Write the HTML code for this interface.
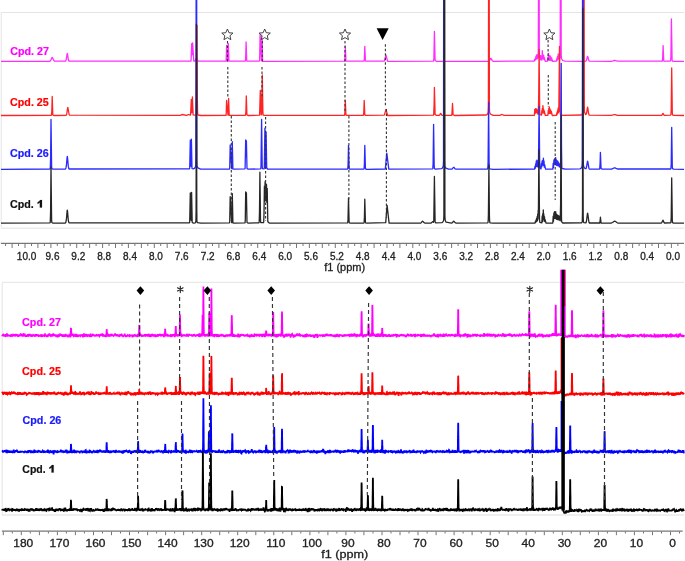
<!DOCTYPE html><html><head><meta charset="utf-8"><style>html,body{margin:0;padding:0;background:#fff;width:685px;height:561px;overflow:hidden}svg{display:block;will-change:transform}text{font-family:"Liberation Sans",sans-serif}</style></head><body>
<svg width="685" height="561" viewBox="0 0 685 561">
<defs><clipPath id="c2"><rect x="0" y="269.4" width="685" height="260"/></clipPath><clipPath id="c1"><rect x="0" y="0" width="685" height="235"/></clipPath></defs>
<path d="M1.2 227.6 V12.5 H684" fill="none" stroke="#e4e4e4" stroke-width="1"/>
<path d="M1 228.3 H684" stroke="#ebebeb" stroke-width="1.4"/>
<path d="M2.2 514.8 V282.3 H684" fill="none" stroke="#e4e4e4" stroke-width="1"/>
<path d="M2 515 H684" stroke="#e9e9e9" stroke-width="1.6"/>
<g clip-path="url(#c1)" fill="none" stroke-width="1.3" stroke-linejoin="round">
<path stroke="#ff2eff" d="M1 61.4 49.7 61.3 50.3 60.9 51 59.8 52 57.5 52.2 57.4 52.5 57.7 53.8 60.5 54.4 61.1 65.4 61.2 65.8 60.9 66.2 59.6 67.1 53.9 67.3 53.4 67.5 53.9 68.3 59.6 68.8 60.9 69.2 61.2 190.9 61.1 191.1 60.2 191.7 43.7 192.1 54.8 192.6 42.8 193.8 61.2 194.7 61 195.3 60.3 196.1 58.6 196.4 58.4 196.7 58.6 197.8 60.7 198.4 61.2 226 61.1 226.2 59.4 226.6 45.4 227.2 61.1 227.7 61.1 227.9 60.2 228.3 43.4 228.9 61.1 245.2 61.2 245.4 60.7 245.7 57.1 246.1 41.9 246.7 60.2 247 61.2 259.4 61.1 259.6 60.5 260.1 34.2 261.4 60.8 261.6 58.1 262 34.4 262.6 61 263.5 61.3 344.5 61.2 344.6 60.9 344.9 58.1 345.3 46.4 345.9 60.4 346.2 61.2 364 61.1 364.3 59.6 364.8 46.4 365.4 60.4 365.7 61.2 384.3 61 386 55.2 387.6 61.4 433.5 61.1 433.6 60.8 433.9 57.8 434.4 31.4 435.1 60.4 436.4 61.3 488.7 61.3 489.2 61 490.1 59.7 490.6 58.6 490.9 58.4 491.2 58.6 492.3 60.7 493.1 61.3 534.3 61 534.7 59.3 535 60.3 535.3 58.3 535.6 59.7 535.9 56.4 536.2 59.1 536.5 54.8 536.8 58 537.1 54.8 537.4 58.6 537.6 54.7 538.1 57.9 538.3 49.3 538.7 -50 539.1 -50 539.3 52.8 539.4 56.9 540.2 59.8 540.6 55.7 541.1 59.7 541.5 56.2 542 60.1 542.3 50.7 542.7 58.1 543 54.7 543.3 58.6 543.6 55.4 544 59.7 544.2 57.5 545.3 61.3 547.4 61.1 547.8 57.3 548.1 59.9 548.5 53.3 548.8 58.9 549 55.6 549.6 60.3 550 55.6 550.4 60.1 550.6 56.6 551.1 60.6 551.5 57.8 552.5 61.3 556.5 61 556.9 58.1 557.2 60.2 557.6 56.4 557.9 58.9 558.2 53.9 558.5 59.1 558.7 54.9 559.5 59.5 560 57.9 560.2 49.3 560.4 -50 561 -50 561.2 52.8 561.3 56.9 561.6 58.7 562.6 60.5 565 61.2 585.4 61.3 586 61 586.4 60.3 587.4 56.7 587.6 56.4 587.8 56.7 588.8 60.3 589.3 61.1 611 61.3 613.1 60.8 614.2 60.5 615.2 60.5 617.3 61.2 662.3 61.2 662.4 60.9 662.7 57.9 663.1 45.6 663.7 60.4 664 61.2 670.4 61.1 670.6 60.6 670.9 56.2 671.4 19 672.1 60 672.4 61.1 673.4 61.3 684 61.4"/>
<path stroke="#ff2424" d="M1 115.5 51.3 115.3 51.5 114.9 51.8 111.3 52.2 96.5 52.8 114.3 53 115.2 54.2 115.5 66 115.3 66.3 115 66.8 113.7 67.6 108 67.8 107.5 68 108 69.1 114.5 69.5 115.2 180.3 115.4 182 114.5 186.6 115.4 188.6 114.5 190.4 115.2 190.6 114.8 191.3 99.4 191.8 112.5 192.1 108.3 192.4 96.9 193.1 114.8 195.4 115.2 196 114.9 196.2 114.5 196.3 114 196.5 110 197 25.5 197.3 92.2 197.5 110 197.7 114 198.1 115 201.2 115.5 226 115.3 226.2 113.7 226.6 100.5 228 115.1 228.3 111.7 228.6 98.5 229.2 115.3 245.4 115.3 245.6 114.8 245.9 111.2 246.3 96 246.9 114.3 247.1 115.2 248.3 115.5 259.4 115.2 259.6 114.6 260.3 90.4 261.1 114.8 261.4 114.9 261.6 113.8 262.3 75 262.9 112.9 263.2 115.1 264.3 115.4 344.5 115.3 344.6 115 344.9 112.2 345.3 100.5 345.9 114.5 346.2 115.3 363.4 115.3 363.5 115 363.8 112.2 364.2 100.5 364.8 114.5 365.1 115.3 384.3 115.1 386 109.4 387.6 115.5 433.5 115.2 433.7 114.5 434.1 105.1 434.4 87.5 435.1 114.5 436.5 115.4 439.3 115.3 440.1 114.4 440.5 113.6 440.7 113.5 441.1 114 441.8 115.1 442.4 115.4 451.7 115.3 451.9 114.7 452.5 103.5 453.1 114.7 454.5 115.5 486.3 115 487.1 114.5 487.7 113.7 488.2 112.1 488.4 106.9 488.6 -21 488.7 -50 489.1 -50 489.2 -21 489.4 106.9 489.5 111 489.6 112.1 490.3 114 493.1 115.3 500 115.3 501.6 114.5 502 114.5 504.1 115.4 534.4 115.3 534.8 109.4 535.2 113.4 535.5 108.6 535.8 112.6 536.1 109.4 536.4 112.4 536.7 108.9 537 112.8 537.3 109.8 537.6 113.9 537.8 110.4 538.3 114.2 538.7 96.4 539.1 49.5 539.7 111 540 114.7 541.5 115.2 541.9 110.3 542.1 113.4 542.4 108.3 542.7 112.3 542.9 105.6 543.4 111.3 543.6 109.2 544 113.5 544.2 110.7 545.3 115.4 547.9 115.3 548.3 110.4 548.5 113.5 548.8 108.3 549.1 112.6 549.3 106.9 549.7 113.5 550 109 550.3 113.1 550.6 110.1 551 113.7 551.2 111.2 552.3 115.5 556.4 115.3 556.9 112.6 557.1 114.5 557.5 110.7 557.8 113.3 558.1 108.2 558.4 112.6 558.7 109.2 558.8 111.7 559.5 46.5 560.1 111.3 560.4 114.7 563 115.4 581.2 115 582 114.4 582.6 113.7 583.1 112 583.2 111.2 583.3 106.9 583.5 -21 583.6 -50 584 -50 584.1 -21 584.3 106.9 584.5 112 585.4 114.2 585.7 114.5 586.1 114.4 586.6 113 587.5 107.4 587.6 107.2 587.8 107.9 588.6 113.6 589.1 114.9 589.5 115.2 611 115.4 613.1 114.9 614.2 114.6 615.2 114.6 617.3 115.3 661.3 115.4 661.7 115.3 662.8 113.6 663 113.5 663.2 113.6 664 115.1 664.7 115.4 670.7 115.1 670.9 114.6 671.2 109.7 671.7 67.9 672.3 112.5 672.5 114.9 673.7 115.4 684 115.5"/>
<path stroke="#2a2aff" d="M1 169.3 49.9 169 50.2 168.6 50.3 167.6 50.6 158.3 51 119.3 51.6 166.1 51.8 168.6 53 169.2 65.2 169.1 65.6 168.9 66 167.7 66.5 164.5 67.1 157.2 67.3 156.3 67.5 157.2 68.3 166.4 68.8 168.5 69.2 169 189.5 168.9 189.7 168.2 190.3 140.1 190.9 166.3 191.4 139.2 192 168.5 193.1 168.9 194.5 168.4 195.4 166.9 195.7 165.8 195.9 157.2 196.2 -50 196.6 -50 196.9 160.7 197 164.8 197.1 165.9 197.8 167.8 200.6 169.1 229.5 169 229.7 168.4 230.2 144.9 231.7 168.7 231.9 165.9 232.3 141.7 232.9 168.9 234 169.2 244.9 168.9 245.1 168.2 245.7 139.9 246.1 156.7 246.4 140.9 247 168.6 248.2 169.2 260.5 168.9 260.8 168.6 261 166.1 261.6 119.3 262.2 166.1 262.4 168.6 264.1 168.8 264.3 167.8 264.9 128.2 265.5 167.3 266.1 132.1 266.7 168 267.8 169.2 347.6 169.1 347.8 168.5 348.1 164 348.5 145.3 349.1 167.8 349.3 169 350.5 169.2 363.9 169.1 364.1 168.5 364.4 164 364.8 145.3 365.4 167.8 365.6 169 367 169.3 385.3 169 386.8 153.1 388.8 169.2 432.6 168.9 432.8 168.4 433.1 163.8 433.6 124.3 434.2 166.4 434.4 168.7 435.6 169.2 441.6 168.7 442.4 168.1 443.2 166.3 443.3 165.9 443.5 160.7 443.7 -50 444.2 -50 444.5 160.7 444.7 165.9 445.4 167.8 448.4 169.1 451.7 169.1 452.3 168.8 453.4 167.4 453.7 167.3 454 167.4 455.1 168.8 456.2 169.2 487 169.1 487.6 168.8 487.7 168.5 487.9 167.2 488.1 161.7 488.6 102.3 489.1 161.7 489.3 167.2 489.5 168.5 489.8 168.9 493 169.3 534.6 169.1 535 166.2 535.3 168.2 535.7 163.7 536 166.8 536.3 160.9 536.6 166.4 536.9 160.1 537.2 165.3 537.5 160.8 537.8 166.9 538 161.2 538.4 167.2 539.1 106.3 539.7 164.6 540 168.5 541 168.9 541.4 163.1 541.8 166.8 542.1 160.9 542.4 165.3 542.7 160.3 543.1 165.1 543.4 158.2 543.7 165.4 544 161 544.3 167.2 544.5 164.5 545.6 169.2 552.8 169.1 553.2 163.2 553.5 167.6 553.9 160 554.2 164.6 554.5 159.1 554.8 164.1 555.1 158.2 555.4 164.2 555.7 157.7 556.1 165 556.4 160 556.7 165.4 557 160.9 557.3 165.4 557.6 160.9 557.9 165.8 558.2 161.8 558.6 164.6 558.8 162.9 559.2 166.6 559.5 164 559.8 167 560 164.1 560.5 167.9 560.7 162 561.2 63.3 561.5 147.4 561.8 166.9 562.1 168.5 565.4 169.2 580.2 168.8 581.2 168.1 581.8 167.1 582.1 165.8 582.3 160.7 582.6 -50 583 -50 583.3 160.7 583.4 164.8 583.9 167.1 585.1 168.6 585.8 168.7 586.1 168.5 586.6 166.8 587.4 161.7 587.6 161.1 587.8 161.7 588.9 168.2 589.3 169 599.6 169.1 599.7 168.7 600.1 163 600.4 152.3 601.1 168.7 602.4 169.2 611 169.2 612.1 169 614.2 167.9 615 167.8 617.3 169 670.7 169 670.9 168.5 671.2 164.2 671.7 127.3 672.3 166.6 672.5 168.7 673.7 169.2 684 169.3"/>
<path stroke="#262626" d="M1 223.2 49.9 222.8 50.2 222.5 50.3 221.3 50.6 210.8 51 167.2 51.6 219.6 51.8 222.5 53 223.1 65.2 223 65.6 222.8 66 221.6 66.5 218.4 67.1 211.1 67.3 210.2 67.5 211.1 68.3 220.3 68.8 222.4 69.2 222.9 189.5 222.8 189.7 222.1 190.3 192.8 191.1 220.3 191.6 192.5 192.2 222.5 193.4 223.1 195.2 222.8 195.6 222.3 195.9 220.9 196.1 210.6 196.4 24.2 196.8 210.6 196.9 220.9 197.1 222 197.4 222.6 201 223.2 229.5 222.9 229.7 222.3 230.2 196.6 231.7 222.6 231.9 219.6 232.3 193.6 232.9 222.8 234 223.1 244.9 222.9 245.1 222.5 245.3 219.3 245.7 191.8 246.1 209.7 246.4 192.8 247 222.5 248.2 223.1 258.8 222.8 259.1 222.5 259.2 221.4 259.5 211.9 259.9 172.2 260.5 219.9 260.7 222.5 263.5 222.6 263.7 222.2 264 214 264.4 186.2 264.7 201.4 265.1 181.7 265.5 199.8 265.8 183.6 266.2 200.8 266.5 184.7 266.9 202.5 267.2 188.3 267.8 221.8 269.3 223.1 347.6 222.9 347.7 222.7 348 220.1 348.5 198.2 349.1 221.6 349.3 222.9 350.5 223.1 363.9 223 364.1 222.4 364.4 217.9 364.8 199.2 365.4 221.7 365.6 222.9 367 223.2 385.7 222.7 387.1 205.4 389.1 223.1 420.6 223.1 421.2 222.7 422.3 221.3 422.6 221.2 423.2 221.7 424 222.7 425.1 223.1 431.1 223 431.7 222.6 432.6 221.6 433.5 222.3 433.6 222 433.8 220 434.4 176.4 435.1 221.6 435.5 222.8 441.8 222.7 442.8 222 443.4 221 443.7 219.8 443.9 214.6 444.2 -50 444.7 -50 444.8 86.7 444.9 214.6 445 218.7 445.3 220.5 446.1 222.2 451.5 223.1 452 222.9 452.6 222.4 453.4 221.3 453.7 221.2 454 221.3 455.1 222.7 456.2 223.1 487.5 222.9 487.9 222.7 488 222.3 488.2 220.6 488.4 214.6 488.9 165.2 489.4 214.6 489.6 220.6 489.8 222.3 490.1 222.8 493.1 223.2 535 223 535.4 221.3 535.6 222.5 536 219.9 536.3 221.7 536.6 218.4 536.9 221.1 537.2 216.5 537.5 220.6 537.7 214.1 538 218.9 538.2 210.3 538.4 211.7 538.9 149.7 539.5 219.3 539.8 222.4 541.8 222.9 542.2 216 542.5 221.5 542.8 213.6 543.1 219 543.3 210 543.6 218.7 543.8 214 544.2 221.1 544.5 216.7 544.8 221.5 545 219.4 546.1 223.2 552.8 223 553.2 216.1 553.5 221.3 553.9 213 554.2 217.9 554.5 211.6 554.8 218.4 555.1 213 555.4 217.8 555.7 211.6 556 218.8 556.3 213.9 556.6 219.3 556.9 214.8 557.2 219.3 557.5 214.8 557.8 219.7 558.1 215.7 558.4 219.6 558.7 215.7 559 220 559.3 216.5 559.6 219.9 559.9 216.3 560.2 220.8 560.6 204.2 561 115.4 561.5 219 561.7 221.9 562.8 223 581.2 222.9 581.8 222.6 582.1 222 582.3 221 582.5 211.8 582.8 8.2 583.2 216.4 583.4 221.6 583.9 222.6 585.8 222.9 586.1 222.5 586.6 220.3 587.4 213.8 587.6 213.2 587.8 213.8 588.9 222 589.1 222.5 589.5 223 599.7 223 600.1 221 600.4 217.2 601.1 223 610.5 223.1 611.5 223 612.6 222.5 614.2 221.3 614.7 221.2 615.2 221.3 617.3 222.8 618.4 223.1 661.3 223.1 661.7 222.8 662.8 220.4 663 220.2 663.2 220.4 664 222.5 664.5 223 670.7 222.8 670.9 222.3 671.2 217.7 671.7 177.8 672.3 220.3 672.5 222.6 673.7 223.1 684 223.2"/>
</g>
<g clip-path="url(#c2)" fill="none" stroke-width="1.75" stroke-linejoin="miter" stroke-miterlimit="2">
<path stroke="#ff00ff" d="M2 335.2 2.3 335.8 2.6 335.2 2.9 335.2 3.2 334.7 3.5 335.2 3.8 336.2 4.1 335.7 4.4 336.2 4.7 335.6 5 335.7 5.3 335.5 5.6 334.1 5.9 336 6.2 335.8 6.5 335.8 6.8 334.1 7.1 334.1 7.4 334.7 7.7 335 8 335.6 8.3 335.4 8.6 335.8 8.9 334.9 9.2 335.6 9.5 335.7 9.8 334.9 10.1 336.7 10.4 335.8 10.7 336.3 11 334.9 11.3 334.8 11.6 335.1 11.9 335.3 12.2 335.9 12.5 335.6 12.8 335.1 13.1 334.7 13.4 335 13.7 336.3 14 334.8 14.3 335.6 14.6 335.7 14.9 334.3 15.2 335.4 15.5 336.4 15.8 333.9 16.1 335.2 16.4 335.3 16.7 334.8 17 335.8 17.3 335.3 17.6 334.3 17.9 336 18.2 335.9 18.5 336.1 18.8 336.5 19.1 335.7 19.4 335.5 19.7 334.4 20 335.9 20.3 334.9 20.6 335.1 20.9 334.4 21.2 334.7 21.5 335 21.8 336.4 22.1 333.9 22.4 334.3 22.7 335.6 23 336.5 23.3 335.8 23.6 334 23.9 333.5 24.2 335.7 24.5 334.8 24.8 334.6 25.1 336.1 25.4 336.2 25.7 335.5 26 335.6 26.3 335.7 26.6 336.6 26.9 335.9 27.2 335.8 27.5 335.8 27.8 334.2 28.1 336.4 28.4 336.1 28.7 335.8 29 333.9 29.3 334.9 29.6 336 29.9 334 30.2 335.3 30.5 336.2 30.8 334.4 31.1 336.6 31.4 335.8 31.7 335.3 32 335.6 32.3 335.9 32.6 335.5 32.9 336.3 33.2 334.9 33.5 335.1 33.8 336.2 34.1 335.4 34.4 334.7 34.7 336.1 35 336.5 35.3 335.1 35.6 334.4 35.9 335.3 36.2 335.3 36.5 335.2 36.8 336.4 37.1 334.6 37.4 336.3 37.7 334.4 38 334.8 38.3 335.9 38.6 336.2 38.9 336 39.2 335.7 39.5 335.5 39.8 335.5 40.1 335.8 40.4 335.3 40.7 335.6 41 335.8 41.3 335.4 41.6 336 41.9 335.8 42.2 336.9 42.5 335.6 42.8 335.1 43.1 335.1 43.4 335.4 43.7 336.1 44 335.1 44.3 335.7 44.6 336.8 44.9 333.5 45.2 334.6 45.5 335.6 45.8 335.7 46.1 335.6 46.4 335.1 46.7 335.9 47 335.6 47.3 335 47.6 337.2 47.9 335.7 48.2 335 48.5 335.3 48.8 335.2 49.1 335.3 49.4 333.3 49.7 335 50 336.1 50.3 334.5 50.6 335.3 50.9 336.1 51.2 336 51.5 336.5 51.8 334.1 52.1 335.1 52.4 335.1 52.7 335.9 53 336.2 53.3 333.4 53.6 336.2 53.9 334.3 54.2 335.9 54.5 334.3 54.8 335.5 55.1 336.3 55.4 335.3 55.7 335.5 56 336 56.3 335.5 56.6 335.3 56.9 336.5 57.2 336.2 57.5 335.2 57.8 337.5 58.1 334.5 58.4 336.1 58.7 335.2 59 335.5 59.3 335.9 59.6 335.6 59.9 335.9 60.2 334.2 60.5 334.3 60.8 335.9 61.1 334.7 61.4 334.6 61.7 334.3 62 336.3 62.3 336 62.6 336.5 62.9 334.7 63.2 335.4 63.5 334.5 63.8 336 64.1 336.6 64.4 334.7 64.7 336.6 65 336.1 65.3 335.3 65.6 333.9 65.9 336.4 66.2 335.3 66.5 334.9 66.7 335.7 66.8 335.7 67.1 336.5 67.2 334.6 67.4 336.2 67.7 336.5 68 336.5 68.2 335.3 68.3 334.8 68.6 336.2 68.7 335.5 68.9 335.5 69.2 336.4 69.5 335.2 69.5 333.7 69.6 335.1 69.6 334 69.7 336 69.7 335.6 69.8 334.9 69.8 335.4 69.9 336 69.9 335.4 70 336.4 70.1 335.3 70.1 336.1 70.1 336.5 70.2 336.5 70.2 334.8 70.3 336 70.4 333.9 70.4 334.5 70.4 333.8 70.5 335.9 70.6 334 70.6 334.5 70.7 333.6 70.7 333.5 70.7 332.1 70.8 331.3 70.9 330.9 70.9 328.3 71 328.2 71.1 329.1 71.1 329.4 71.2 330.2 71.3 332.2 71.3 334.3 71.3 332.5 71.4 334 71.4 335.7 71.5 335.7 71.6 335.2 71.6 335.9 71.6 335.4 71.7 334.4 71.8 334.2 71.8 334.9 71.9 336 71.9 334.9 71.9 334.7 72 334.8 72.1 334.2 72.1 335.3 72.2 334.5 72.2 335.6 72.3 333.6 72.3 335.6 72.4 334.9 72.4 333.9 72.5 335.9 72.5 335.2 72.8 333.7 73.1 334.7 73.3 335.6 73.4 335 73.7 336 73.8 335.9 74 335.9 74.3 335.6 74.6 336.4 74.8 335.9 74.9 335.7 75.2 333.8 75.3 336.1 75.5 336.4 75.8 335.2 76.1 335 76.4 336.8 76.7 334.1 77 335.7 77.3 337.2 77.6 334.7 77.9 335.9 78.2 336.8 78.5 335.3 78.8 335.8 79.1 336.1 79.4 334.7 79.7 335.3 80 335.6 80.3 336 80.6 335.4 80.9 335.2 81.2 334.6 81.5 335.1 81.8 336.1 82.1 335.5 82.4 334.8 82.7 334.8 83 337.4 83.3 336.2 83.6 335.9 83.9 333.4 84.2 335.9 84.5 335.8 84.8 336.7 85.1 335.7 85.4 335.3 85.7 335.8 86 333.9 86.3 336.2 86.6 335.6 86.9 334.9 87.2 336.4 87.5 336.7 87.8 334.3 88.1 334.9 88.4 335.6 88.7 335.5 89 335.1 89.3 334.7 89.6 337 89.9 336.2 90.2 334.5 90.5 334.4 90.8 336.7 91.1 336.1 91.4 336.8 91.7 336 92 334.7 92.3 335.6 92.6 333.8 92.9 334.8 93.2 335.3 93.5 335.8 93.8 334.8 94.1 335.3 94.4 335.7 94.7 335.7 95 335.9 95.3 335.5 95.6 335.1 95.9 336 96.2 335.4 96.5 334.8 96.8 334.9 97.1 335.4 97.4 335.3 97.7 335.5 98 335.4 98.3 335.5 98.6 335.3 98.9 334.4 99.2 335.7 99.5 336.2 99.8 335.7 100.1 335.2 100.4 335.7 100.7 334.7 101 334 101.3 335.4 101.6 334.7 101.9 335.9 102.2 334.6 102.4 333.4 102.5 334.6 102.8 336.6 102.9 335.1 103.1 334.4 103.4 334.8 103.7 335.8 103.9 335.8 104 335.5 104.3 336.5 104.4 335.9 104.6 335.4 104.9 335.8 105.2 336.6 105.2 336.1 105.3 336.1 105.3 334.6 105.4 335.3 105.4 335.9 105.5 335.2 105.5 336.2 105.6 335.8 105.6 336 105.7 335.2 105.8 337.3 105.8 336.3 105.8 335.2 105.9 335.4 105.9 337.3 106 335.1 106.1 336 106.1 336 106.1 335.3 106.2 334.3 106.3 335.2 106.3 334.9 106.4 334.9 106.4 334.5 106.4 333.2 106.5 332.7 106.6 331.2 106.6 329.9 106.7 329.4 106.8 329.6 106.8 331.3 106.9 331.2 107 332.7 107 333.9 107 333 107.1 334.3 107.1 333.5 107.2 334.7 107.3 335.7 107.3 335.7 107.3 335.3 107.4 335.2 107.5 334.3 107.5 336.7 107.6 335.7 107.6 336.2 107.6 334.7 107.7 335.2 107.8 334 107.8 336 107.9 336.1 107.9 333.9 108 335.3 108 335.8 108.1 334.1 108.1 334 108.2 334.6 108.2 334.9 108.5 334.3 108.8 335.4 109 335.6 109.1 335.9 109.4 335.9 109.5 336.5 109.7 336.3 110 334.4 110.3 335 110.5 334.6 110.6 334.6 110.9 335.3 111 335.4 111.2 335.8 111.5 334.2 111.8 334.5 112.1 335.4 112.4 335.2 112.7 335.2 113 335.3 113.3 334.8 113.6 335.9 113.9 335.7 114.2 335.3 114.5 334.9 114.8 335.3 115.1 333.4 115.4 334.7 115.7 335.4 116 334.3 116.3 335.5 116.6 335.5 116.9 334.4 117.2 335.2 117.5 335.2 117.8 335.7 118.1 335.9 118.4 335.4 118.7 334.8 119 335.3 119.3 335.3 119.6 335.9 119.9 335.6 120.2 334.9 120.5 334.4 120.8 335.1 121.1 334.8 121.4 334.6 121.7 335.3 122 335 122.3 335.5 122.6 335.8 122.9 335.1 123.2 337.1 123.5 335.2 123.8 336.2 124.1 335.5 124.4 336.2 124.7 333.6 125 334.8 125.3 335.6 125.6 335.8 125.9 337.1 126.2 335.6 126.5 336.4 126.8 336 127.1 336.1 127.4 335.8 127.7 335.3 128 335.8 128.3 334.6 128.6 336.3 128.9 334.6 129.2 335.6 129.5 337 129.8 335.2 130.1 335.4 130.4 336.3 130.7 335.4 131 334.8 131.3 335.6 131.6 335.8 131.9 335.9 132.2 334.8 132.5 336.7 132.8 336.6 133.1 335.4 133.4 335.6 133.7 335.1 134 336.5 134.3 334.9 134.5 335.9 134.6 335 134.9 334.9 135 335.9 135.2 336.4 135.5 335.4 135.8 334.9 136 336 136.1 335.3 136.4 335.6 136.5 336.5 136.7 336.2 137 335 137.3 337.1 137.5 335.4 137.6 336 137.8 334.9 137.9 335.3 137.9 334.1 137.9 336.7 138 336.4 138 334.5 138.1 334.2 138.2 334.1 138.2 336.2 138.2 335 138.3 335.3 138.4 335.1 138.4 335.2 138.5 334.5 138.5 335.3 138.5 334.2 138.6 335.2 138.7 335.5 138.7 335.5 138.8 334.9 138.8 334.4 138.9 334.9 138.9 333.8 139 334.4 139 332.3 139.1 330 139.1 329.4 139.2 327.2 139.2 325.4 139.3 325.1 139.4 326.3 139.4 327.3 139.4 328.2 139.5 331.4 139.6 331.2 139.6 333.2 139.7 336.3 139.7 333 139.7 334.4 139.8 335.2 139.9 335.3 139.9 335.6 140 335.1 140 335.6 140.1 335.3 140.1 335.9 140.2 333.9 140.2 334.7 140.3 335.3 140.3 334.6 140.4 334.6 140.4 335.8 140.5 334.9 140.6 335.8 140.6 335.9 140.6 335.6 140.7 335.7 140.7 335.3 140.8 334.3 140.9 335.4 141.2 335.7 141.5 335 141.6 335.3 141.8 335.9 142.1 334.7 142.4 335.9 142.6 336.8 142.7 335 143 335.5 143.1 335.3 143.3 336.5 143.6 335.6 143.9 336.1 144.1 334.9 144.2 335.4 144.5 335.4 144.8 334.1 145.1 336.5 145.4 336.1 145.7 334.1 146 335.9 146.3 335.3 146.6 335.7 146.9 335.7 147.2 334.3 147.5 335.2 147.8 336.5 148.1 335 148.4 334.6 148.7 334.4 149 334.5 149.3 335.6 149.6 336.7 149.9 335.7 150.2 335.6 150.5 337.1 150.8 335 151.1 334.9 151.4 335.8 151.7 335.8 152 334.6 152.3 334.5 152.6 335.6 152.9 335.6 153.2 334.4 153.5 335.2 153.8 335 154.1 335.7 154.4 335.3 154.7 335.3 155 335.1 155.3 336.2 155.6 336.4 155.9 335.1 156.2 336 156.5 334.8 156.8 335.4 157.1 336 157.4 336.5 157.7 335.1 158 335.3 158.3 335.5 158.6 334.3 158.9 335.4 159.2 334.9 159.5 335.7 159.8 334.5 160.1 333.9 160.4 335.4 160.7 335.6 160.9 335 161 336.1 161.3 335.2 161.4 334.9 161.6 335.7 161.9 334.2 162.2 334.9 162.4 335.4 162.5 336 162.8 335.3 162.9 335.6 163.1 334.9 163.4 335.6 163.7 336.6 163.7 334.9 163.8 337.2 163.8 334.9 163.9 335.4 163.9 335.5 164 336.1 164 334.4 164.1 333.8 164.1 335.8 164.2 336 164.3 335.8 164.3 337.3 164.3 335.5 164.4 335.5 164.4 336 164.5 335.6 164.6 336.6 164.6 334.4 164.6 335 164.7 332.6 164.8 335.6 164.8 334.4 164.9 334.8 164.9 335.5 164.9 333.2 165 331.8 165.1 330.4 165.1 329.2 165.2 328.9 165.3 330.3 165.3 330.8 165.4 332.1 165.5 333 165.5 334.6 165.5 334.4 165.6 334.6 165.6 335.5 165.7 335.1 165.8 334.4 165.8 336.4 165.8 335.7 165.9 334.6 166 336.2 166 335.6 166.1 334.2 166.1 336.6 166.1 335.6 166.2 336 166.3 335.5 166.3 335.3 166.4 334.2 166.4 336.1 166.5 335.4 166.5 335.2 166.6 335.6 166.6 335.4 166.7 335.9 166.7 335.1 167 335.4 167.3 333.8 167.5 335.1 167.6 335.9 167.9 336.4 168 335.1 168.2 335.3 168.5 336.6 168.8 335.1 169 335.9 169.1 336.6 169.4 335.4 169.5 336.3 169.7 334.9 170 335.5 170.3 335.3 170.6 335.5 170.9 336.2 171 337.2 171.2 334.9 171.5 335 171.8 335.8 172 334.6 172.1 335.8 172.4 335.8 172.5 335.2 172.7 335.8 173 334.2 173.3 336 173.5 334.2 173.6 334.9 173.9 335 174 335.1 174.2 336 174.3 335.4 174.4 335.1 174.4 335.8 174.5 336.5 174.5 335.4 174.5 335.6 174.6 336.3 174.7 335.6 174.7 334.4 174.8 337.2 174.8 337 174.9 333.9 174.9 335.3 175 335.6 175 336 175.1 335.8 175.1 335.1 175.2 334.5 175.2 335.3 175.2 336 175.3 334.3 175.4 334 175.4 334.5 175.4 332.8 175.5 333.2 175.5 331.7 175.6 330.7 175.7 328 175.7 327.1 175.7 326.7 175.8 326.3 175.9 326.5 175.9 328.5 176 330.9 176 331.5 176.1 333.3 176.1 332.8 176.2 334 176.2 332.6 176.2 336.2 176.3 334.5 176.3 335.1 176.4 335.6 176.4 334.2 176.5 335.6 176.6 335.3 176.6 333.9 176.6 335.5 176.7 336.2 176.7 333.9 176.7 335.9 176.8 335.5 176.9 335.7 176.9 335.7 176.9 336.3 177 335.2 177.1 336 177.1 335 177.2 335.9 177.2 334.7 177.2 335.3 177.3 336.7 177.5 335.7 177.7 335.2 177.8 334.5 178.1 334.8 178.2 335.5 178.4 336.1 178.5 335.7 178.6 335.7 178.6 335.3 178.6 336.4 178.7 335 178.7 334.9 178.7 336 178.8 335.4 178.9 335.1 178.9 334.9 179 335.1 179 335.8 179.1 335.6 179.1 334.4 179.1 335.6 179.2 335.4 179.2 334.5 179.3 335.8 179.3 335 179.4 334.9 179.4 335.6 179.5 335.7 179.6 333.7 179.6 333.9 179.6 332.4 179.7 332.9 179.7 328 179.8 325.6 179.9 320.3 179.9 320 179.9 319.3 180 314.5 180.1 317.3 180.1 319.7 180.1 320.8 180.2 324.2 180.2 327 180.3 328.4 180.3 330 180.4 333.7 180.4 332.9 180.5 335.6 180.5 334.3 180.6 335.1 180.6 336 180.6 335.2 180.7 334.2 180.8 334 180.8 336.1 180.8 335.8 180.9 334.7 180.9 335.9 181 335.7 181.1 335.8 181.1 333.6 181.1 335.1 181.2 336 181.3 335.9 181.3 336 181.4 333.5 181.4 335.5 181.4 335.7 181.5 337.3 181.7 334.6 182 335.1 182.3 335.4 182.6 336 182.8 335 182.9 336.2 183.2 334.8 183.3 335.6 183.5 335 183.8 335.5 184.1 334.9 184.3 334.2 184.4 336.2 184.7 335.6 184.8 335 185 335.5 185.3 336.1 185.6 334.7 185.9 335.3 186.2 335.8 186.5 335.8 186.8 335.1 187.1 333.8 187.4 336.3 187.7 335.6 188 335.4 188.3 335.2 188.6 335.6 188.9 335.1 189.2 334.6 189.5 334.8 189.8 334.9 190.1 334.9 190.4 334.5 190.7 335.9 191 334.4 191.3 335.9 191.6 334.6 191.9 335.7 192.2 336.4 192.5 335.5 192.8 334.8 193.1 335.4 193.4 335.5 193.7 334.1 194 334.9 194.3 335.5 194.6 335 194.9 335.4 195.2 335.9 195.5 336 195.8 336.1 196.1 335.8 196.4 335.2 196.7 335.4 197 335.2 197.3 335.1 197.6 335.2 197.8 334.1 197.9 335.1 198.2 335.4 198.3 334.6 198.5 335.4 198.6 335.8 198.8 335.2 199.1 336.9 199.3 333.4 199.4 335.2 199.6 334 199.7 336.1 199.8 337.3 200 333.5 200.1 335.4 200.3 335.7 200.6 335.1 200.8 335.7 200.9 333.6 201.1 335.9 201.1 335.6 201.2 335.3 201.2 334.8 201.2 335.8 201.3 334.9 201.3 335.4 201.4 334.9 201.5 333.6 201.5 335.2 201.5 335.4 201.6 335.8 201.6 334.6 201.7 335.2 201.7 335.6 201.8 335.3 201.8 336.1 201.8 336.6 201.9 334.4 201.9 333.6 202 335.7 202 336.2 202 335.6 202 335.5 202.1 334.2 202.1 334 202.1 335.2 202.1 333.5 202.2 332.6 202.2 332.5 202.2 334.7 202.3 332.9 202.3 330.3 202.3 328.2 202.3 328 202.4 324.6 202.4 325.6 202.4 323.9 202.5 320.2 202.5 320.8 202.5 316.9 202.5 316.6 202.6 315.2 202.6 314.8 202.6 315.9 202.7 315.8 202.7 316.7 202.7 316.8 202.7 318.6 202.8 321.7 202.8 323.4 202.8 326 202.9 327.3 202.9 328.6 202.9 328.4 203 328.9 203 327.6 203 328.6 203 328.4 203 327.5 203.1 323.9 203.1 322.1 203.1 317.9 203.2 314.7 203.2 308.7 203.2 305.6 203.3 298.6 203.3 296.7 203.3 294.3 203.3 290.2 203.4 288.2 203.4 286.6 203.4 288.7 203.5 291.8 203.5 292.5 203.5 298.9 203.5 302.3 203.6 309 203.6 311 203.6 310.3 203.7 317.1 203.7 320.3 203.7 325.8 203.7 326.5 203.8 328.8 203.8 330.2 203.8 331.8 203.9 332.2 203.9 334.8 203.9 333.2 203.9 334 204 336 204 335.4 204 335 204 334.3 204.1 335.2 204.1 336.1 204.2 335.4 204.2 335.9 204.2 335.1 204.3 335.4 204.3 334.9 204.4 335.4 204.5 336.1 204.5 334.1 204.5 335.1 204.6 335.4 204.7 334.8 204.7 335 204.8 335.8 204.8 336.7 204.8 335.7 204.9 335.5 204.9 334.1 205 336.7 205.1 335.3 205.4 335.3 205.5 334.5 205.7 335.3 205.9 334.5 206 335.4 206.2 335.7 206.3 335.4 206.4 335.5 206.5 334.7 206.6 336.4 206.7 334.8 206.9 334 207 335.2 207.1 334.8 207.2 334.6 207.4 335.1 207.5 335.5 207.6 334.4 207.7 335.2 207.8 336.4 207.8 335.8 207.9 335.2 207.9 335.4 208 335.2 208 335.3 208.1 335.8 208.1 335.2 208.2 333.5 208.2 335.2 208.2 334.6 208.3 335.7 208.4 334.8 208.4 335.3 208.4 336.8 208.5 334.4 208.5 334.3 208.6 334.1 208.6 333.3 208.7 333.6 208.7 335.3 208.7 334.4 208.8 333.2 208.9 332.8 208.9 333 209 329.7 209 329.3 209 327.1 209.1 324.3 209.1 323.9 209.2 318.5 209.2 314 209.3 312.5 209.4 315.2 209.4 318.8 209.5 322.2 209.6 327.2 209.6 329.7 209.6 330.3 209.7 332.1 209.7 332.8 209.8 334.1 209.9 333.7 209.9 335.8 209.9 335.3 209.9 334.1 210 336 210 335.7 210 333.6 210.1 336.5 210.1 335.7 210.1 336.6 210.1 334.2 210.2 335.5 210.2 335.4 210.2 335.2 210.2 335.2 210.3 335.9 210.3 334 210.3 334.2 210.4 334 210.4 334.7 210.4 334.6 210.5 335.3 210.5 335.2 210.5 335.1 210.5 334.5 210.6 334.7 210.6 335.7 210.6 335.5 210.6 335 210.7 334.6 210.7 336 210.7 334.3 210.8 335.2 210.8 335.5 210.8 334.3 210.8 335 210.9 332.9 211 333.1 211 329.8 211.1 323.8 211.1 324 211.1 317.3 211.2 309.9 211.3 298.8 211.3 291.4 211.4 288.6 211.5 291.3 211.5 299.6 211.6 308.6 211.6 311.2 211.7 318 211.7 323.7 211.7 322.9 211.8 330.5 211.8 332.4 211.9 332.4 212 334.5 212 335 212 335.6 212.1 334.1 212.1 336.1 212.2 334.9 212.2 336.8 212.3 335 212.3 335.6 212.3 334.9 212.4 334.3 212.5 336 212.5 335.9 212.6 336.4 212.6 335.9 212.7 334.8 212.7 334 212.8 334.8 212.8 334.8 212.9 334.7 212.9 335.7 213.1 335.5 213.2 335.1 213.5 335.5 213.6 335.2 213.7 335.5 213.8 335.9 214.1 336.1 214.2 334.8 214.4 334.2 214.7 336.4 215 335.5 215.2 336.2 215.3 334.1 215.6 335.1 215.7 335.4 215.9 334.3 216.2 335 216.5 335.9 216.8 336.2 217.1 336.6 217.4 334.7 217.7 334.3 218 335.8 218.3 336.1 218.6 335.5 218.9 334.4 219.2 336 219.5 336 219.8 335.8 220.1 335 220.4 335.6 220.7 336 221 335 221.3 334 221.6 335.6 221.9 335.7 222.2 335.4 222.5 336.1 222.8 334.9 223.1 335.3 223.4 335.2 223.7 335.8 224 336.6 224.3 335.2 224.6 336.9 224.9 336.5 225.2 336 225.5 335.8 225.8 336.7 226.1 335.2 226.4 335.3 226.7 334.6 227 335.7 227.3 336.4 227.5 335.8 227.6 335.7 227.9 335.2 228 335.5 228.2 334.3 228.5 336.2 228.8 335.1 229 334.5 229.1 334.8 229.4 334.8 229.5 336 229.7 336.2 230 334.3 230.3 336 230.3 336 230.4 334.9 230.4 334.2 230.5 334.8 230.5 334.9 230.6 335.6 230.6 335.1 230.7 333.8 230.7 335.5 230.8 334.1 230.9 336 230.9 334.4 230.9 334.7 231 334.6 231 334.8 231.1 336.2 231.2 335.8 231.2 335.5 231.2 335.2 231.3 333.6 231.4 333.7 231.4 332.5 231.5 330.2 231.5 330.7 231.5 327.4 231.6 323.6 231.7 319.3 231.7 315.2 231.8 315.8 231.9 317.7 231.9 320.2 232 323.4 232.1 326 232.1 330.5 232.1 331.9 232.2 333.2 232.2 334.8 232.3 335.8 232.4 335.8 232.4 334.7 232.4 335.9 232.5 335.8 232.6 334.1 232.6 334.9 232.7 334.2 232.7 335.2 232.7 335.7 232.8 334.5 232.9 333.8 232.9 336.3 233 335.6 233 336.4 233.1 334.3 233.1 336.1 233.2 336.9 233.2 336.8 233.3 335.2 233.3 335.5 233.6 335.2 233.9 336.1 234.1 336.1 234.2 335.4 234.5 334.4 234.6 335.9 234.8 335 235.1 335.9 235.4 335.6 235.6 336.6 235.7 336.2 236 335 236.1 335.6 236.3 336.7 236.6 335 236.9 335.7 237.2 336.3 237.5 336.3 237.8 335.8 238.1 334.4 238.4 334.4 238.7 335.6 239 335.7 239.3 337.3 239.6 334.7 239.9 336.2 240.2 336 240.5 334.1 240.8 334.8 241.1 335.5 241.4 335 241.7 335.3 242 335.7 242.3 334.8 242.6 335.7 242.9 334.9 243.2 335 243.5 335.8 243.8 335 244.1 335.6 244.4 336.6 244.7 335.4 245 335.3 245.3 335.9 245.6 335.1 245.9 336.2 246.2 334.4 246.5 335.9 246.8 335 247.1 334.8 247.4 336.7 247.7 334.8 248 336.7 248.3 335.9 248.6 336.5 248.9 334.7 249.2 336.3 249.5 336.5 249.8 335.3 250.1 335.3 250.4 337.2 250.7 335.5 251 335.1 251.3 334.9 251.6 335.7 251.9 335.6 252.2 335.5 252.5 336.7 252.8 335.1 253.1 335.7 253.4 336.5 253.7 334.6 254 336.2 254.3 336.8 254.6 334.4 254.9 334.6 255.2 334.6 255.5 334 255.8 335.7 256.1 334 256.4 335.8 256.7 336.5 257 334.2 257.3 335.2 257.6 333.9 257.9 336 258.2 334.8 258.5 335.2 258.8 335.4 259.1 335.8 259.4 335.1 259.7 335.4 260 335 260.3 335.5 260.6 334.5 260.9 335.4 261.2 333.9 261.4 335 261.5 336.8 261.8 335.4 261.9 334.4 262.1 335.6 262.4 334.7 262.7 334.1 262.9 334.8 263 335.9 263.3 335.7 263.4 335.3 263.6 334.7 263.9 334.6 264.2 336.4 264.4 335.6 264.5 334.7 264.7 333.8 264.8 334.3 264.8 337.2 264.8 334.5 264.9 335.3 264.9 335.5 265 335.3 265.1 335.2 265.1 334.3 265.1 334.6 265.2 336.6 265.3 334.8 265.3 336 265.4 334.1 265.4 335.2 265.4 335.5 265.5 336.1 265.6 334.5 265.6 335.8 265.7 335.5 265.7 334.7 265.8 335.5 265.8 334.2 265.9 333.9 265.9 333.9 266 331.2 266 333.1 266.1 331.6 266.1 330.6 266.2 331.1 266.3 332.2 266.3 331.7 266.3 333.3 266.4 332.3 266.5 332.9 266.5 335.7 266.6 335.2 266.6 335.7 266.6 334.5 266.7 335.9 266.8 335.5 266.8 335.8 266.9 335.4 266.9 336.3 267 334.9 267 334.6 267.1 334.3 267.1 336.2 267.2 334.8 267.2 334.6 267.3 334.7 267.3 335 267.4 334.4 267.5 335.2 267.5 334.9 267.5 335 267.6 334.7 267.6 335.4 267.7 335 267.8 335.5 268.1 335.6 268.4 335.6 268.5 333.7 268.7 335 268.9 334.8 269 336 269.3 334.2 269.4 334.8 269.5 335.2 269.6 335.1 269.9 336.1 270 335 270.2 336.1 270.4 334.3 270.5 334 270.8 336.3 270.9 335.7 271 335.7 271.1 335.5 271.4 335.7 271.7 334.4 271.7 336 271.8 334.9 271.8 336.1 271.9 335.4 271.9 333.8 272 334.3 272 336.2 272.1 335.2 272.1 335 272.2 335.5 272.3 334.9 272.3 334.8 272.3 335.3 272.4 335.3 272.4 336.3 272.5 335.2 272.6 336.5 272.6 336.4 272.6 336.2 272.7 335.4 272.8 334 272.8 332.7 272.9 330.2 272.9 329 272.9 326.8 273 322 273.1 319 273.1 314.3 273.2 312.1 273.3 312.5 273.3 317.7 273.4 322.2 273.5 326.1 273.5 328.7 273.5 328.6 273.6 333 273.6 333.9 273.7 336.5 273.8 334.9 273.8 334.9 273.8 336.2 273.9 335.3 274 335.3 274 334.9 274.1 334.8 274.1 336.4 274.1 336 274.2 336.6 274.3 335 274.3 335.3 274.4 334.6 274.4 336 274.5 334.3 274.5 335.7 274.6 336.2 274.6 336.4 274.7 334.6 274.7 336.2 275 334.8 275.3 334.8 275.5 334.4 275.6 336.2 275.9 336.6 276 334.9 276.2 334.8 276.5 335.1 276.8 337.3 277 336.1 277.1 335 277.2 334 277.4 334.9 277.5 336.3 277.7 336.8 278 335.2 278.2 334.9 278.3 335 278.6 334 278.7 336.1 278.9 334.6 279.2 336.2 279.5 334.1 279.7 334.4 279.8 335.6 280.1 334.8 280.2 335.9 280.4 335.3 280.5 334.5 280.6 335.8 280.6 336 280.7 333.9 280.7 336.7 280.7 335.7 280.8 335.9 280.9 333.9 280.9 334.8 281 335 281 336.1 281.1 334.2 281.1 334.6 281.2 333.7 281.2 335 281.3 335.4 281.3 333.9 281.4 334.6 281.4 335.3 281.5 335.8 281.6 334.4 281.6 332.9 281.6 331.7 281.7 329.6 281.7 326.4 281.8 322.6 281.9 317.7 281.9 317.2 281.9 314.1 282 311.6 282.1 315.1 282.1 318.5 282.2 322.6 282.2 322.8 282.3 325.5 282.3 329.5 282.4 333.3 282.4 333.3 282.5 333.6 282.5 334.8 282.6 335.1 282.6 335.5 282.7 335.6 282.8 336.3 282.8 334.6 282.8 336 282.9 334.5 282.9 335.8 283 335.4 283.1 335.5 283.1 336 283.1 335.3 283.2 336.1 283.3 336 283.3 335.4 283.4 334.9 283.4 334.8 283.4 334.9 283.5 335.2 283.7 335.3 284 337.6 284.3 335.8 284.6 335.9 284.8 334.7 284.9 334.8 285.2 335.1 285.3 335.5 285.5 334.6 285.8 336.6 286.1 335 286.3 336.2 286.4 333.6 286.7 335.4 286.8 335.6 287 335.5 287.3 335.8 287.6 335.6 287.9 335.5 288.2 334 288.5 334.8 288.8 333.6 289.1 335.9 289.4 335.6 289.7 335.2 290 334.8 290.3 334.9 290.6 336.8 290.9 336.7 291.2 335.3 291.5 336.4 291.8 334.2 292.1 333.9 292.4 335 292.7 334.7 293 335 293.3 335.5 293.6 337.7 293.9 334.9 294.2 335.4 294.5 335.6 294.8 335.4 295.1 336.1 295.4 336.7 295.7 334.5 296 335.5 296.3 335.2 296.6 335.7 296.9 334.2 297.2 334.1 297.5 333.6 297.8 335.8 298.1 335.5 298.4 335.4 298.7 333.6 299 335.1 299.3 334.8 299.6 334.3 299.9 334.7 300.2 335.9 300.5 335.8 300.8 335.4 301.1 335.8 301.4 334.9 301.7 335.4 302 335.4 302.3 335.8 302.6 335.3 302.9 335.3 303.2 335.3 303.5 334.9 303.8 337.1 304.1 335.8 304.4 335.7 304.7 337.1 305 336.4 305.3 334.2 305.6 335.9 305.9 336 306.2 336.8 306.5 336.4 306.8 336 307.1 334.5 307.4 334.7 307.7 335.6 308 335.8 308.3 334.6 308.6 335.1 308.9 335.1 309.2 335.4 309.5 335.6 309.8 335.2 310.1 334.5 310.4 336.3 310.7 336.6 311 335.3 311.3 336.2 311.6 335.7 311.9 335.9 312.2 335.7 312.5 334.8 312.8 335.8 313.1 336.1 313.4 334.7 313.7 336.9 314 337 314.3 336.8 314.6 336.9 314.9 335.9 315.2 335.1 315.5 334.9 315.8 334.8 316.1 335.5 316.4 335.4 316.7 335.9 317 333.9 317.3 337.1 317.6 337.1 317.9 335.4 318.2 335.9 318.5 335.7 318.8 335.6 319.1 335.2 319.4 335.3 319.7 334.8 320 335.5 320.3 335.4 320.6 335.6 320.9 334.7 321.2 335.4 321.5 335.4 321.8 335.8 322.1 334.6 322.4 335.7 322.7 336.1 323 335.8 323.3 335.1 323.6 335 323.9 335.2 324.2 335.9 324.5 336.6 324.8 335.3 325.1 334.9 325.4 335.7 325.7 335.5 326 334.7 326.3 334.8 326.6 335.3 326.9 335.9 327.2 334.5 327.5 334.6 327.8 335.8 328.1 334.5 328.4 335.5 328.7 335.6 329 335.3 329.3 334.6 329.6 335.3 329.9 335.1 330.2 335.6 330.5 334.8 330.8 336.2 331.1 334.1 331.4 335.3 331.7 335.4 332 336.1 332.3 334.9 332.6 335.8 332.9 335 333.2 335.9 333.5 336.7 333.8 335.1 334.1 335.7 334.4 334.7 334.7 336.1 335 336.3 335.3 335.4 335.6 334.5 335.9 335.7 336.2 336.2 336.5 336.2 336.8 336 337.1 334 337.4 334.9 337.7 336.5 338 334.5 338.3 336.2 338.6 336.8 338.9 336 339.2 336.2 339.5 335.1 339.8 334.5 340.1 335.3 340.4 335.2 340.7 335.3 341 335.9 341.3 335.3 341.6 335.5 341.9 335.7 342.2 335.4 342.5 336.8 342.8 335.7 343.1 335.4 343.4 335.2 343.7 334.9 344 336.4 344.3 335.5 344.6 334.6 344.9 335 345.2 335.3 345.5 335 345.8 336.2 346.1 334.5 346.4 335.8 346.7 335.5 347 334.5 347.3 335.4 347.6 335.3 347.9 335.8 348.2 335 348.5 335.6 348.8 334.1 349.1 334.6 349.4 336 349.7 336.2 350 335.4 350.3 334.9 350.6 336.2 350.9 333.8 351.2 334.8 351.5 335.9 351.8 335.9 352.1 334.6 352.4 334 352.7 336.5 353 335.5 353.3 334.7 353.6 335.4 353.9 336.1 354.2 333.4 354.5 336.2 354.8 335.9 355.1 333.8 355.4 336 355.7 334 356 336.2 356.3 335.7 356.6 337.1 356.8 334.9 356.9 335.4 357.2 336.2 357.3 334.9 357.5 334.8 357.8 335.1 358.1 335.3 358.3 334.6 358.4 335.7 358.7 335.8 358.8 335.4 359 336.6 359.3 335.1 359.6 336.3 359.8 334.9 359.9 335.9 360.1 333.9 360.2 335.5 360.2 335.2 360.2 335 360.3 334.9 360.3 335 360.4 334.8 360.5 333.6 360.5 334.8 360.5 334.9 360.6 334.9 360.7 334.5 360.7 335.1 360.8 335.8 360.8 335 360.8 334.8 360.9 336.2 361 335.8 361 335.6 361.1 335.4 361.1 334.3 361.2 333.8 361.2 333.3 361.3 329.7 361.3 326.4 361.4 323 361.4 322.2 361.5 316.8 361.5 313.7 361.6 311.2 361.7 313.5 361.7 315.9 361.7 317.5 361.8 322.5 361.9 325.6 361.9 329.1 362 332 362 333.4 362 335 362.1 333.7 362.2 335.1 362.2 334.4 362.3 334.6 362.3 334.9 362.4 335.7 362.4 335.4 362.5 336.1 362.5 334.5 362.6 335.9 362.6 336 362.7 335.3 362.7 335.6 362.8 334.9 362.9 334.5 362.9 335 362.9 334.8 363 337.5 363 335 363.1 336.6 363.2 335.5 363.5 335.6 363.8 335.9 363.9 334.8 364.1 336 364.3 335.6 364.4 334.2 364.7 335.8 364.8 335.8 364.9 335.7 365 336.6 365.3 335.1 365.4 335.8 365.6 335.9 365.8 334.7 365.9 336.3 366.2 334.3 366.3 334.4 366.4 335.8 366.5 334.5 366.8 335.3 367.1 334.1 367.1 335.4 367.2 334.5 367.2 335.6 367.3 334.2 367.3 335.7 367.4 335.1 367.4 335.4 367.5 335.3 367.5 335.4 367.6 334.3 367.6 333.4 367.7 335.3 367.7 334.6 367.7 335 367.8 335.6 367.8 333.8 367.9 334.7 368 334.8 368 334.4 368 335.4 368.1 334.9 368.1 334.3 368.2 333.9 368.2 334.5 368.3 332.2 368.3 332.8 368.3 331.3 368.4 327.2 368.5 325.4 368.5 324.2 368.6 323.6 368.7 324.8 368.7 326.8 368.8 329.4 368.9 330.7 368.9 332.2 368.9 333.3 369 333.6 369 335.4 369.1 333.8 369.1 335.5 369.2 335 369.2 333.7 369.2 335.9 369.3 335.5 369.4 335.3 369.4 334.5 369.5 334.9 369.5 336.4 369.5 334.7 369.6 332.7 369.6 334.7 369.7 334.4 369.7 335.2 369.8 335 369.8 334.6 369.9 334.7 369.9 336.1 370 334.2 370 336.8 370.1 334.9 370.1 334.5 370.4 335.9 370.6 335.7 370.7 334.5 370.9 335.9 370.9 333.9 371 334.6 371 336.1 371 335.1 371.1 334.3 371.1 335.7 371.2 336 371.3 335.2 371.3 333.9 371.3 335 371.4 335.6 371.4 335.8 371.5 336.6 371.5 335 371.6 334.8 371.6 335.1 371.6 336 371.7 334.4 371.8 336 371.8 332.7 371.9 335 371.9 333.8 372 333.9 372 332.4 372.1 328.1 372.1 324.6 372.2 320.3 372.2 319.5 372.3 312.5 372.3 307.6 372.4 304.9 372.5 310.2 372.5 310.8 372.5 313 372.6 318 372.7 325.4 372.7 328.6 372.8 332.9 372.8 333.2 372.8 333.5 372.9 334.9 372.9 333.6 373 334.6 373 334.6 373.1 334.1 373.1 335.1 373.2 335 373.2 336.3 373.3 332.7 373.3 334.7 373.4 334.6 373.4 334.9 373.5 335.6 373.5 335.6 373.6 335.3 373.7 334.9 373.7 335.7 373.7 335.6 373.8 333.9 373.8 335.1 373.9 334.3 374 334.4 374.3 335.5 374.6 335.4 374.7 335.4 374.9 334.7 375.2 335.2 375.5 334.7 375.7 335.7 375.8 335.9 376.1 336.7 376.2 336.3 376.4 334.8 376.7 335 377 334.7 377.2 335.6 377.3 336.9 377.4 335.9 377.6 333.7 377.9 334.4 378.2 334.4 378.4 335.8 378.5 335.4 378.8 335.6 378.9 336.7 379.1 334.8 379.4 334.7 379.7 336.8 379.9 335.6 380 334.8 380.3 333.8 380.4 334.2 380.6 333.5 380.7 335.4 380.8 335.4 380.8 336.1 380.9 335.3 380.9 334.8 380.9 334.8 381 336.8 381.1 334 381.1 335.5 381.2 335.4 381.2 335.8 381.3 335 381.3 335.7 381.4 335.9 381.4 335.2 381.5 335 381.5 335.2 381.6 334.6 381.6 335.1 381.7 334.9 381.8 335.1 381.8 335.7 381.8 335.5 381.9 333.5 381.9 333.2 382 331.7 382.1 330.6 382.1 329.5 382.1 329 382.2 328 382.3 328.3 382.3 330.7 382.4 332.4 382.4 332.2 382.5 333.1 382.5 334 382.6 334.2 382.6 333.6 382.7 335.6 382.7 335.3 382.8 334.8 382.8 334.6 382.9 336.3 383 334 383 336.6 383 335.8 383.1 337.1 383.1 334.8 383.2 335.3 383.3 335 383.3 335.5 383.3 335.2 383.4 334.8 383.5 336.2 383.5 334.8 383.6 335 383.6 335.8 383.6 335 383.7 335 383.9 335.6 384.2 335.1 384.5 334.4 384.8 335.3 385 335.2 385.1 336.7 385.4 334.6 385.5 336.1 385.7 334.8 386 335.1 386.3 335.1 386.5 335.6 386.6 336 386.9 336.7 387 334.9 387.2 336.4 387.5 336.1 387.8 336 388.1 334.8 388.4 336.1 388.7 335.3 389 335.6 389.3 335.2 389.6 335.9 389.9 336.2 390.2 336.2 390.5 335.2 390.8 336.1 391.1 336.5 391.4 334.7 391.7 336.5 392 334.4 392.3 335.8 392.6 335.8 392.9 336.5 393.2 335.6 393.5 335 393.8 334.8 394.1 334.4 394.4 336 394.7 335.2 395 334.8 395.3 335.8 395.6 334.8 395.9 335.1 396.2 335 396.5 336.6 396.8 336.5 397.1 335.3 397.4 334.2 397.7 335.6 398 335.4 398.3 335.6 398.6 335.8 398.9 335.1 399.2 336.1 399.5 336 399.8 335.5 400.1 335.1 400.4 335 400.7 335.9 401 334.6 401.3 335.3 401.6 334.8 401.9 334.3 402.2 335.8 402.5 335.4 402.8 335.4 403.1 336 403.4 334.3 403.7 335.3 404 335.6 404.3 336 404.6 334.6 404.9 335.9 405.2 335.5 405.5 336.4 405.8 336.2 406.1 335.8 406.4 337 406.7 335.4 407 335.1 407.3 335.1 407.6 334.7 407.9 335.4 408.2 334 408.5 335.3 408.8 335.7 409.1 336.1 409.4 335.1 409.7 336.4 410 334.9 410.3 335.3 410.6 334 410.9 334.8 411.2 334.8 411.5 336.5 411.8 335.8 412.1 334.6 412.4 335.8 412.7 335.7 413 335.2 413.3 335.4 413.6 335.2 413.9 335 414.2 334.1 414.5 335.3 414.8 336.3 415.1 336.4 415.4 335.2 415.7 334.8 416 335.2 416.3 336 416.6 335.6 416.9 334.9 417.2 335.6 417.5 335.2 417.8 335.8 418.1 335.1 418.4 334.3 418.7 335.4 419 335.9 419.3 334.6 419.6 335.3 419.9 336 420.2 335.1 420.5 334.9 420.8 336.9 421.1 336 421.4 336.1 421.7 334.7 422 336.6 422.3 334.2 422.6 335 422.9 335.9 423.2 336.3 423.5 334.7 423.8 334.9 424.1 335.5 424.4 334 424.7 335.8 425 335.8 425.3 335 425.6 335.8 425.9 335.9 426.2 335.6 426.5 335.8 426.8 336.5 427.1 335 427.4 335.5 427.7 335 428 336.1 428.3 335.1 428.6 335.7 428.9 335.5 429.2 335.4 429.5 336.6 429.8 335.3 430.1 336.4 430.4 336 430.7 336.3 431 335.3 431.3 336 431.6 335.9 431.9 334.9 432.2 335.6 432.5 335.3 432.8 335.3 433.1 336.3 433.4 334.9 433.7 334.2 434 334.1 434.3 335 434.6 334.9 434.9 335.4 435.2 335.8 435.5 336.6 435.8 335.6 436.1 335.7 436.4 334.8 436.7 335.8 437 336.4 437.3 336.3 437.6 334 437.9 336 438.2 336.5 438.5 336 438.8 334.3 439.1 335.2 439.4 335.8 439.7 335.7 440 334.8 440.3 334.7 440.6 336.1 440.9 334.4 441.2 336.4 441.5 335.4 441.8 335.6 442.1 334.4 442.4 334.9 442.7 335.9 443 334.3 443.3 336.9 443.6 334.4 443.9 334.5 444.2 335.4 444.5 335.7 444.8 335.9 445.1 335.1 445.4 335.2 445.7 335.2 446 335 446.3 333.5 446.6 336.1 446.9 335.6 447.2 335.5 447.5 334.9 447.8 335.6 448.1 335.4 448.4 335.3 448.7 336.2 449 334.1 449.3 335.6 449.6 334.6 449.9 335.1 450.2 336.4 450.5 334.6 450.8 335.3 451.1 334.9 451.4 336.1 451.7 334.7 452 334.2 452.3 335.7 452.6 335.1 452.9 335.1 453.2 336.1 453.4 334.7 453.5 335.1 453.8 335.5 453.9 335.7 454.1 335 454.4 336.1 454.7 337 454.9 335.1 455 336.7 455.3 333.8 455.4 336.4 455.6 335.1 455.9 335.4 456.2 335.1 456.4 334.9 456.5 334.4 456.7 335 456.8 336.2 456.8 336.1 456.8 335.1 456.9 334.9 456.9 334.8 457 334.4 457.1 336.6 457.1 335.7 457.1 335.3 457.2 334.9 457.3 334.5 457.3 336.2 457.4 335.8 457.4 334.5 457.4 335.9 457.5 334.3 457.6 335.5 457.6 334.2 457.7 334.2 457.7 334.8 457.8 334 457.8 332.9 457.9 329 457.9 326.9 458 322.7 458 320.8 458.1 315.8 458.1 310.5 458.2 309.3 458.3 310.2 458.3 313.5 458.3 315.6 458.4 321.7 458.5 326.4 458.5 330.2 458.6 331.9 458.6 332.7 458.6 333.5 458.7 334.6 458.8 333.5 458.8 335.6 458.9 334 458.9 334.7 459 335.2 459 334.8 459.1 336.4 459.1 335.2 459.2 336.4 459.2 336.1 459.3 334.9 459.3 335.6 459.4 336.2 459.5 335 459.5 335.4 459.5 334.9 459.6 335.3 459.6 335.1 459.7 335.4 459.8 336 460.1 336.3 460.4 335.4 460.5 335.5 460.7 336 461 335.1 461.3 334.6 461.5 336.2 461.6 334.7 461.9 336 462 334.7 462.2 336.7 462.5 334.6 462.8 336 463 336.4 463.1 334.7 463.4 336.4 463.7 334.8 464 334.1 464.3 335.9 464.6 335.9 464.9 335.2 465.2 333.5 465.5 335.3 465.8 335.1 466.1 335.1 466.4 335.2 466.7 334.1 467 335 467.3 336.7 467.6 336.5 467.9 335.1 468.2 334.9 468.5 335.6 468.8 336.1 469.1 335.9 469.4 334.5 469.7 335.5 470 335.5 470.3 336.4 470.6 336.2 470.9 335.7 471.2 336.2 471.5 335.1 471.8 336.5 472.1 335.1 472.4 335.6 472.7 336 473 334.7 473.3 334.9 473.6 334.1 473.9 335.5 474.2 335.3 474.5 335.1 474.8 335.7 475.1 333.8 475.4 335.3 475.7 335.4 476 335.2 476.3 335.9 476.6 336.6 476.9 335 477.2 334.7 477.5 334.9 477.8 335.4 478.1 335.8 478.4 334.7 478.7 336.1 479 334.6 479.3 336 479.6 335.7 479.9 335.7 480.2 336.9 480.5 335.2 480.8 335.2 481.1 335.7 481.4 336 481.7 334.4 482 335.6 482.3 334.8 482.6 335.8 482.9 336.3 483.2 335.4 483.5 335.3 483.8 335.5 484.1 333.2 484.4 335.9 484.7 335.8 485 335.5 485.3 335.1 485.6 334.8 485.9 335.2 486.2 336.2 486.5 335.3 486.8 336.3 487.1 333.5 487.4 335 487.7 335.6 488 335.3 488.3 334.2 488.6 334.9 488.9 336.3 489.2 334.4 489.5 334.6 489.8 334.6 490.1 335 490.4 335.8 490.7 335.8 491 333.9 491.3 336.4 491.6 334.9 491.9 334.9 492.2 336.6 492.5 335.3 492.8 334.5 493.1 334.9 493.4 334.8 493.7 334.6 494 335.1 494.3 336 494.6 335.6 494.9 334.4 495.2 337.4 495.5 334.6 495.8 335.4 496.1 335.4 496.4 335.9 496.7 335.1 497 335.7 497.3 336.9 497.6 335.4 497.9 334.6 498.2 335.6 498.5 334.8 498.8 335.1 499.1 335.5 499.4 335.6 499.7 335.1 500 336 500.3 335.2 500.6 334.4 500.9 336 501.2 335.1 501.5 336.2 501.8 334.9 502.1 335.8 502.4 335.6 502.7 333.4 503 334.3 503.3 334.5 503.6 336.4 503.9 334 504.2 336 504.5 336.1 504.8 335.7 505.1 335.8 505.4 335 505.7 335.3 506 335.5 506.3 335.6 506.6 335.8 506.9 335.2 507.2 334.8 507.5 334.9 507.8 335.6 508.1 334.1 508.4 334.4 508.7 335 509 334.9 509.3 335.1 509.6 333.4 509.9 335.1 510.2 335.2 510.5 335.9 510.8 333.9 511.1 335.1 511.4 335.7 511.7 335.7 512 336.2 512.3 336.1 512.6 334.6 512.9 335.8 513.2 335.1 513.5 334.8 513.8 336.4 514.1 334.9 514.4 334.7 514.7 335 515 334.7 515.3 336.1 515.6 335.6 515.9 336.3 516.2 335.6 516.5 334.9 516.8 336.1 517.1 334.9 517.4 335 517.7 335.2 518 335.4 518.3 336.2 518.6 334.9 518.9 335.6 519.2 335.3 519.5 334.4 519.8 334.5 520.1 335.2 520.4 335.6 520.7 335.6 521 335.7 521.3 335.4 521.6 335 521.9 335.6 522.2 334.6 522.5 334.3 522.8 335.1 523.1 334.3 523.4 334.9 523.7 334.8 524 334.9 524.3 335.3 524.5 334.7 524.6 335 524.9 334.1 525 335.4 525.2 334.7 525.5 335.6 525.8 333.3 526 334.7 526.1 335.5 526.4 333.5 526.5 335 526.7 335.4 527 335.4 527.3 334.2 527.5 335.4 527.6 335.4 527.8 334.5 527.9 335.8 527.9 335.2 527.9 335.3 528 334.9 528 335.6 528.1 335.3 528.2 336 528.2 335.5 528.2 334.8 528.3 335 528.4 335.8 528.4 334.9 528.5 335.4 528.5 335.5 528.5 335 528.6 333.4 528.7 335.1 528.7 335 528.8 334.6 528.8 333.9 528.9 334.6 528.9 332.2 529 329.3 529 325.5 529.1 322.4 529.1 320.5 529.2 315.4 529.2 313.4 529.3 311.3 529.4 312.7 529.4 315.2 529.4 316.6 529.5 320 529.6 326.9 529.6 330.7 529.7 332.6 529.7 331.4 529.7 334.6 529.8 335.4 529.9 334.4 529.9 335.1 530 335.6 530 335 530.1 335.9 530.1 335.2 530.2 335.6 530.2 335.2 530.3 334.1 530.3 334.5 530.4 337.5 530.4 335.4 530.5 336.2 530.6 336 530.6 336.5 530.6 335.6 530.7 334.8 530.7 335.3 530.8 333.8 530.9 335.1 531.2 335.9 531.5 333.7 531.6 335.4 531.8 335.9 532.1 336.2 532.4 334.6 532.6 334.8 532.7 333.9 533 334.5 533.1 335.7 533.3 336.8 533.6 334.4 533.9 336.3 534.1 335.6 534.2 334.9 534.5 336.9 534.8 333.4 535.1 335.2 535.4 335.4 535.7 336.8 536 336.6 536.3 336.9 536.6 335.4 536.9 336 537.2 336.3 537.5 335.6 537.8 335.5 538.1 335.1 538.4 335 538.7 334.4 539 336.7 539.3 334.9 539.6 333.7 539.9 335.4 540.2 335.2 540.5 335.4 540.8 336.6 541.1 335.2 541.4 335 541.7 334.7 542 335.2 542.3 334.9 542.6 335.4 542.9 337.5 543.2 335.5 543.5 334.6 543.8 336.6 544.1 335.9 544.4 335.8 544.7 335.7 545 335.8 545.3 335.7 545.6 336.2 545.9 335.9 546.2 336.2 546.5 334.8 546.8 335.2 547.1 334.7 547.4 335.9 547.7 335.8 548 334.8 548.3 335.6 548.6 337.1 548.9 336.1 549.2 334.3 549.5 335.1 549.8 335.6 550.1 335.1 550.4 335.4 550.7 336 550.9 335.4 551 334.3 551.3 335.6 551.4 335 551.6 335.2 551.9 334.7 552.2 334.1 552.4 334.2 552.5 334.8 552.8 334.3 552.9 333.1 553.1 335.9 553.4 334.2 553.7 334.5 553.9 335.4 554 333.2 554.2 335.9 554.3 334.4 554.3 335.4 554.3 334.6 554.4 335.2 554.4 335 554.5 334.9 554.6 333.6 554.6 333.8 554.6 334.9 554.7 335.9 554.8 334.5 554.8 335.2 554.9 334.9 554.9 335.1 554.9 335.5 555 333.6 555.1 334.8 555.1 334.3 555.2 333.8 555.2 333.4 555.3 332.6 555.3 330.8 555.4 328 555.4 326.5 555.5 321.5 555.5 319.3 555.6 314.1 555.6 308.1 555.7 304.9 555.8 307.5 555.8 311.4 555.8 314.6 555.9 319.2 556 323.9 556 328.6 556.1 330.8 556.1 331.2 556.1 333 556.2 333.7 556.3 333.8 556.3 333.9 556.4 334 556.4 334.8 556.5 335.7 556.5 334.6 556.6 336.4 556.6 333.6 556.7 335 556.7 333.9 556.8 334.7 556.8 334.9 556.9 335.2 557 335.6 557 334.4 557 333.9 557.1 334.7 557.1 335 557.2 334.3 557.3 335.4 557.6 336 557.9 333.7 558 335 558.2 335.5 558.5 333.3 558.8 334.8 559 334.5 559.1 333.6 559.4 335.6 559.5 334.7 559.7 334.2 560 334.8 560.3 334.9 560.5 335 560.6 334.8 560.9 334.6 561.2 333.4 561.5 334 561.8 334.4 562.1 332.4 562.4 336.2 562.7 334.8 563 334.8 563.3 334.7 563.6 336.6 563.9 336.7 564.2 336.4 564.5 336.5 564.8 336.2 565.1 336.2 565.4 336.6 565.7 336.2 566 337.1 566.3 336.4 566.6 336.6 566.9 336.7 567.2 337.3 567.5 336.8 567.7 336.5 567.8 336.2 568.1 335.7 568.2 336 568.4 336.8 568.7 336.4 569 335.9 569.2 335.2 569.3 335.1 569.6 336.4 569.7 336.9 569.9 336.4 570.2 335.1 570.5 335.9 570.5 336.2 570.6 335.4 570.6 336.3 570.7 335.9 570.7 335.4 570.8 335.1 570.8 336.6 570.9 336.3 570.9 335.4 571 335.2 571.1 336.6 571.1 336.4 571.1 335.7 571.2 337.1 571.2 335.7 571.3 335.1 571.4 336.5 571.4 335.5 571.4 335.8 571.5 335.2 571.6 333.7 571.6 332.1 571.7 330.2 571.7 330.6 571.7 325.7 571.8 322.5 571.9 316.3 571.9 311 572 310.3 572.1 312.2 572.1 315.5 572.2 319.9 572.3 326.7 572.3 328.7 572.3 330.6 572.4 331.5 572.4 334.3 572.5 334.6 572.6 334.5 572.6 335.5 572.6 335.8 572.7 335.4 572.8 335 572.8 336 572.9 334.6 572.9 336.3 572.9 336.3 573 337.1 573.1 336.6 573.1 336.2 573.2 336.1 573.2 336 573.3 335 573.3 337 573.4 336.3 573.4 335.7 573.5 335.1 573.5 337 573.8 336.4 574.1 335.1 574.3 336.5 574.4 337.3 574.7 335.9 574.8 336.3 575 335.7 575.3 335.5 575.6 336.7 575.8 338.2 575.9 336 576.2 335.9 576.3 336.5 576.5 335.7 576.8 336.5 577.1 336.5 577.4 335.2 577.7 335.1 578 335.9 578.3 336.5 578.6 336.1 578.9 336.8 579.2 334.9 579.5 336.3 579.8 335.4 580.1 336 580.4 336.1 580.7 335.2 581 335.7 581.3 335 581.6 336.1 581.9 335.3 582.2 335.5 582.5 336 582.8 335.4 583.1 336.7 583.4 335.4 583.7 336.5 584 336.1 584.3 335.1 584.6 335.7 584.9 335.2 585.2 335.6 585.5 335.7 585.8 337.2 586.1 335.5 586.4 337 586.7 336.2 587 334.9 587.3 334.2 587.6 336.3 587.9 334.4 588.2 336.4 588.5 336.6 588.8 336.1 589.1 335.7 589.4 335.6 589.7 336 590 335.6 590.3 335.4 590.6 335.6 590.9 336.7 591.2 335.4 591.5 336.1 591.8 335 592.1 335.3 592.4 334.8 592.7 335.7 593 336.3 593.3 336 593.6 335.5 593.9 336.3 594.2 335.6 594.5 336.1 594.8 336 595.1 336.2 595.4 334 595.7 334.9 596 336.4 596.3 335.7 596.6 337.4 596.9 335.6 597.2 335.4 597.5 336.9 597.8 336.2 598.1 337.2 598.4 336.2 598.6 335.6 598.7 336.3 599 335.2 599.1 335.5 599.3 335.4 599.6 335.6 599.9 336.3 600.1 335.4 600.2 336 600.5 335.4 600.6 336.4 600.8 333.8 601.1 335.6 601.4 335.9 601.6 335 601.7 336.5 601.9 335.9 602 336.7 602 336.4 602 336.2 602.1 335.6 602.1 334.9 602.2 335.5 602.3 335.4 602.3 335.9 602.3 335.3 602.4 337.9 602.5 334.5 602.5 336.5 602.6 335.3 602.6 335.4 602.6 336.3 602.7 335.5 602.8 334.6 602.8 335.6 602.9 334.8 602.9 333.4 603 334.3 603 332 603.1 329.7 603.1 326.9 603.2 322.9 603.2 321.5 603.3 318.2 603.3 312.8 603.4 310.3 603.5 312.6 603.5 314.6 603.5 315 603.6 320.6 603.7 325.5 603.7 331.8 603.8 332.6 603.8 333.2 603.8 333.8 603.9 335.6 604 335.3 604 336.7 604.1 336.1 604.1 336.7 604.2 335.5 604.2 335.9 604.3 335.3 604.3 335.5 604.4 334.4 604.4 335.2 604.5 335 604.5 335.2 604.6 336.6 604.7 335.9 604.7 336.6 604.7 336.3 604.8 336.4 604.8 336.4 604.9 335.3 605 336.3 605.3 335.5 605.6 335.4 605.7 336.6 605.9 337.3 606.2 335.1 606.5 337 606.7 336.4 606.8 335.2 607.1 336 607.2 336 607.4 336 607.7 335.5 608 334.8 608.2 335.8 608.3 336.4 608.6 336.3 608.9 336.2 609.2 336.6 609.5 335.1 609.8 335.7 610.1 336 610.4 336.5 610.7 335.9 611 336.1 611.3 335.9 611.6 337.3 611.9 334.2 612.2 335.7 612.5 337.6 612.8 335.9 613.1 334.4 613.4 335.9 613.7 334.7 614 335.3 614.3 335.9 614.6 337 614.9 336.1 615.2 336.2 615.5 336.5 615.8 335.9 616.1 335.1 616.4 335.7 616.7 336 617 335.6 617.3 335.3 617.6 335.5 617.9 334.7 618.2 335 618.5 335.7 618.8 335.5 619.1 335.8 619.4 336.8 619.7 336 620 335.7 620.3 334.9 620.6 335 620.9 336 621.2 335.1 621.5 336.1 621.8 335 622.1 335.9 622.4 335.7 622.7 336.5 623 335.5 623.3 335.5 623.6 335.9 623.9 335.8 624.2 337 624.5 335.6 624.8 335.4 625.1 335.5 625.4 336.1 625.7 335.9 626 336.3 626.3 334.8 626.6 337.5 626.9 337.1 627.2 335.7 627.5 334.9 627.8 335.9 628.1 336.1 628.4 334.1 628.7 335.8 629 334.7 629.3 336.1 629.6 336.7 629.9 336.5 630.2 334.7 630.5 336.7 630.8 336.4 631.1 335.5 631.4 336.1 631.7 336.8 632 335.5 632.3 335.7 632.6 335.3 632.9 336.6 633.2 334.2 633.5 336.8 633.8 335 634.1 336.4 634.4 334.6 634.7 335.1 635 335.3 635.3 336.3 635.6 334.6 635.9 336.2 636.2 335.3 636.5 336.6 636.8 335.5 637.1 336.1 637.4 335.6 637.7 337 638 335.5 638.3 335.7 638.6 337.2 638.9 335.8 639.2 336.2 639.5 335.2 639.8 335.9 640.1 334.1 640.4 335.8 640.7 335.3 641 334.7 641.3 334.7 641.6 336.6 641.9 336.1 642.2 334.6 642.5 337.1 642.8 335.2 643.1 335.5 643.4 335.9 643.7 334.9 644 334.6 644.3 335.2 644.6 336.6 644.9 336.4 645.2 334.6 645.5 336.6 645.8 335.8 646.1 336.1 646.4 335.8 646.7 336 647 335 647.3 335.1 647.6 335.2 647.9 335.5 648.2 336.2 648.5 334.9 648.8 336.9 649.1 335.3 649.4 335.3 649.7 336.2 650 336.1 650.3 335.5 650.6 335 650.9 335 651.2 334.6 651.5 336.6 651.8 336.5 652.1 337.1 652.4 336.1 652.7 336 653 336.3 653.3 336.4 653.6 335.6 653.9 336 654.2 337.3 654.5 334.5 654.8 334.7 655.1 335 655.4 336.3 655.7 336.6 656 335.5 656.3 336.2 656.6 335.7 656.9 336 657.2 335.3 657.5 335.7 657.8 335.7 658.1 336.6 658.4 337.3 658.7 334.4 659 336.1 659.3 335.7 659.6 336.4 659.9 336.5 660.2 336.3 660.5 336.3 660.8 335 661.1 334.5 661.4 336.9 661.7 336.6 662 335 662.3 336.7 662.6 336.2 662.9 334 663.2 336.4 663.5 335 663.8 336.6 664.1 335.2 664.4 335.2 664.7 334.6 665 335.6 665.3 336.5 665.6 335.2 665.9 334.4 666.2 337.3 666.4 337.1 666.5 336.2 666.8 335.3 666.9 334.9 667.1 334.5 667.4 336.1 667.7 336.7 667.9 335 668 335.7 668.3 335.5 668.4 335.5 668.6 336.1 668.9 337.2 669.2 335.3 669.2 336.3 669.3 336.5 669.3 335.5 669.4 335.6 669.4 334.8 669.5 336.5 669.5 335.3 669.6 335.3 669.6 335.8 669.7 335.1 669.8 335 669.8 335.5 669.8 336.8 669.9 335.6 669.9 336.1 670 334.7 670.1 334.3 670.1 337 670.1 335.4 670.2 334.6 670.3 335.5 670.3 335.9 670.4 334 670.4 334.6 670.4 335.2 670.5 333.9 670.6 334.8 670.6 334.6 670.7 334.1 670.8 333.6 670.8 334.2 670.9 334.2 671 334.9 671 335.5 671 335.1 671.1 336.2 671.1 337.5 671.2 335.3 671.3 335.9 671.3 336.3 671.3 336.2 671.4 335.5 671.5 335.4 671.5 336.4 671.6 336.2 671.6 336.1 671.6 335.1 671.7 336.2 671.8 336.3 671.8 335.6 671.9 336.2 671.9 337.3 672 334.4 672 336.2 672.1 334.9 672.1 334.7 672.2 335.6 672.2 336.1 672.5 335.8 672.8 334.9 673 334.7 673.1 335.3 673.4 335.7 673.5 335.1 673.7 334.6 674 337 674.3 335.1 674.5 335.6 674.6 335.3 674.9 335.3 675 335.8 675.2 335.5 675.5 336.2 675.8 334.9 676.1 334.7 676.4 337.1 676.7 335.7 677 336.3 677.3 336.6 677.6 336.1 677.9 335.8 678.2 334.6 678.5 334.6 678.8 336.4 679.1 336.2 679.4 336.1 679.7 334.5 680 334.2 680.3 335 680.6 334.9 680.9 335.8 681.2 335 681.5 336.9 681.8 335.3 682.1 335.3 682.4 336.4 682.7 336 683 335.1 683.3 336.3 683.6 337.1 683.9 334.8"/>
<path stroke="#ff0000" d="M2 393.2 2.3 392.6 2.6 392 2.9 393.8 3.2 393.9 3.5 394.1 3.8 393.7 4.1 391.9 4.4 393.4 4.7 392.9 5 392.5 5.3 392.6 5.6 394 5.9 393.2 6.2 394.8 6.5 393.7 6.8 392 7.1 394 7.4 394.3 7.7 393.4 8 392.5 8.3 394.7 8.6 392.4 8.9 393.3 9.2 392 9.5 392.5 9.8 392.2 10.1 394.2 10.4 394.3 10.7 393.1 11 392.4 11.3 393.3 11.6 393.7 11.9 392.3 12.2 392.5 12.5 393.3 12.8 393.9 13.1 393.4 13.4 393.7 13.7 392.5 14 391.6 14.3 393.6 14.6 392.7 14.9 393.3 15.2 393.1 15.5 393.7 15.8 392.8 16.1 394.5 16.4 393.4 16.7 393.8 17 393.9 17.3 394.2 17.6 393.7 17.9 392.1 18.2 392.9 18.5 394.8 18.8 393.7 19.1 393.8 19.4 393.7 19.7 392.9 20 392.9 20.3 392.9 20.6 394.2 20.9 393.7 21.2 394.7 21.5 393.8 21.8 394.8 22.1 393.7 22.4 392.5 22.7 394.7 23 393.6 23.3 394.3 23.6 393.6 23.9 393.2 24.2 393.5 24.5 392.6 24.8 392.5 25.1 392.7 25.4 393 25.7 392.4 26 393.3 26.3 393.6 26.6 394.9 26.9 394.7 27.2 393.4 27.5 394 27.8 393.2 28.1 393.7 28.4 393.4 28.7 393 29 393.4 29.3 392.3 29.6 393.7 29.9 393.2 30.2 392.6 30.5 393.1 30.8 393.8 31.1 392.9 31.4 393.7 31.7 393.8 32 394.5 32.3 392.6 32.6 393.3 32.9 393.8 33.2 394.5 33.5 393.6 33.8 394 34.1 392.3 34.4 393 34.7 394.6 35 393.2 35.3 395 35.6 392.9 35.9 393.2 36.2 392.2 36.5 393.9 36.8 393.6 37.1 394.9 37.4 393.5 37.7 393.2 38 392.4 38.3 393.3 38.6 394.1 38.9 393.9 39.2 394.3 39.5 394 39.8 393.4 40.1 393.8 40.4 393.5 40.7 392.4 41 394.7 41.3 393.7 41.6 392.6 41.9 393.7 42.2 393.6 42.5 394.1 42.8 394.5 43.1 391.1 43.4 393.8 43.7 394.5 44 392.7 44.3 392 44.6 393.6 44.9 393.6 45.2 393.7 45.5 392.6 45.8 393 46.1 393.5 46.4 393.9 46.7 395 47 393.6 47.3 392.9 47.6 391.6 47.9 394.2 48.2 393.3 48.5 393.3 48.8 392.7 49.1 393.9 49.4 392.1 49.7 393.5 50 393.5 50.3 393.6 50.6 394.4 50.9 393.3 51.2 393.5 51.5 394 51.8 392.2 52.1 393.2 52.4 393.4 52.7 394.1 53 392.8 53.3 394 53.6 393.7 53.9 392.3 54.2 392.3 54.5 392.3 54.8 393.5 55.1 393.5 55.4 393.9 55.7 394 56 393 56.3 394.2 56.6 394 56.9 393.7 57.2 393.8 57.5 392.4 57.8 393.7 58.1 392.6 58.4 392.5 58.7 393.1 59 393.5 59.3 393.4 59.6 393.1 59.9 392.6 60.2 393.5 60.5 392.8 60.8 392.3 61.1 393.5 61.4 394.5 61.7 393.1 62 392.6 62.3 394.4 62.6 394.7 62.9 393.2 63.2 393.2 63.5 393.6 63.8 395.6 64.1 393.5 64.4 394.1 64.7 393.7 65 392 65.3 392.6 65.6 392.5 65.9 393.7 66.2 393.5 66.5 394.7 66.7 393.2 66.8 393.6 67.1 393.4 67.2 393.5 67.4 395.1 67.7 393.6 68 394.5 68.2 394.4 68.3 392.9 68.6 393.9 68.7 393.1 68.9 393.5 69.2 393.5 69.5 393.4 69.5 393 69.6 394.5 69.6 393.2 69.7 393.9 69.7 394.6 69.8 393.8 69.8 394.1 69.9 394.4 69.9 394.2 70 394.6 70.1 392.3 70.1 394.8 70.1 393.4 70.2 392 70.2 392.9 70.3 392.3 70.4 393.3 70.4 392.2 70.4 392.5 70.5 393.4 70.6 393.1 70.6 391.9 70.7 391.7 70.7 391.6 70.7 390.9 70.8 389.5 70.9 387.9 70.9 387.5 71 385.2 71.1 386.5 71.1 388.1 71.2 389.2 71.3 390.4 71.3 391.3 71.3 392 71.4 393.5 71.4 392.8 71.5 393 71.6 393.5 71.6 393.1 71.6 391.9 71.7 393.5 71.8 393.1 71.8 392.9 71.9 393.8 71.9 393.4 71.9 392.9 72 391.7 72.1 392.1 72.1 393.4 72.2 393.3 72.2 393.7 72.3 393.5 72.3 393 72.4 392.4 72.4 392.6 72.5 393.3 72.5 392.5 72.8 393.9 73.1 392.4 73.3 392 73.4 393.2 73.7 392.1 73.8 394.6 74 392.6 74.3 393.4 74.6 393.2 74.8 392.8 74.9 392.1 75.2 392 75.3 394 75.5 394.2 75.8 395 76.1 392.3 76.4 393.8 76.7 393.4 77 394 77.3 393 77.6 393.9 77.9 394.1 78.2 393.8 78.5 394.5 78.8 393.3 79.1 394.6 79.4 392.9 79.7 394.6 80 391.3 80.3 393.4 80.6 392.8 80.9 393.4 81.2 394.2 81.5 393.9 81.8 393.5 82.1 394.7 82.4 392.3 82.7 392.8 83 394.5 83.3 393.6 83.6 391.8 83.9 393.6 84.2 392.5 84.5 394.5 84.8 394.3 85.1 393 85.4 394.4 85.7 392.8 86 394.1 86.3 393.8 86.6 393.3 86.9 392.3 87.2 393.2 87.5 391.7 87.8 393 88.1 392 88.4 394.3 88.7 392.7 89 391.6 89.3 393.8 89.6 393.7 89.9 393 90.2 395 90.5 394 90.8 393.4 91.1 392.9 91.4 391.2 91.7 393.8 92 394.1 92.3 392.9 92.6 392.3 92.9 393.4 93.2 392.1 93.5 393.4 93.8 394 94.1 394.5 94.4 393.6 94.7 393.5 95 394 95.3 394.4 95.6 393.2 95.9 392.5 96.2 392.8 96.5 392.4 96.8 392.7 97.1 393.3 97.4 393.6 97.7 393.5 98 393.4 98.3 393.1 98.6 393.7 98.9 394.1 99.2 394 99.5 394.5 99.8 393.2 100.1 393.2 100.4 394.7 100.7 393.5 101 393.7 101.3 393.1 101.6 394.1 101.9 393.1 102.2 392.6 102.4 393.3 102.5 393.1 102.8 394 102.9 393.1 103.1 393.5 103.4 393.2 103.7 393.6 103.9 392.9 104 394.2 104.3 392.3 104.4 393.1 104.6 392.9 104.9 393.9 105.2 393.4 105.2 393.7 105.3 393.1 105.3 392.8 105.4 392.5 105.4 393.1 105.5 393 105.5 393.6 105.6 393.6 105.6 394.1 105.7 393.3 105.8 392.8 105.8 392.6 105.8 393.4 105.9 393.6 105.9 394.8 106 393.5 106.1 394.6 106.1 394.7 106.1 392.5 106.2 394.1 106.3 393.8 106.3 393.6 106.4 391.8 106.4 392.3 106.4 390.4 106.5 389.4 106.6 388 106.6 388.2 106.7 386.2 106.8 387.6 106.8 388.1 106.9 388.9 107 391 107 392.1 107 391.3 107.1 393 107.1 392.4 107.2 392.5 107.3 393.4 107.3 393.1 107.3 392.6 107.4 392.1 107.5 393.4 107.5 393.5 107.6 393 107.6 393.5 107.6 392.2 107.7 393.7 107.8 393.7 107.8 393.6 107.9 392.9 107.9 393.4 108 393.5 108 394.2 108.1 393.6 108.1 393.6 108.2 392.8 108.2 394 108.5 394.3 108.8 393 109 393.9 109.1 393.6 109.4 393.4 109.5 392.4 109.7 394.7 110 392 110.3 393.6 110.5 393.1 110.6 394.2 110.9 393.1 111 393.4 111.2 393.8 111.5 393.7 111.8 393 112.1 393.9 112.4 393.7 112.7 394.1 113 393 113.3 393.4 113.6 393.1 113.9 392.8 114.2 393.6 114.5 393.7 114.8 394.5 115.1 393.1 115.4 393.7 115.7 394.2 116 393.3 116.3 393.4 116.6 393.5 116.9 392.9 117.2 392.7 117.5 394.2 117.8 393.5 118.1 393.3 118.4 392.5 118.7 393.5 119 394.3 119.3 392.5 119.6 392.7 119.9 394.2 120.2 394.5 120.5 394.6 120.8 393 121.1 393.8 121.4 392.8 121.7 393.8 122 393.1 122.3 393.5 122.6 394.4 122.9 393.6 123.2 393.2 123.5 393.4 123.8 393.6 124.1 393 124.4 393.5 124.7 393.8 125 394.6 125.3 391.9 125.6 392.5 125.9 392.5 126.2 394 126.5 395.2 126.8 393.5 127.1 393.5 127.4 394.2 127.7 391.6 128 393.3 128.3 391.1 128.6 393.5 128.9 393 129.2 393 129.5 393.6 129.8 393 130.1 394.2 130.4 393.4 130.7 393.7 131 395.3 131.3 393.1 131.6 394.1 131.9 392.8 132.2 394.3 132.5 394.1 132.8 393.5 133.1 394.1 133.4 394.6 133.7 394.4 134 393.4 134.3 393.4 134.5 394.2 134.6 392.3 134.9 392.9 135 393.8 135.2 393.8 135.5 394.8 135.8 394.7 136 393.6 136.1 393.7 136.4 392.4 136.5 393.3 136.7 393.6 137 393.2 137.3 393.4 137.5 393.8 137.6 392.7 137.8 393 137.9 392.1 137.9 394.2 137.9 392.6 138 392.1 138 394 138.1 393.2 138.2 394.1 138.2 393.1 138.2 395 138.3 393.9 138.4 393.5 138.4 393.5 138.5 393.2 138.5 394 138.5 394.9 138.6 393 138.7 392.5 138.7 393.8 138.8 394.1 138.8 392.2 138.9 392.7 138.9 392.3 139 393.1 139 392.7 139.1 391.3 139.1 390.9 139.2 391.6 139.2 389.1 139.3 390.9 139.4 390.5 139.4 392.3 139.4 391.8 139.5 391.3 139.6 392.1 139.6 392.5 139.7 392.5 139.7 393.2 139.7 393.9 139.8 392.2 139.9 393.2 139.9 394.5 140 393.9 140 392.8 140.1 392.8 140.1 392.7 140.2 392.2 140.2 394.2 140.3 393.4 140.3 392.9 140.4 392.3 140.4 393.1 140.5 393 140.6 394.7 140.6 393 140.6 393.5 140.7 394.2 140.7 393.9 140.8 393.3 140.9 391.8 141.2 394.4 141.5 393.8 141.6 393.1 141.8 393.3 142.1 392.7 142.4 392.7 142.6 392.3 142.7 393.8 143 393.8 143.1 393.5 143.3 394 143.6 393.8 143.9 393.5 144.1 392.7 144.2 393.8 144.5 394.3 144.8 393.9 145.1 394.3 145.4 393 145.7 392.7 146 394.3 146.3 393 146.6 393.6 146.9 393.3 147.2 393.4 147.5 393.2 147.8 393 148.1 392.1 148.4 394.8 148.7 393.5 149 392 149.3 392.7 149.6 392.6 149.9 392.8 150.2 391.5 150.5 393.8 150.8 394.6 151.1 393.2 151.4 393.9 151.7 393.8 152 392.5 152.3 394.3 152.6 392.2 152.9 393 153.2 393.1 153.5 394.3 153.8 393.5 154.1 393.3 154.4 392.8 154.7 393.5 155 393.4 155.3 393.9 155.6 394.4 155.9 393.9 156.2 393.4 156.5 393.3 156.8 394.6 157.1 393.5 157.4 393.4 157.7 394.7 158 394.5 158.3 393.8 158.6 393.3 158.9 392.9 159.2 394.2 159.5 393.1 159.8 394.1 160.1 392.8 160.4 393.5 160.7 393.7 160.9 393.5 161 393.6 161.3 393.7 161.4 392.6 161.6 392.6 161.9 393.3 162.2 394.7 162.4 393.3 162.5 392.7 162.8 392.9 162.9 393.4 163.1 394.3 163.4 393 163.7 393.8 163.7 393.5 163.8 393.1 163.8 392.7 163.9 393.3 163.9 392.8 164 393.8 164 392.1 164.1 394.2 164.1 393.9 164.2 393.8 164.3 394.5 164.3 393.8 164.3 392.1 164.4 393.4 164.4 393.7 164.5 392.8 164.6 392.5 164.6 393.6 164.6 393.6 164.7 392.9 164.8 392.8 164.8 392.3 164.9 391.7 164.9 391.8 164.9 392 165 388.8 165.1 388.5 165.1 389 165.2 387.6 165.3 387.9 165.3 389.4 165.4 389.3 165.5 390.3 165.5 390.7 165.5 391 165.6 392.8 165.6 393.6 165.7 392.9 165.8 392.8 165.8 393.6 165.8 393.8 165.9 393.5 166 391.9 166 393 166.1 391.5 166.1 393.5 166.1 392.7 166.2 392.9 166.3 394.5 166.3 394.3 166.4 393.7 166.4 393.6 166.5 393.5 166.5 392.9 166.6 393.3 166.6 394.8 166.7 392.7 166.7 392.9 167 393.5 167.3 394 167.5 394 167.6 392.7 167.9 393.3 168 393.2 168.2 392.5 168.5 393.4 168.8 393 169 394.1 169.1 393.7 169.4 392.8 169.5 393.4 169.7 393.1 170 392.9 170.3 393 170.6 394.2 170.9 393.1 171 392.1 171.2 392.8 171.5 394 171.8 395 172 392.6 172.1 393.1 172.4 393.1 172.5 392.4 172.7 393.7 173 393.3 173.3 393.6 173.5 395 173.6 393.2 173.9 394 174 394 174.2 392.9 174.3 392.9 174.4 394.5 174.4 393.9 174.5 393.5 174.5 392.6 174.5 394 174.6 393.8 174.7 395 174.7 394.4 174.8 393.9 174.8 393.6 174.9 393.4 174.9 392.9 175 393.6 175 393.5 175.1 393.8 175.1 394.1 175.2 393.5 175.2 392.9 175.2 393.9 175.3 394.3 175.4 392.4 175.4 393.1 175.4 393.1 175.5 392.5 175.5 391.5 175.6 390 175.7 388.7 175.7 389.6 175.7 389.1 175.8 386.4 175.9 385.9 175.9 389.1 176 389.5 176 389.9 176.1 390 176.1 392.3 176.2 392.6 176.2 392.4 176.2 393.7 176.3 394.9 176.3 394.3 176.4 394.1 176.4 393 176.5 393.8 176.6 393.3 176.6 394.2 176.6 393.8 176.7 393.3 176.7 393.8 176.7 392.8 176.8 393.9 176.9 394.5 176.9 393.1 176.9 393.8 177 392.1 177.1 394 177.1 394 177.2 392.6 177.2 394.6 177.2 393.4 177.3 392.1 177.5 392.4 177.7 394 177.8 393.2 178.1 394.2 178.2 392.2 178.4 393.3 178.5 394.1 178.6 392.9 178.6 393.8 178.6 393.1 178.7 393.6 178.7 393.6 178.7 395 178.8 392.4 178.9 393.9 178.9 394.3 179 392.5 179 393.4 179.1 395 179.1 394.1 179.1 391.1 179.2 393.1 179.2 392 179.3 393.4 179.3 392.7 179.4 392.8 179.4 392.4 179.5 393 179.6 392 179.6 391.1 179.6 391.2 179.7 389.9 179.7 386.5 179.8 384.7 179.9 379.2 179.9 379.4 179.9 377.2 180 377.5 180.1 377.1 180.1 378.6 180.1 379.4 180.2 385.3 180.2 384.9 180.3 386.3 180.3 389.4 180.4 390.6 180.4 393.4 180.5 393.1 180.5 391.3 180.6 393.2 180.6 393.8 180.6 393.2 180.7 393.6 180.8 393.2 180.8 393.4 180.8 393.4 180.9 392.8 180.9 393.6 181 393.4 181.1 393.3 181.1 392.8 181.1 392.6 181.2 393.5 181.3 393.9 181.3 391.6 181.4 393 181.4 394.3 181.4 394 181.5 392.8 181.7 394.3 182 392.6 182.3 392.8 182.6 394.8 182.8 393.1 182.9 393.2 183.2 392.2 183.3 392.6 183.5 392.5 183.8 393.3 184.1 392 184.3 394.2 184.4 393.1 184.7 392.9 184.8 392.9 185 393.9 185.3 394.5 185.6 393.1 185.9 394.6 186.2 394.6 186.5 394.4 186.8 393.6 187.1 392.3 187.4 393.9 187.7 393.1 188 393.5 188.3 392 188.6 393.2 188.9 393.6 189.2 392.7 189.5 393.6 189.8 394.6 190.1 393.6 190.4 392.9 190.7 395.1 191 391.8 191.3 392.7 191.6 393.7 191.9 393 192.2 391.7 192.5 393.6 192.8 394 193.1 392.8 193.4 394.5 193.7 393.8 194 394.3 194.3 392.3 194.6 393.4 194.9 394.6 195.2 394.9 195.5 394.3 195.8 393.4 196.1 393.5 196.4 392.9 196.7 394.2 197 392.9 197.3 393.5 197.6 391.9 197.9 392.3 198.2 394.7 198.5 393.4 198.6 393.5 198.8 391.8 199.1 393.4 199.4 394.9 199.6 392.3 199.7 391.6 200 393.3 200.1 393 200.3 393.2 200.6 392.4 200.9 392.4 201.1 392.4 201.2 393.8 201.5 393.3 201.6 393.9 201.8 392.5 201.9 393.7 202 393 202 393.4 202.1 394 202.1 393.3 202.1 393 202.2 392 202.3 393.3 202.3 393.8 202.4 392.7 202.4 393.2 202.5 391.9 202.5 392.2 202.6 393.4 202.6 394 202.7 392.8 202.7 391.8 202.8 392.6 202.8 391.5 202.9 391.9 203 392.4 203 389.9 203 388.7 203.1 385.8 203.1 379.1 203.2 372.3 203.3 364.4 203.3 361.7 203.3 356.8 203.4 355.9 203.5 358.6 203.5 362.6 203.6 370.1 203.6 372.8 203.7 380.4 203.7 385 203.8 389.3 203.8 391.4 203.9 392.7 203.9 391.6 204 392.2 204 393.2 204.1 393.5 204.2 393.5 204.2 393.4 204.2 392.8 204.3 394 204.3 393.5 204.4 394 204.5 391.4 204.5 394 204.5 391.4 204.6 393.4 204.7 392.8 204.7 393.4 204.8 392.9 204.8 393.1 204.8 393.4 204.9 393.6 204.9 392.7 205.1 391.4 205.4 392.8 205.7 393.7 205.9 392.7 206 393.7 206.2 393.1 206.3 392.7 206.4 394.2 206.6 394.6 206.7 393.3 206.9 393.3 207.1 394.1 207.2 392.4 207.4 392.7 207.5 394.2 207.6 394 207.7 393 207.8 392.8 207.9 393.6 208.1 392.3 208.2 393 208.2 393.1 208.3 391.5 208.3 393.8 208.4 393.9 208.4 394.1 208.4 392.2 208.5 392.3 208.6 392.7 208.6 392.3 208.6 394.8 208.7 392.5 208.7 393 208.8 393.4 208.8 393.6 208.9 394.3 208.9 392.4 209 393.8 209 393.3 209.1 392.2 209.1 393.1 209.1 391.9 209.2 393.9 209.3 391.5 209.3 392.1 209.3 391.9 209.4 388.5 209.4 385.3 209.5 382.2 209.6 377.2 209.6 377.1 209.6 374.8 209.7 372.8 209.8 374.1 209.8 378.5 209.9 380.9 209.9 383.3 209.9 382.2 210 385.7 210 385.2 210 390 210 389.5 210.1 391.8 210.1 391.3 210.1 392.1 210.1 393.3 210.2 393.1 210.2 392.9 210.2 393 210.3 393.4 210.3 393.1 210.3 392.8 210.3 391.8 210.4 394.5 210.4 392 210.5 391.4 210.5 392.5 210.5 394.5 210.5 393.9 210.5 392.6 210.6 393.2 210.6 393 210.6 391.5 210.6 392.7 210.7 393.1 210.7 393.8 210.8 391.9 210.8 391.1 210.8 391.5 210.8 392.8 210.8 392.6 210.9 392.1 210.9 392.1 211 390.6 211 389.9 211 389.1 211 389 211.1 385.4 211.1 385.8 211.1 382.8 211.1 377.5 211.1 377.9 211.2 373.6 211.2 371.2 211.3 364.5 211.3 357.9 211.4 355.9 211.5 360.3 211.5 363.9 211.6 371.9 211.7 378.9 211.7 384 211.7 385.4 211.8 388 211.8 391.9 211.9 392.9 212 393 212 392.7 212 392.7 212.1 391.8 212.2 393.6 212.2 392.4 212.3 392.8 212.3 393.9 212.3 392.5 212.4 392.8 212.5 393.9 212.5 394.6 212.5 392.7 212.6 394.1 212.6 392.8 212.7 393.6 212.7 393.6 212.8 392.4 212.8 394.1 212.9 394.6 212.9 393.3 213 393.5 213.2 392.4 213.5 394.7 213.7 393.4 213.8 392.4 214 393.9 214.1 392.3 214.2 392.8 214.4 391.8 214.5 394.4 214.7 395 215 392.9 215.2 392.9 215.3 392.9 215.6 393 215.7 393.8 215.9 394.5 216.2 392.6 216.5 393.7 216.8 392 217.1 394.5 217.4 393.3 217.7 392.9 218 394.5 218.3 393.3 218.6 394.4 218.9 394.2 219.2 394.6 219.5 392.8 219.8 393.4 220.1 393.7 220.4 393.2 220.7 394.5 221 392.9 221.3 394.1 221.6 394.4 221.9 391.9 222.2 392.7 222.5 392.7 222.8 393 223.1 393.7 223.4 393.3 223.7 393.4 224 393 224.3 393.3 224.6 393.7 224.9 393.9 225.2 392.8 225.5 393.3 225.8 392.8 226.1 393.3 226.4 392.3 226.7 394.1 227 393.9 227.3 393.3 227.5 392.9 227.6 393 227.9 392.9 228 392.2 228.2 394.6 228.5 395.8 228.8 392.5 229 392.5 229.1 393.8 229.4 393.8 229.5 392.2 229.7 391.9 230 393.8 230.3 391.9 230.3 394.4 230.4 393 230.4 393.4 230.5 393.3 230.5 392.9 230.6 393.2 230.6 393.1 230.7 394.3 230.7 393.3 230.8 393.3 230.9 392.9 230.9 392.8 230.9 392.7 231 393.3 231 394.6 231.1 394.1 231.2 393.4 231.2 394.4 231.2 393.8 231.3 393 231.4 392.2 231.4 390.6 231.5 390 231.5 389.1 231.5 386.3 231.6 383.4 231.7 382.6 231.7 378.6 231.8 377.8 231.9 378.6 231.9 380.8 232 384.8 232.1 388.3 232.1 389.1 232.1 390.2 232.2 392.2 232.2 392 232.3 393 232.4 392.5 232.4 393.6 232.4 392.9 232.5 394.1 232.6 392.7 232.6 394.5 232.7 393.1 232.7 392.7 232.7 392.6 232.8 393.8 232.9 392.7 232.9 394.7 233 394.3 233 393.7 233.1 392.3 233.1 393.3 233.2 392.8 233.2 392 233.3 393.7 233.3 395 233.6 393 233.9 394 234.1 394.3 234.2 392.7 234.5 393.1 234.6 393.6 234.8 393.7 235.1 392.5 235.4 393.5 235.6 393.3 235.7 394.1 236 392.2 236.1 393 236.3 393 236.6 393.1 236.9 393.9 237.2 392.9 237.5 395.4 237.8 392.9 238.1 394 238.4 394.2 238.7 394.1 239 393.2 239.3 392.8 239.6 393.2 239.9 393.9 240.2 393.5 240.5 393.8 240.8 393.8 241.1 392.7 241.4 392.7 241.7 394.5 242 393 242.3 392.2 242.6 394.8 242.9 392.8 243.2 392.7 243.5 394.1 243.8 392.5 244.1 392.7 244.4 394.2 244.7 392.8 245 395.3 245.3 393.5 245.6 395.4 245.9 393.5 246.2 393.4 246.5 392.9 246.8 393.2 247.1 393 247.4 393.4 247.7 394 248 392.4 248.3 392.7 248.6 391.8 248.9 394.5 249.2 393.3 249.5 393.4 249.8 393.3 250.1 394.1 250.4 393.6 250.7 394 251 393.3 251.3 393.3 251.6 393.3 251.9 392 252.2 394.2 252.5 392.2 252.8 392.6 253.1 393.9 253.4 393.4 253.7 394 254 394.7 254.3 394.8 254.6 394.4 254.9 393.2 255.2 394.9 255.5 392.7 255.8 393.3 256.1 394.1 256.4 393.2 256.7 393.3 257 393.1 257.3 394.4 257.6 391.5 257.9 394.3 258.2 394.2 258.5 393.3 258.8 393.8 259.1 392.7 259.4 394.2 259.7 395.7 260 392.7 260.3 394.4 260.6 393.3 260.9 393.1 261.2 393 261.4 393.2 261.5 392.4 261.8 392.4 261.9 394.6 262.1 393.4 262.4 393.8 262.7 393.6 262.9 393.7 263 392.2 263.3 392.7 263.4 393.9 263.6 394.1 263.9 392.5 264.2 392.9 264.4 392.6 264.5 393.9 264.7 393.6 264.8 393.4 264.8 392.9 264.8 393.6 264.9 393.4 264.9 392.8 265 393.6 265.1 392.9 265.1 394.1 265.1 393.8 265.2 392.9 265.3 393.8 265.3 393.4 265.4 392.8 265.4 392.7 265.4 392.1 265.5 392.5 265.6 393.6 265.6 394.2 265.7 392.8 265.7 393.4 265.8 393.4 265.8 393.5 265.9 392.8 265.9 392.8 266 391.9 266 390.6 266.1 390.6 266.1 387.9 266.2 389.3 266.3 389.7 266.3 390.4 266.3 390.1 266.4 391.8 266.5 392.9 266.5 391.9 266.6 392.5 266.6 393.2 266.6 393.5 266.7 393.4 266.8 393.9 266.8 392.4 266.9 393.9 266.9 394.2 267 394.2 267 393.7 267.1 393.2 267.1 393.7 267.2 393.3 267.2 392.2 267.3 392.9 267.3 393.3 267.4 393 267.5 392.7 267.5 393.2 267.5 393.1 267.6 393.4 267.6 393.3 267.7 393.5 267.8 394.1 268.1 393.5 268.4 393.7 268.5 392.5 268.7 391.2 268.9 393.1 269 393.9 269.3 393.1 269.4 392.9 269.5 392.4 269.6 394 269.9 393 270 393.6 270.2 394.2 270.4 393.8 270.5 395.1 270.8 393.3 270.9 394.1 271 393.9 271.1 392.9 271.4 393.4 271.7 392.9 271.7 392.6 271.8 393.6 271.8 392.8 271.9 394.6 271.9 392.8 272 392.9 272 393.4 272.1 392.9 272.1 393.4 272.2 392.8 272.3 392.2 272.3 391.5 272.3 392.3 272.4 394.4 272.4 393.6 272.5 393.3 272.6 392.8 272.6 393 272.6 393.3 272.7 391.7 272.8 391.6 272.8 390.5 272.9 390.4 272.9 388.1 272.9 387.6 273 382.9 273.1 381.6 273.1 376.5 273.2 375.4 273.3 377.6 273.3 380.3 273.4 384 273.5 385.9 273.5 389.7 273.5 390.7 273.6 391.1 273.6 391.9 273.7 392 273.8 393.8 273.8 393.3 273.8 393.2 273.9 392.3 274 394.5 274 393.9 274.1 393.3 274.1 394.4 274.1 392.6 274.2 394 274.3 392.6 274.3 394.4 274.4 393.1 274.4 394.2 274.5 393 274.5 393.6 274.6 394.2 274.6 392.7 274.7 393.4 274.7 392.7 275 394 275.3 392.9 275.5 393.1 275.6 393.2 275.9 394.2 276 392.6 276.2 393.4 276.5 393.1 276.8 393 277 392.8 277.1 393.3 277.2 393.5 277.4 392.2 277.5 393.6 277.7 392.5 278 393.4 278.2 395.1 278.3 392.7 278.6 393.3 278.7 393.2 278.9 394.1 279.2 393 279.5 392 279.7 392.2 279.8 393.5 280.1 393.5 280.2 394.2 280.4 392.9 280.5 393.8 280.6 392.5 280.6 394.3 280.7 393.3 280.7 392.8 280.7 393.5 280.8 394.6 280.9 392.7 280.9 392.4 281 392.5 281 392.4 281.1 393.2 281.1 393.5 281.2 393.1 281.2 393.4 281.3 394.1 281.3 393 281.4 392.2 281.4 391.3 281.5 392.9 281.6 391.6 281.6 391.3 281.6 391.3 281.7 389.4 281.7 385 281.8 381.7 281.9 378.5 281.9 376.8 281.9 376.1 282 373.5 282.1 373.6 282.1 379.3 282.2 381.2 282.2 382.4 282.3 386.5 282.3 388.3 282.4 392.9 282.4 392.3 282.5 393.1 282.5 392.4 282.6 394.7 282.6 393.5 282.7 392.7 282.8 394.2 282.8 392 282.8 392.8 282.9 393.5 282.9 393.4 283 392.6 283.1 394.5 283.1 394.4 283.1 392.6 283.2 393.6 283.3 392.9 283.3 393 283.4 394.1 283.4 393.4 283.4 393.3 283.5 393.4 283.7 392.5 284 394.3 284.3 392.8 284.6 394.4 284.8 393 284.9 393 285.2 394.5 285.3 393.5 285.5 392.9 285.8 393 286.1 393.8 286.3 394.8 286.4 393.8 286.7 393.1 286.8 392.5 287 392.9 287.3 393.3 287.6 393.6 287.9 392.9 288.2 394.3 288.5 392.7 288.8 392.8 289.1 393.8 289.4 393.7 289.7 393.1 290 394.1 290.3 392.3 290.6 394.6 290.9 395 291.2 394.9 291.5 393.5 291.8 394.9 292.1 393.4 292.4 394.4 292.7 393.2 293 393.5 293.3 393.8 293.6 392.1 293.9 393.2 294.2 394.7 294.5 391.2 294.8 393.7 295.1 394.1 295.4 393.6 295.7 393.5 296 394.4 296.3 393.6 296.6 392 296.9 392.7 297.2 393.2 297.5 393.5 297.8 393.1 298.1 393.3 298.4 394.6 298.7 391.2 299 394.3 299.3 394.1 299.6 393.8 299.9 393.4 300.2 393.4 300.5 393.7 300.8 393.6 301.1 392.8 301.4 394 301.7 392.8 302 393.4 302.3 393.1 302.6 392.5 302.9 393.8 303.2 393.3 303.5 392.5 303.8 393.3 304.1 392.4 304.4 394.5 304.7 393.8 305 394.9 305.3 393 305.6 393.9 305.9 392.7 306.2 392.7 306.5 393.3 306.8 393.7 307.1 394.1 307.4 393.2 307.7 394.2 308 394.1 308.3 392.7 308.6 393.3 308.9 392.7 309.2 394.7 309.5 393 309.8 394 310.1 394.1 310.4 393.2 310.7 393 311 393.6 311.3 392.8 311.6 392.4 311.9 392.7 312.2 393.6 312.5 393.5 312.8 394.7 313.1 392 313.4 393.8 313.7 392.5 314 394.2 314.3 393.9 314.6 393.5 314.9 394.5 315.2 393.1 315.5 393 315.8 392.6 316.1 392.9 316.4 393.5 316.7 393.9 317 394.3 317.3 393.2 317.6 392.8 317.9 393.1 318.2 393.1 318.5 393 318.8 393.1 319.1 392.7 319.4 393.3 319.7 393 320 393.3 320.3 392.4 320.6 393.5 320.9 393.8 321.2 393.9 321.5 393 321.8 392.5 322.1 392.4 322.4 392.5 322.7 392.9 323 393.2 323.3 392.1 323.6 393.9 323.9 392.2 324.2 392.9 324.5 392.8 324.8 394 325.1 394.8 325.4 393.1 325.7 393.2 326 393.1 326.3 393.2 326.6 393.3 326.9 395.2 327.2 392.6 327.5 393.3 327.8 392.8 328.1 393.7 328.4 393 328.7 393.8 329 392.6 329.3 395 329.6 393.5 329.9 392.1 330.2 393.9 330.5 393 330.8 392.5 331.1 393.7 331.4 393 331.7 393.9 332 393 332.3 394.1 332.6 393.5 332.9 393.7 333.2 393.5 333.5 393.1 333.8 393.1 334.1 393.7 334.4 393.9 334.7 393.1 335 395 335.3 394.6 335.6 392.5 335.9 394.2 336.2 393.3 336.5 393.6 336.8 392.8 337.1 394.6 337.4 392.8 337.7 393.3 338 392.8 338.3 394.8 338.6 394.3 338.9 392.4 339.2 393.1 339.5 393.7 339.8 393.1 340.1 393.1 340.4 392.6 340.7 393.6 341 392.6 341.3 394 341.6 395.2 341.9 393.1 342.2 394.6 342.5 393.7 342.8 392.9 343.1 393.1 343.4 392.7 343.7 393.5 344 393.9 344.3 394.1 344.6 393.2 344.9 392.5 345.2 393.3 345.5 394.6 345.8 393.6 346.1 393.3 346.4 391.9 346.7 393.1 347 393.8 347.3 392.7 347.6 394.4 347.9 393 348.2 392.7 348.5 393 348.8 393.3 349.1 394.1 349.4 393 349.7 392.1 350 393.3 350.3 393.8 350.6 394.5 350.9 392.6 351.2 394.5 351.5 393.9 351.8 393.7 352.1 392.8 352.4 392.7 352.7 392.7 353 394.1 353.3 393.5 353.6 394.2 353.9 394.7 354.2 393.4 354.5 393.3 354.8 394.8 355.1 392.4 355.4 393.1 355.7 393.1 356 393.1 356.3 393.5 356.6 392.8 356.8 394.2 356.9 392.4 357.2 392.8 357.3 392.1 357.5 392.3 357.8 393.8 358.1 393.8 358.3 393.2 358.4 394 358.7 393.8 358.8 392.9 359 393.3 359.3 393.6 359.6 394.8 359.8 393 359.9 393.6 360.1 393.7 360.2 394.2 360.2 393.6 360.2 394.1 360.3 392.5 360.3 393.1 360.4 391.9 360.5 393.3 360.5 395 360.5 393.5 360.6 393.4 360.7 393.5 360.7 393.4 360.8 392.3 360.8 392.7 360.8 393.1 360.9 393.3 361 392.5 361 392.9 361.1 392.2 361.1 391.7 361.2 391.7 361.2 390.4 361.3 389.7 361.3 387.1 361.4 383.5 361.4 382.2 361.5 378 361.5 373.9 361.6 373.4 361.7 376.2 361.7 377.7 361.7 378.5 361.8 382.2 361.9 386.1 361.9 389.4 362 391 362 391.8 362 391.6 362.1 392.8 362.2 392.7 362.2 393.9 362.3 392.3 362.3 394.1 362.4 393.2 362.4 392.9 362.5 393.3 362.5 393.4 362.6 393.1 362.6 393.6 362.7 392.9 362.7 392.1 362.8 393.8 362.9 393.3 362.9 394.6 362.9 393.6 363 391.9 363 394.2 363.1 392.8 363.2 393.7 363.5 395 363.8 394.2 363.9 392.6 364.1 393.3 364.3 392.2 364.4 393.9 364.7 393.8 364.8 392.6 364.9 393.7 365 394.1 365.3 394 365.4 392.9 365.6 392.9 365.8 392.6 365.9 392.4 366.2 393.6 366.3 393.4 366.4 394.3 366.5 393.6 366.8 393.1 367.1 392.3 367.1 394.5 367.2 393.5 367.2 393.3 367.3 392.6 367.3 392.6 367.4 393.8 367.4 392.6 367.5 393.8 367.5 393.8 367.6 393.1 367.6 392.2 367.7 393.6 367.7 394.4 367.7 392.7 367.8 392.4 367.8 394.1 367.9 393.4 368 392.8 368 394.2 368 393 368.1 393.4 368.1 392.8 368.2 392.3 368.2 392.6 368.3 391 368.3 390.1 368.3 390 368.4 389.8 368.5 388.1 368.5 387.5 368.6 386.1 368.7 387.1 368.7 387.4 368.8 388.6 368.9 390.8 368.9 390.7 368.9 392.1 369 392.1 369 393.1 369.1 392.5 369.1 393 369.2 393.9 369.2 393.1 369.2 392.8 369.3 393.5 369.4 394 369.4 393.2 369.5 392.5 369.5 392.2 369.5 392.3 369.6 394.1 369.6 393.3 369.7 393.7 369.7 394.1 369.8 393.6 369.8 393.7 369.9 393 369.9 392.2 370 393.8 370 393.3 370.1 393.8 370.1 392.6 370.4 393.2 370.6 394.8 370.7 392.7 370.9 393.4 370.9 394.3 371 393.2 371 393.4 371 391.8 371.1 393.9 371.1 393 371.2 394.2 371.3 393.2 371.3 393 371.3 393.6 371.4 393.1 371.4 392.9 371.5 394.4 371.5 394 371.6 393.3 371.6 393.8 371.6 393.8 371.7 393.6 371.8 393.1 371.8 393 371.9 393 371.9 393.1 372 392.3 372 390.4 372.1 388.7 372.1 386 372.2 381.6 372.2 381.6 372.3 377.8 372.3 373.9 372.4 372.2 372.5 373.8 372.5 375.3 372.5 378 372.6 381.3 372.7 384.4 372.7 387.9 372.8 391 372.8 391.5 372.8 391.7 372.9 391.7 372.9 392.6 373 392.4 373 392.6 373.1 393.2 373.1 392.6 373.2 393.4 373.2 392.7 373.3 392.9 373.3 393.1 373.4 394.3 373.4 394.4 373.5 394 373.5 392.8 373.6 393.3 373.7 394 373.7 393.9 373.7 392.1 373.8 393.3 373.8 392.8 373.9 393.9 374 393.8 374.3 393 374.6 394.9 374.7 393.2 374.9 395.2 375.2 393.3 375.5 393.3 375.7 394.7 375.8 393 376.1 393 376.2 394.5 376.4 393.4 376.7 393.7 377 392.5 377.2 394.7 377.3 394.1 377.4 393.6 377.6 393.9 377.9 393 378.2 393 378.4 392.2 378.5 393.7 378.8 394.3 378.9 394 379.1 394.1 379.4 393.9 379.7 392.7 379.9 392.4 380 393.8 380.3 393.5 380.4 394.1 380.6 393.2 380.7 392.7 380.8 393.7 380.8 393 380.9 392.2 380.9 392.9 380.9 392.7 381 392.5 381.1 393 381.1 394 381.2 395 381.2 394.6 381.3 393.1 381.3 394.2 381.4 393.3 381.4 393.6 381.5 392.8 381.5 393.3 381.6 392.1 381.6 394.6 381.7 392.6 381.8 393.4 381.8 392.3 381.8 392.7 381.9 391 381.9 390.5 382 390.1 382.1 388.5 382.1 386.1 382.1 387.5 382.2 385.5 382.3 387.1 382.3 388.4 382.4 389 382.4 389.5 382.5 390.6 382.5 392.1 382.6 393.2 382.6 393.9 382.7 393.4 382.7 394.6 382.8 392.5 382.8 394.6 382.9 393.1 383 393.9 383 393.2 383 393.4 383.1 392.7 383.1 393.6 383.2 394.8 383.3 393.5 383.3 393.3 383.3 393.4 383.4 393.9 383.5 393.2 383.5 393.4 383.6 393.5 383.6 394.3 383.6 394.1 383.7 392.6 383.9 392.9 384.2 393.4 384.5 394 384.8 394.1 385 393.2 385.1 394.9 385.4 393.3 385.5 394.4 385.7 394.4 386 394.5 386.3 393.5 386.5 393.8 386.6 392.3 386.9 392.1 387 393 387.2 393.9 387.5 394.1 387.8 393.3 388.1 394.1 388.4 393.8 388.7 394.5 389 392.2 389.3 392.8 389.6 392.7 389.9 392.6 390.2 394.6 390.5 392.7 390.8 392.8 391.1 393.1 391.4 394 391.7 393.1 392 393.9 392.3 393.8 392.6 392.9 392.9 391.7 393.2 392.7 393.5 392.5 393.8 394.6 394.1 392.9 394.4 392.6 394.7 393.7 395 393.4 395.3 392.7 395.6 394.2 395.9 394 396.2 393.6 396.5 392.9 396.8 392.7 397.1 391.9 397.4 393.7 397.7 393.7 398 392.7 398.3 393.4 398.6 395.8 398.9 392.6 399.2 392.1 399.5 393.8 399.8 393.1 400.1 393 400.4 393.8 400.7 393.3 401 394.1 401.3 393.8 401.6 394.2 401.9 393.5 402.2 391.8 402.5 394.4 402.8 392.1 403.1 394.1 403.4 393.6 403.7 392.4 404 393.4 404.3 394 404.6 392.6 404.9 393.4 405.2 392.8 405.5 392.7 405.8 392.9 406.1 394.3 406.4 393.9 406.7 393.4 407 393.3 407.3 393.5 407.6 393.6 407.9 393.5 408.2 392.1 408.5 394 408.8 392.7 409.1 391.5 409.4 393.9 409.7 392.5 410 393.3 410.3 393.3 410.6 392.9 410.9 393.8 411.2 393.2 411.5 393.2 411.8 392.7 412.1 393.2 412.4 392.6 412.7 393.4 413 394.4 413.3 394.1 413.6 393.7 413.9 392.4 414.2 394.1 414.5 394.1 414.8 394.9 415.1 391.8 415.4 393.4 415.7 393.1 416 394.2 416.3 392.6 416.6 393.1 416.9 395 417.2 394.1 417.5 392 417.8 393.4 418.1 394.4 418.4 392.9 418.7 393.8 419 393.4 419.3 392.3 419.6 392.9 419.9 394.2 420.2 394.2 420.5 393 420.8 394.2 421.1 392.9 421.4 393.6 421.7 393.4 422 392.5 422.3 393.6 422.6 393.1 422.9 391.4 423.2 392.8 423.5 392.8 423.8 392.8 424.1 392.7 424.4 392.9 424.7 391.6 425 394 425.3 393.4 425.6 393.6 425.9 393.2 426.2 393.4 426.5 393.2 426.8 392.6 427.1 392.3 427.4 393.4 427.7 394.1 428 393.5 428.3 394.5 428.6 392.4 428.9 393.2 429.2 392.9 429.5 394.3 429.8 394.6 430.1 393 430.4 393.9 430.7 393.2 431 392.6 431.3 393.3 431.6 392.6 431.9 394.5 432.2 393.8 432.5 394.2 432.8 393.6 433.1 391.6 433.4 394 433.7 393.4 434 391.6 434.3 393.5 434.6 394.1 434.9 394.6 435.2 392.6 435.5 393.9 435.8 393.6 436.1 393.3 436.4 393.2 436.7 393.8 437 393.8 437.3 393.8 437.6 393.1 437.9 392.4 438.2 394.3 438.5 394.3 438.8 393 439.1 393.4 439.4 394 439.7 392.1 440 393.7 440.3 395.1 440.6 393.6 440.9 392.9 441.2 394.9 441.5 393.4 441.8 393.5 442.1 393.1 442.4 393.5 442.7 392.1 443 392.4 443.3 392.3 443.6 394 443.9 393.3 444.2 394.2 444.5 391.9 444.8 392.9 445.1 394.4 445.4 392.8 445.7 392 446 392.8 446.3 393.1 446.6 393.4 446.9 394.3 447.2 394.4 447.5 394.5 447.8 393.8 448.1 393 448.4 393 448.7 392.3 449 394.3 449.3 394.3 449.6 393.4 449.9 392.7 450.2 393.9 450.5 393.7 450.8 393.5 451.1 392.5 451.4 393.5 451.7 393 452 393.9 452.3 393.8 452.6 393.7 452.9 393.1 453.2 394.5 453.4 393.9 453.5 394.3 453.8 394 453.9 393.9 454.1 393.6 454.4 392.6 454.7 392.1 454.9 392.7 455 393.8 455.3 394 455.4 393.5 455.6 393.4 455.9 394.7 456.2 393.1 456.4 392.1 456.5 392.2 456.7 393.1 456.8 393.8 456.8 393.9 456.8 393.2 456.9 393.9 456.9 393.3 457 392.8 457.1 393 457.1 393.8 457.1 394 457.2 392.5 457.3 392.5 457.3 393.3 457.4 394.8 457.4 392.4 457.4 392.3 457.5 393.5 457.6 393.5 457.6 392.6 457.7 392.7 457.7 393.1 457.8 390.9 457.8 391.2 457.9 389.8 457.9 387.4 458 384.8 458 383.2 458.1 378.5 458.1 377.5 458.2 375.9 458.3 376.1 458.3 379 458.3 380.3 458.4 383.2 458.5 385 458.5 389 458.6 390.6 458.6 391 458.6 392.2 458.7 392 458.8 393.3 458.8 394.5 458.9 392.3 458.9 394 459 392.8 459 393.6 459.1 393.2 459.1 394.2 459.2 392.8 459.2 393.8 459.3 392.7 459.3 393.5 459.4 393.3 459.5 394.1 459.5 392.2 459.5 392.3 459.6 394.3 459.6 393.6 459.7 394.6 459.8 392.6 460.1 393.5 460.4 393.8 460.5 394.6 460.7 393.3 461 393 461.3 393.9 461.5 393.3 461.6 392.8 461.9 393.9 462 392 462.2 392.6 462.5 394.4 462.8 393 463 393.1 463.1 393.6 463.4 394.2 463.7 393.7 464 392.7 464.3 393 464.6 394.1 464.9 393.3 465.2 392.9 465.5 394 465.8 394.2 466.1 394.9 466.4 392.6 466.7 392.9 467 392.9 467.3 393.6 467.6 393 467.9 394.2 468.2 391.4 468.5 394.1 468.8 392.9 469.1 393.2 469.4 393.8 469.7 393.5 470 392.6 470.3 394.4 470.6 393.8 470.9 393 471.2 393.5 471.5 392.6 471.8 392.5 472.1 393.1 472.4 393.6 472.7 393.4 473 392.8 473.3 392.4 473.6 392.1 473.9 394.5 474.2 393.6 474.5 392.8 474.8 394.2 475.1 393.8 475.4 393.1 475.7 392.9 476 394.2 476.3 393.6 476.6 394.6 476.9 393.6 477.2 392.9 477.5 392.9 477.8 392.8 478.1 393.5 478.4 393.5 478.7 393.8 479 393.7 479.3 392.6 479.6 393.2 479.9 392.7 480.2 393.7 480.5 392.4 480.8 392.9 481.1 392.7 481.4 392.9 481.7 393.2 482 394.5 482.3 393.2 482.6 392.3 482.9 393.1 483.2 393.9 483.5 393.8 483.8 393.5 484.1 394.8 484.4 394.2 484.7 393.4 485 394.2 485.3 392.4 485.6 393.2 485.9 392.7 486.2 393.5 486.5 394.5 486.8 393 487.1 394.5 487.4 392.6 487.7 394.4 488 392.1 488.3 392.7 488.6 394.1 488.9 393.3 489.2 393.5 489.5 393.3 489.8 393.5 490.1 393.2 490.4 392.6 490.7 393.1 491 393.4 491.3 392.7 491.6 393.7 491.9 394.6 492.2 392.2 492.5 393 492.8 393.1 493.1 393.4 493.4 393.4 493.7 392.8 494 393.3 494.3 393.4 494.6 393.3 494.9 394.5 495.2 393.4 495.5 392.3 495.8 392.2 496.1 393.8 496.4 393.1 496.7 392.9 497 392.4 497.3 393.1 497.6 393.3 497.9 392.9 498.2 393.1 498.5 394 498.8 393.9 499.1 393.7 499.4 393.2 499.7 392.4 500 393.9 500.3 394.4 500.6 394.3 500.9 394.2 501.2 393.5 501.5 393.6 501.8 393.3 502.1 394.2 502.4 393.1 502.7 394.9 503 393.9 503.3 393.1 503.6 393.3 503.9 392.2 504.2 392.8 504.5 393.1 504.8 395.1 505.1 392.8 505.4 394 505.7 393.4 506 393.1 506.3 393.8 506.6 391.9 506.9 394 507.2 394.7 507.5 393.6 507.8 393.3 508.1 393.5 508.4 393.8 508.7 393 509 393.4 509.3 393.7 509.6 393.1 509.9 393.6 510.2 393.6 510.5 393.8 510.8 392.6 511.1 392.9 511.4 393 511.7 394.2 512 393.5 512.3 392.1 512.6 392.4 512.9 394.7 513.2 393.6 513.5 392.4 513.8 392.7 514.1 393.4 514.4 394.4 514.7 394.5 515 393.1 515.3 393.1 515.6 394.7 515.9 392.6 516.2 394.5 516.5 393.6 516.8 393.4 517.1 394.3 517.4 393.7 517.7 392.7 518 392.2 518.3 393.3 518.6 393.7 518.9 394.3 519.2 391.4 519.5 394.3 519.8 393.8 520.1 394.4 520.4 393.9 520.7 393.5 521 393.6 521.3 393.6 521.6 392.9 521.9 393.2 522.2 393.4 522.5 393 522.8 392.2 523.1 392.3 523.4 393.7 523.7 393.7 524 393.4 524.3 392.5 524.5 393.9 524.6 393 524.9 391.8 525 394.4 525.2 392.2 525.5 394.9 525.8 393.7 526 393 526.1 391.6 526.4 392.8 526.5 394.4 526.7 394.3 527 393.5 527.3 392 527.5 393 527.6 393.1 527.8 393.6 527.9 393.2 527.9 393.5 527.9 392.1 528 392.8 528 394.3 528.1 392.2 528.2 393.9 528.2 394.9 528.2 393.7 528.3 392.2 528.4 394.1 528.4 391.8 528.5 393.4 528.5 392.9 528.5 394 528.6 394 528.7 393.2 528.7 394.2 528.8 393.3 528.8 392.2 528.9 391.3 528.9 392.5 529 388.4 529 385.8 529.1 382.2 529.1 381.2 529.2 376.1 529.2 373.6 529.3 372.2 529.4 374.4 529.4 375.2 529.4 376.1 529.5 380.7 529.6 385.5 529.6 388.8 529.7 391.3 529.7 391 529.7 392.4 529.8 392.7 529.9 394.1 529.9 393 530 393.2 530 393.5 530.1 394 530.1 392.5 530.2 392.8 530.2 393 530.3 391.6 530.3 394.1 530.4 394 530.4 393.2 530.5 395.7 530.6 394.2 530.6 394.7 530.6 394.4 530.7 393.9 530.7 392.2 530.8 394.4 530.9 393.6 531.2 392.4 531.5 393.3 531.6 393.8 531.8 394 532.1 393.4 532.4 392.9 532.6 393.8 532.7 392.7 533 393.2 533.1 393.8 533.3 392.2 533.6 393.6 533.9 391.9 534.1 392.6 534.2 392.4 534.5 393.2 534.8 393.8 535.1 393.2 535.4 393.9 535.7 393.3 536 393.1 536.3 393.6 536.6 393.1 536.9 393.4 537.2 394 537.5 392.9 537.8 394.1 538.1 392.5 538.4 393.1 538.7 392 539 392.9 539.3 394.4 539.6 393.5 539.9 394.2 540.2 392.2 540.5 392.5 540.8 393.6 541.1 393.8 541.4 393.9 541.7 392 542 393.6 542.3 393.2 542.6 393.3 542.9 393.6 543.2 393 543.5 392 543.8 392.4 544.1 392.2 544.4 392.3 544.7 393.1 545 394.2 545.3 392.7 545.6 392.6 545.9 392.4 546.2 391.9 546.5 393.2 546.8 392.8 547.1 393 547.4 392.5 547.7 393.5 548 392.3 548.3 393.6 548.6 392.7 548.9 393.7 549.2 392.5 549.5 393.5 549.8 393.5 550.1 393.1 550.4 394.3 550.7 393.3 550.9 392.5 551 393.6 551.3 392.5 551.4 392.7 551.6 393.1 551.9 393.2 552.2 394.3 552.4 391.8 552.5 392.9 552.8 393.9 552.9 392.9 553.1 393.3 553.4 394.2 553.7 392.1 553.9 393 554 393.6 554.2 392.6 554.3 391.7 554.3 392.2 554.3 393.1 554.4 393.1 554.4 394.3 554.5 393.9 554.6 391.8 554.6 393.7 554.6 393.6 554.7 394.1 554.8 392.8 554.8 392.5 554.9 393 554.9 394 554.9 393.3 555 394 555.1 393.3 555.1 392.1 555.2 391.5 555.2 393.6 555.3 390.5 555.3 390 555.4 387.9 555.4 384.2 555.5 381 555.5 380.6 555.6 377.8 555.6 372.4 555.7 370.6 555.8 372.5 555.8 375.1 555.8 375.5 555.9 380.3 556 383.5 556 388.6 556.1 390.8 556.1 391.9 556.1 390.7 556.2 393.8 556.3 393.1 556.3 392.4 556.4 392.4 556.4 392.5 556.5 391.8 556.5 393.3 556.6 392.3 556.6 392.3 556.7 393.2 556.7 392.9 556.8 392.4 556.8 392.6 556.9 392.4 557 393.8 557 393.5 557 392.3 557.1 392.8 557.1 393.8 557.2 392.6 557.3 394.1 557.6 393.1 557.9 393.3 558 391.2 558.2 393.4 558.5 393 558.8 393.1 559 393 559.1 393 559.4 392.2 559.5 393.2 559.7 392.6 560 391.7 560.3 391.7 560.5 392.5 560.6 392.6 560.9 390.7 561.2 390.8 561.5 393.1 561.8 392.3 562.1 394.5 562.4 391.6 562.7 392.9 563 393.2 563.3 394.5 563.6 395.5 563.9 395.9 564.2 394.1 564.5 395.8 564.8 394 565.1 395.1 565.4 394.9 565.7 395.2 566 394.1 566.3 395.6 566.6 394.5 566.9 394.5 567.2 394.3 567.5 393.7 567.7 395 567.8 394.7 568.1 394.7 568.2 395.7 568.4 393.7 568.7 394.1 569 394.3 569.2 394.9 569.3 394.2 569.6 394.9 569.7 394.6 569.9 393 570.2 393.7 570.5 392.7 570.5 394 570.6 393.9 570.6 394.6 570.7 394.3 570.7 394.1 570.8 395.1 570.8 394.6 570.9 393.2 570.9 393.6 571 394.3 571.1 395.3 571.1 393.9 571.1 394 571.2 394.2 571.2 394.6 571.3 393.9 571.4 394.1 571.4 393.6 571.4 393.4 571.5 392.9 571.6 393.3 571.6 391.2 571.7 389.9 571.7 389.2 571.7 387.1 571.8 380.4 571.9 377.4 571.9 373.7 572 373 572.1 375.2 572.1 379.9 572.2 383.5 572.3 387.4 572.3 389.1 572.3 389.2 572.4 392 572.4 391.2 572.5 394.1 572.6 393.7 572.6 394.3 572.6 393.1 572.7 393.1 572.8 393.5 572.8 394 572.9 394.3 572.9 393.8 572.9 394.3 573 394.5 573.1 393.2 573.1 394 573.2 392.9 573.2 393.7 573.3 394.7 573.3 393.5 573.4 395.4 573.4 394.4 573.5 394.7 573.5 394.1 573.8 394.7 574.1 394.9 574.3 394.2 574.4 393.7 574.7 393.7 574.8 395.5 575 393.9 575.3 393.7 575.6 393.5 575.8 392.8 575.9 393.7 576.2 394.3 576.3 393.7 576.5 393.5 576.8 394.3 577.1 394.4 577.4 393.7 577.7 394.2 578 393.3 578.3 394.6 578.6 393.3 578.9 393.8 579.2 394.1 579.5 393.7 579.8 393.2 580.1 395.5 580.4 395.1 580.7 392.7 581 394.1 581.3 393.1 581.6 394.2 581.9 393 582.2 394.4 582.5 394.4 582.8 395.2 583.1 394.8 583.4 393.6 583.7 394.7 584 393.6 584.3 393.9 584.6 393.6 584.9 392.7 585.2 394.4 585.5 392.5 585.8 393.8 586.1 394.3 586.4 394 586.7 392.8 587 393.5 587.3 394.4 587.6 394.7 587.9 395.1 588.2 392.6 588.5 394.3 588.8 393.6 589.1 394.5 589.4 392.7 589.7 393.8 590 394.4 590.3 393.5 590.6 393.7 590.9 393.2 591.2 394.7 591.5 392.9 591.8 393.2 592.1 393.7 592.4 393.7 592.7 395.5 593 394.1 593.3 393.3 593.6 394.3 593.9 394.2 594.2 394.1 594.5 393.9 594.8 394.2 595.1 393 595.4 393 595.7 393.6 596 393.1 596.3 394.4 596.6 395.3 596.9 394.8 597.2 394.2 597.5 394.1 597.8 393.4 598.1 392.9 598.4 394.3 598.6 392.8 598.7 394.1 599 393.8 599.1 394.4 599.3 393.9 599.6 394 599.9 393.5 600.1 392.6 600.2 393.6 600.5 394.4 600.6 394.6 600.8 394.9 601.1 393.1 601.4 393.2 601.6 394.4 601.7 393.5 601.9 395.7 602 394.1 602 392.7 602 393.4 602.1 395 602.1 392.5 602.2 393.9 602.3 392.8 602.3 395 602.3 393.5 602.4 393.1 602.5 392.5 602.5 393.3 602.6 391.9 602.6 393.4 602.6 395.4 602.7 393.8 602.8 393.5 602.8 392.7 602.9 393.6 602.9 393 603 392.2 603 393 603.1 390.7 603.1 387.3 603.2 386.6 603.2 384.9 603.3 382 603.3 379.1 603.4 378.7 603.5 379.4 603.5 380.1 603.5 382.2 603.6 384.6 603.7 388.1 603.7 391.6 603.8 391.2 603.8 391.6 603.8 392.6 603.9 393 604 394.5 604 392.5 604.1 395.4 604.1 394.9 604.2 393.4 604.2 393.9 604.3 393.5 604.3 394.3 604.4 394.3 604.4 394.4 604.5 394.4 604.5 395.2 604.6 393.7 604.7 394.3 604.7 393.7 604.7 393.9 604.8 394 604.8 393.8 604.9 394.1 605 393.2 605.3 393.7 605.6 393.4 605.7 393 605.9 393.3 606.2 393.5 606.5 393.8 606.7 392.7 606.8 393.7 607.1 393 607.2 393.3 607.4 394 607.7 394.7 608 394.1 608.2 393.5 608.3 393.5 608.6 394.9 608.9 392.7 609.2 394.7 609.5 392.8 609.8 393.4 610.1 393.9 610.4 393.7 610.7 395.1 611 394.2 611.3 393.8 611.6 394.6 611.9 393.9 612.2 393.3 612.5 394.7 612.8 395 613.1 394.8 613.4 393 613.7 395.3 614 393.6 614.3 394.4 614.6 394.7 614.9 395.6 615.2 392.7 615.5 393.1 615.8 394.7 616.1 394.2 616.4 393.6 616.7 391.7 617 394.2 617.3 393.7 617.6 391.9 617.9 395.8 618.2 392 618.5 393.5 618.8 393.9 619.1 394 619.4 394.4 619.7 393.7 620 393.2 620.3 393.6 620.6 392.3 620.9 393 621.2 395.3 621.5 393.4 621.8 393.8 622.1 395.2 622.4 394.6 622.7 393.9 623 394.4 623.3 393.7 623.6 393.2 623.9 394.6 624.2 394 624.5 395 624.8 393.7 625.1 393.6 625.4 394.1 625.7 393.7 626 393.6 626.3 393.2 626.6 394 626.9 394.1 627.2 395.2 627.5 393.8 627.8 392.6 628.1 394.2 628.4 395.5 628.7 393.5 629 393.3 629.3 393.7 629.6 391.7 629.9 393.6 630.2 393.7 630.5 392.7 630.8 394.3 631.1 393.2 631.4 392.5 631.7 393.3 632 394.3 632.3 395.3 632.6 394.8 632.9 394 633.2 393.5 633.5 393.7 633.8 394.6 634.1 393.5 634.4 394.2 634.7 394.6 635 393.2 635.3 393.4 635.6 394.2 635.9 393.9 636.2 393.8 636.5 393.5 636.8 393.8 637.1 395.2 637.4 394.8 637.7 392.7 638 393.9 638.3 393.9 638.6 393.9 638.9 392.8 639.2 393.7 639.5 394 639.8 393.3 640.1 394.1 640.4 392.1 640.7 392.7 641 393.9 641.3 394.1 641.6 393.7 641.9 393.5 642.2 394 642.5 394.6 642.8 394.5 643.1 393.8 643.4 393.5 643.7 394.6 644 394.2 644.3 394.5 644.6 393.6 644.9 393.2 645.2 394 645.5 393.4 645.8 394.7 646.1 394.5 646.4 392.2 646.7 394.3 647 394.8 647.3 394.6 647.6 393.5 647.9 393.2 648.2 394.6 648.5 394.6 648.8 393.9 649.1 393 649.4 392.7 649.7 394 650 393.2 650.3 393.3 650.6 394.2 650.9 394.6 651.2 392.3 651.5 393.3 651.8 394.8 652.1 393.8 652.4 393.6 652.7 394.3 653 393 653.3 392.9 653.6 393.9 653.9 395 654.2 394.6 654.5 393.8 654.8 394.6 655.1 393.5 655.4 393 655.7 392.6 656 394 656.3 394.5 656.6 394.1 656.9 393.8 657.2 393.5 657.5 394.6 657.8 393.8 658.1 392.8 658.4 394.8 658.7 393.4 659 394.1 659.3 393.8 659.6 394.6 659.9 394 660.2 394.7 660.5 394 660.8 393.5 661.1 393.5 661.4 394.3 661.7 393.2 662 394.5 662.3 393.7 662.6 393.2 662.9 393.2 663.2 393.7 663.5 395.1 663.8 394.4 664.1 393.8 664.4 393.2 664.7 395.2 665 393.6 665.3 393.8 665.6 393.5 665.9 394.8 666.2 394 666.5 393.5 666.8 394 667.1 393.1 667.4 393.1 667.7 393.7 668 391.7 668.3 394.7 668.6 395.3 668.9 393 669.2 393.7 669.5 392.7 669.8 394 670.1 394 670.4 394.4 670.7 392.9 671 393.4 671.3 393.4 671.6 393.6 671.9 395.5 672.2 393.7 672.5 393.8 672.8 393.5 673.1 394.4 673.4 395.7 673.7 394.7 674 395 674.3 393 674.6 394.6 674.9 393.9 675.2 394.8 675.5 394.6 675.8 394.3 676.1 392.6 676.4 393.9 676.7 393.5 677 394.2 677.3 393.9 677.6 394.6 677.9 392.7 678.2 393.3 678.5 393.8 678.8 394.1 679.1 393.5 679.4 393.8 679.7 393.9 680 394.6 680.3 393.7 680.6 394 680.9 392.5 681.2 391.9 681.5 392.8 681.8 394.1 682.1 392.1 682.4 394.1 682.7 393.8 683 393.8 683.3 393.3 683.6 393.5 683.9 394.4"/>
<path stroke="#0000ff" d="M2 451.9 2.3 451.6 2.6 451.2 2.9 451.8 3.2 452.5 3.5 451.6 3.8 451.3 4.1 450.7 4.4 451.7 4.7 450.9 5 450.5 5.3 452.2 5.6 451.1 5.9 450.1 6.2 451.1 6.5 453 6.8 451.5 7.1 450.6 7.4 450.8 7.7 452.1 8 451.9 8.3 451.8 8.6 451.4 8.9 452 9.2 452.7 9.5 452 9.8 451.5 10.1 450.6 10.4 451.9 10.7 452.7 11 452.1 11.3 450.7 11.6 451.7 11.9 452.6 12.2 451.1 12.5 452 12.8 452.5 13.1 452.8 13.4 450.4 13.7 450.3 14 451.9 14.3 452.1 14.6 451.3 14.9 451.6 15.2 451.3 15.5 452.5 15.8 450 16.1 451.8 16.4 450.6 16.7 451.1 17 450.5 17.3 450.9 17.6 451.6 17.9 451.6 18.2 452.9 18.5 451.4 18.8 451.8 19.1 451.9 19.4 451.8 19.7 452.7 20 451.7 20.3 451.7 20.6 451.5 20.9 451.6 21.2 451.6 21.5 452.3 21.8 451.6 22.1 451.6 22.4 451.6 22.7 452.2 23 451.2 23.3 452.3 23.6 451.2 23.9 452.1 24.2 453 24.5 451.8 24.8 451.5 25.1 450.7 25.4 452.1 25.7 451.6 26 452.3 26.3 451.1 26.6 452 26.9 452.9 27.2 451.9 27.5 451.4 27.8 450.6 28.1 451.6 28.4 452.1 28.7 452 29 450.8 29.3 450.8 29.6 450.9 29.9 450.8 30.2 451.4 30.5 451.8 30.8 453 31.1 451.7 31.4 452.7 31.7 450.4 32 452.7 32.3 452.2 32.6 451.9 32.9 452.2 33.2 452.1 33.5 453 33.8 452.2 34.1 450.3 34.4 450.3 34.7 452.8 35 451.5 35.3 452.6 35.6 451.3 35.9 451.1 36.2 451.3 36.5 451.8 36.8 451.7 37.1 451.1 37.4 452 37.7 452.1 38 450.9 38.3 450.8 38.6 450.1 38.9 451.4 39.2 451.6 39.5 451.1 39.8 451.1 40.1 451.5 40.4 451.6 40.7 452 41 452.2 41.3 451.9 41.6 452.4 41.9 450.9 42.2 452 42.5 451.9 42.8 450.8 43.1 451.1 43.4 451.9 43.7 451.6 44 450.7 44.3 451.2 44.6 452.7 44.9 452.2 45.2 451.7 45.5 452.6 45.8 450.9 46.1 451.5 46.4 452.3 46.7 451.3 47 450.8 47.3 452 47.6 452.8 47.9 449.7 48.2 451.7 48.5 450.7 48.8 451.4 49.1 450.5 49.4 453.5 49.7 451.1 50 451.6 50.3 451.1 50.6 450.9 50.9 451.3 51.2 451.7 51.5 452.9 51.8 451.8 52.1 452.8 52.4 450.8 52.7 451.6 53 451.3 53.3 450.4 53.6 454.4 53.9 451.4 54.2 451.8 54.5 451 54.8 451.2 55.1 450.8 55.4 452.4 55.7 451.3 56 451.5 56.3 451.7 56.6 450.7 56.9 451.8 57.2 451.5 57.5 451.9 57.8 451.3 58.1 451.6 58.4 452 58.7 452.3 59 451.1 59.3 452.3 59.6 450.9 59.9 451.5 60.2 451.7 60.5 451.7 60.8 449.7 61.1 450.9 61.4 451.5 61.7 452.3 62 451.1 62.3 452.7 62.6 450.3 62.9 451.6 63.2 452 63.5 451.6 63.8 451.8 64.1 452.3 64.4 451 64.7 452 65 452.4 65.3 451.4 65.6 449.9 65.9 450.7 66.2 451 66.5 450.8 66.7 451.9 66.8 451 67.1 453.4 67.2 452 67.4 450.6 67.7 451.4 68 452.7 68.2 452.1 68.3 450.8 68.6 452.4 68.7 451.2 68.9 453.2 69.2 451.2 69.5 452 69.5 452 69.6 451.2 69.6 451.5 69.7 452.4 69.7 451.9 69.8 451.5 69.8 451.9 69.9 452.9 69.9 452.3 70 451.9 70.1 451.8 70.1 450.4 70.1 451.6 70.2 451.2 70.2 452.1 70.3 451.1 70.4 451.8 70.4 450.7 70.4 452.1 70.5 450.8 70.6 451.1 70.6 451.1 70.7 449.7 70.7 449.7 70.7 449.6 70.8 448.7 70.9 444.5 70.9 443.9 71 444.6 71.1 445.3 71.1 445.5 71.2 447.5 71.3 448.7 71.3 451.4 71.3 449.8 71.4 449.8 71.4 450 71.5 450.4 71.6 452.4 71.6 451.2 71.6 452.9 71.7 452 71.8 451.8 71.8 452 71.9 452.1 71.9 452.2 71.9 450.8 72 451.1 72.1 451.2 72.1 451.6 72.2 451.4 72.2 450.7 72.3 451.1 72.3 452.9 72.4 453.1 72.4 450.9 72.5 451.9 72.5 451.6 72.8 451 73.1 452.1 73.3 451.5 73.4 452.8 73.7 451.9 73.8 451.4 74 449.6 74.3 451.5 74.6 452.2 74.8 451.1 74.9 452.2 75.2 452.1 75.3 450.3 75.5 451.4 75.8 451.8 76.1 452.2 76.4 451.7 76.7 451.6 77 451.3 77.3 451.4 77.6 451.6 77.9 450.8 78.2 452.1 78.5 451.4 78.8 452 79.1 451.2 79.4 451.9 79.7 451.7 80 452.3 80.3 451.9 80.6 452.3 80.9 451.5 81.2 451.6 81.5 451.4 81.8 450.7 82.1 451.5 82.4 452.4 82.7 452.2 83 451 83.3 451.8 83.6 452.1 83.9 450.6 84.2 451.9 84.5 451.8 84.8 452.1 85.1 451.8 85.4 450.3 85.7 450.1 86 453.1 86.3 451.3 86.6 452.5 86.9 452.5 87.2 451.7 87.5 450.7 87.8 452.6 88.1 451.6 88.4 452 88.7 451.9 89 452.3 89.3 452.3 89.6 450.5 89.9 450.6 90.2 451.7 90.5 451.6 90.8 452.2 91.1 451.5 91.4 451.5 91.7 453.1 92 452.6 92.3 452.4 92.6 452.4 92.9 451 93.2 451.5 93.5 451.5 93.8 450.8 94.1 451 94.4 451.7 94.7 450.7 95 452 95.3 451.9 95.6 451.4 95.9 451.3 96.2 452 96.5 451.9 96.8 451.9 97.1 450.7 97.4 450.4 97.7 453.1 98 451.1 98.3 451.3 98.6 450.2 98.9 451 99.2 451 99.5 452.2 99.8 449.6 100.1 450.6 100.4 451.3 100.7 451.2 101 451 101.3 451.3 101.6 450.4 101.9 451.8 102.2 452.5 102.4 451.7 102.5 451.2 102.8 452.5 102.9 452 103.1 450.8 103.4 451.2 103.7 451.1 103.9 451.6 104 452.5 104.3 451.1 104.4 451.5 104.6 451.7 104.9 450.7 105.2 451.2 105.2 452 105.3 452.4 105.3 450.2 105.4 452.1 105.4 451.4 105.5 452.5 105.5 452 105.6 453 105.6 451.8 105.7 451.3 105.8 450.9 105.8 450.5 105.8 451.9 105.9 451.9 105.9 452.1 106 451.8 106.1 450.4 106.1 451.2 106.1 451.2 106.2 451.4 106.3 451.6 106.3 451.6 106.4 449.8 106.4 447.8 106.4 447.5 106.5 445 106.6 444.1 106.6 442.3 106.7 442.8 106.8 443 106.8 445.5 106.9 447.3 107 447.9 107 450 107 449.6 107.1 450.8 107.1 452 107.2 450.4 107.3 451.4 107.3 452.6 107.3 450.9 107.4 451.7 107.5 451.6 107.5 451.2 107.6 450.6 107.6 451 107.6 450.8 107.7 452.4 107.8 451.7 107.8 452.1 107.9 450.7 107.9 451.9 108 451.7 108 452.3 108.1 451 108.1 452.2 108.2 452.6 108.2 452.9 108.5 450.9 108.8 450.8 109 450.5 109.1 452.3 109.4 452 109.5 451.8 109.7 451 110 452.5 110.3 452.8 110.5 451.6 110.6 451.5 110.9 452.5 111 452 111.2 452.6 111.5 451.3 111.8 451.8 112.1 451.3 112.4 451.2 112.7 451.4 113 451.4 113.3 452 113.6 451.4 113.9 451.6 114.2 451 114.5 450.7 114.8 452.7 115.1 450.9 115.4 452.9 115.7 452.3 116 449.9 116.3 451.1 116.6 451.3 116.9 451.6 117.2 451.5 117.5 451.1 117.8 452.5 118.1 451.5 118.4 452.3 118.7 451.1 119 451.1 119.3 452.6 119.6 451.4 119.9 450.8 120.2 451.5 120.5 452.4 120.8 451.5 121.1 451.1 121.4 452.1 121.7 452.3 122 451.4 122.3 451.4 122.6 451.3 122.9 453.6 123.2 451.5 123.5 452.9 123.8 451.5 124.1 451.9 124.4 450.1 124.7 451.7 125 451.6 125.3 451.4 125.6 451.3 125.9 450.6 126.2 450.5 126.5 451.7 126.8 451.1 127.1 451.5 127.4 451.5 127.7 451.2 128 451.1 128.3 453 128.6 450.8 128.9 451.2 129.2 451.4 129.5 450.7 129.8 450.9 130.1 452.2 130.4 452.3 130.7 451.7 131 454 131.3 452.2 131.6 452.5 131.9 451 132.2 452.4 132.5 452.8 132.8 451.3 133.1 452.9 133.3 451 133.4 450.8 133.7 451.6 133.8 451 134 452.1 134.3 450.8 134.6 451.7 134.8 450.2 134.9 451.6 135.2 452.4 135.3 451.4 135.5 451.8 135.8 452.4 136.1 450.8 136.3 450.6 136.4 451.6 136.6 451.8 136.7 451.4 136.7 450.9 136.7 452.5 136.8 450.7 136.8 451.4 136.9 451.5 137 452.1 137 451.2 137 450.9 137.1 453 137.2 450.9 137.2 452.1 137.3 451.4 137.3 451.2 137.3 451.5 137.4 451.3 137.5 451.7 137.5 449.5 137.6 451.2 137.6 451.3 137.7 450.2 137.7 450.1 137.8 451.1 137.8 449.3 137.9 446.8 137.9 446.2 138 443.7 138 443.3 138.1 441.3 138.2 441.7 138.2 443.7 138.2 443.2 138.3 445.4 138.4 449 138.4 448.2 138.5 450.3 138.5 450.7 138.5 451.1 138.6 450.2 138.7 451.2 138.7 451.2 138.8 452.9 138.8 452.2 138.9 451 138.9 452.2 139 452 139 451.5 139.1 451.4 139.1 451.3 139.2 450.4 139.2 451.1 139.3 452.3 139.4 452.6 139.4 452.9 139.4 451.3 139.5 452 139.5 449.8 139.6 451.4 139.7 450.6 140 452.2 140.3 450.4 140.4 450.8 140.6 450.8 140.9 451.9 141.2 452.2 141.4 450.9 141.5 452.9 141.8 451.7 141.9 451 142.1 451.9 142.4 451.6 142.7 452.2 142.9 451.8 143 453.2 143.3 452.4 143.6 451.1 143.9 452.2 144.2 452.2 144.5 450.9 144.8 451 145.1 451 145.4 449.8 145.7 452.1 146 451.4 146.3 452.5 146.6 451.2 146.9 451.6 147.2 452.1 147.5 452.3 147.8 451.8 148.1 450.8 148.4 453.2 148.7 452.2 149 452.6 149.3 452.8 149.6 452.6 149.9 451.9 150.2 451.9 150.5 452.1 150.8 450.5 151.1 452.2 151.4 450.9 151.7 451.9 152 450.8 152.3 452.1 152.6 451.2 152.9 453.4 153.2 451.7 153.5 452 153.8 450.9 154.1 451.4 154.4 451.6 154.7 451.4 155 451.3 155.3 451 155.6 452.2 155.9 451.3 156.2 451 156.5 451.9 156.8 451 157.1 451.5 157.4 451.2 157.7 450.9 158 451.4 158.3 451 158.6 450.7 158.9 451.8 159.2 451.4 159.5 450.5 159.8 451.3 160.1 451.7 160.4 451.9 160.7 451.9 160.9 451.8 161 452 161.3 451.2 161.4 451 161.6 452 161.9 451.3 162.2 451.6 162.4 452.1 162.5 452.3 162.8 452.5 162.9 451.1 163.1 451.3 163.4 452 163.7 450.5 163.7 450.6 163.8 452 163.8 451.1 163.9 450.9 163.9 452.2 164 452 164 452.2 164.1 451.3 164.1 451.4 164.2 451.3 164.3 451.8 164.3 450.1 164.3 451 164.4 452.1 164.4 451 164.5 451.5 164.6 451.6 164.6 451.9 164.6 451.1 164.7 450.5 164.8 453 164.8 450.2 164.9 451.2 164.9 448.4 164.9 448.9 165 447.2 165.1 447.3 165.1 446.1 165.2 444.8 165.3 443.9 165.3 445.3 165.4 446.8 165.5 448.4 165.5 449.9 165.5 449.4 165.6 450.5 165.6 452.2 165.7 452.4 165.8 450.1 165.8 450.8 165.8 451.2 165.9 452.5 166 451.3 166 452.9 166.1 451.8 166.1 452.6 166.1 450.9 166.2 451.3 166.3 452.3 166.3 452 166.4 450.2 166.4 451.4 166.5 451.7 166.5 452 166.6 451.1 166.6 452.8 166.7 451.7 166.7 452.6 167 451.9 167.3 451.6 167.5 451.4 167.6 450.7 167.9 452.2 168 452.1 168.2 452.3 168.5 451.3 168.8 450.9 169 451.3 169.1 451.4 169.4 451.6 169.5 452.3 169.7 450.9 170 451.2 170.3 452.1 170.6 452.3 170.9 453.2 171 452 171.2 451 171.5 450.8 171.8 451 172 451.6 172.1 451.8 172.4 451.5 172.5 451.1 172.7 451.5 173 451.5 173.3 452 173.5 451.6 173.6 451 173.9 450.7 174 452.7 174.2 451.5 174.3 451.4 174.4 451.6 174.4 452.4 174.5 451.3 174.5 451.7 174.5 451.4 174.6 452 174.7 450.8 174.7 451.7 174.8 452.3 174.8 452.4 174.9 452 174.9 451.8 175 452.7 175 452 175.1 452.5 175.1 450.6 175.2 450.7 175.2 452 175.3 451.1 175.4 450.7 175.4 450 175.4 451.6 175.5 448.7 175.5 448.3 175.6 445.5 175.7 444.6 175.7 445.6 175.7 445 175.8 442.2 175.9 442.5 175.9 445.9 176 445.9 176 445.6 176.1 448.5 176.1 448.8 176.2 449.4 176.2 451.8 176.3 450.7 176.3 450.5 176.4 451.5 176.4 451.3 176.5 452.3 176.6 451.6 176.6 452.7 176.6 452.4 176.7 452.9 176.7 452.4 176.8 451.6 176.9 451.9 176.9 451.6 176.9 450.4 177 450.7 177.1 452.1 177.1 449.8 177.2 451 177.2 450.6 177.2 451.5 177.3 450.8 177.5 451.8 177.7 451.4 177.8 451.2 178.1 451 178.2 450 178.4 451.6 178.6 450.6 178.7 451.4 179 451.8 179.1 452.4 179.2 452.1 179.3 452.7 179.6 450.5 179.7 452.1 179.9 452.7 180.1 451.9 180.2 450.8 180.5 451.9 180.6 451.2 180.7 451.1 180.8 452.3 181 451.4 181.1 450.7 181.1 451.1 181.1 453 181.2 450.9 181.2 452 181.3 451.7 181.4 452.4 181.4 451.3 181.4 450.8 181.5 451 181.6 450.8 181.6 453.4 181.7 451.6 181.7 451.2 181.7 452.4 181.8 451.9 181.9 451.2 181.9 451.7 182 451.2 182 451.8 182.1 451.7 182.1 449.2 182.2 447.7 182.2 445 182.3 443.2 182.3 442 182.4 438.7 182.4 435.8 182.5 433.5 182.6 435.3 182.6 437.8 182.6 438.8 182.7 442.3 182.8 444.9 182.8 447.4 182.9 448.8 182.9 449.7 182.9 450.4 183 450 183.1 452.1 183.1 450.8 183.2 451.6 183.2 451.9 183.3 451.1 183.3 450.2 183.4 452.2 183.4 451.8 183.5 451.3 183.5 452.3 183.6 452.2 183.6 450.8 183.7 451.5 183.8 450.3 183.8 451.4 183.8 452.6 183.9 450.9 183.9 452.1 184 450.5 184.1 451.3 184.4 452.3 184.7 452.8 184.8 451.9 185 452.1 185.3 452.8 185.6 449.8 185.8 450.3 185.9 453 186.2 453.4 186.3 452 186.5 451.6 186.8 451.8 187.1 451.6 187.3 451.1 187.4 451.6 187.7 451.5 188 452.1 188.3 452.1 188.6 452.3 188.9 452 189.2 450.9 189.5 452.6 189.8 449.6 190.1 451.7 190.4 451.8 190.7 451.2 191 453 191.3 450.8 191.6 450.7 191.9 451.2 192.2 451.9 192.5 452.2 192.8 451.7 193.1 452.1 193.4 451.1 193.7 451.1 194 451.7 194.3 450.6 194.6 451.7 194.9 451.3 195.2 452.1 195.5 450.9 195.8 451.2 196.1 451.2 196.4 451.3 196.7 450.9 197 451.4 197.3 450.6 197.6 452 197.9 452.1 198.2 451.6 198.5 451.4 198.6 450.9 198.8 450.9 199.1 451.4 199.4 450.9 199.6 450.7 199.7 451.7 200 451.6 200.1 451.3 200.3 451 200.6 451.5 200.9 451.1 201.1 451.2 201.2 451.7 201.5 452 201.6 452.1 201.8 451.1 201.9 452.4 202 450.6 202 451.3 202.1 452.4 202.1 453.2 202.1 451.5 202.2 451.2 202.3 451.1 202.3 450.5 202.4 451.2 202.4 451 202.5 450.8 202.5 452.2 202.6 450.7 202.6 452.4 202.7 451.7 202.7 451.6 202.8 450.5 202.8 450.2 202.9 448.4 203 448.5 203 446.4 203 445.7 203.1 439.8 203.1 433.1 203.2 421.9 203.3 410.9 203.3 408.9 203.3 404.8 203.4 398.3 203.5 404.9 203.5 412.3 203.6 422.9 203.6 423.7 203.7 432 203.7 440.8 203.8 444.9 203.8 448.3 203.9 449.7 203.9 451.3 204 451.2 204 450 204.1 450.7 204.1 450.3 204.2 450.2 204.2 450.7 204.2 452 204.3 451.3 204.3 451.8 204.4 451.2 204.5 451.1 204.5 451.4 204.5 451.3 204.6 452.8 204.6 452.7 204.7 451.7 204.7 451.9 204.8 450 204.8 451.4 204.8 453.2 204.9 450.9 205.1 452.1 205.4 452.4 205.6 451.2 205.7 451.4 206 451.2 206.1 452.1 206.2 451.6 206.3 452.6 206.6 452.4 206.7 451.5 206.9 453.4 207.1 451.3 207.2 451.1 207.4 451.4 207.5 450.9 207.5 451.2 207.5 451.5 207.6 452.2 207.6 450.4 207.6 450.5 207.7 450.9 207.7 451.3 207.8 451.8 207.8 450.9 207.8 452.6 207.9 451.1 208 451.3 208 451.5 208.1 452.3 208.1 451.6 208.1 451.4 208.2 451 208.2 451.5 208.3 451.6 208.3 450.9 208.4 450.9 208.4 449.5 208.5 449.9 208.5 450 208.6 448.2 208.6 446.5 208.6 442.6 208.7 442.4 208.7 440.2 208.8 438.1 208.8 432.6 208.9 432.3 209 432.4 209 435.7 209 437 209.1 439.5 209.1 441.9 209.2 446.2 209.2 446.9 209.3 448.2 209.3 449.8 209.3 449.9 209.4 449.6 209.4 450 209.5 451.2 209.5 450 209.5 452 209.5 451.5 209.6 451.1 209.6 452.3 209.6 450.6 209.6 451.8 209.7 450.3 209.7 451 209.7 451.8 209.8 450.9 209.8 451.2 209.8 451.8 209.8 452.4 209.9 452.2 209.9 451.6 209.9 451.1 210 450.2 210 452.5 210 452.6 210 449.7 210.1 451.8 210.1 451.2 210.1 451.7 210.2 451.4 210.2 450.9 210.2 451.1 210.2 451 210.3 451.8 210.3 450.7 210.3 450.2 210.3 451 210.4 450.4 210.4 450 210.5 448.8 210.5 448.1 210.5 446.7 210.6 441.4 210.6 434.2 210.7 425.9 210.8 414.6 210.8 412 210.8 407.7 210.9 405.2 211 407.9 211 417.7 211.1 426 211.1 427.4 211.2 436 211.2 439.9 211.2 441.1 211.3 446.8 211.3 449.2 211.4 450.6 211.4 450.9 211.5 450.4 211.5 450.5 211.6 450.6 211.7 451.3 211.7 452 211.7 450.5 211.8 450.9 211.8 450.4 211.9 452.8 212 452 212 451.6 212 450.5 212.1 450.7 212.2 451 212.2 451.5 212.2 450.5 212.3 451.3 212.3 452.4 212.3 451.5 212.4 451.6 212.6 450 212.7 451.3 212.9 451.4 213.2 451 213.5 450.6 213.7 451.5 213.8 450.8 214.1 451.2 214.2 450.4 214.4 451.5 214.7 452.2 215 451 215.2 451.8 215.3 450.5 215.6 452 215.7 452 215.9 451.3 216.2 452.2 216.5 451 216.8 451.6 217.1 452.8 217.4 451.6 217.7 450.8 218 452.4 218.3 452 218.6 451.4 218.9 450.3 219.2 450.2 219.5 450.5 219.8 452.7 220.1 451.8 220.4 451 220.7 452.4 221 452.7 221.3 451 221.6 451.9 221.9 450.4 222.2 451.9 222.5 452.9 222.8 450.6 223.1 451.6 223.4 451.1 223.7 451.5 224 451.7 224.3 451.8 224.6 452.2 224.9 452 225.2 452.4 225.5 452.3 225.8 452.4 226.1 451.1 226.4 451.9 226.7 451.3 227 451 227.3 453 227.5 451.8 227.6 451.6 227.9 450 228 451.4 228.2 452.1 228.5 451.4 228.8 451.2 229 452.6 229.1 451.4 229.4 451.3 229.5 451.5 229.7 451.4 230 452.3 230.3 452 230.5 451.5 230.6 451.3 230.8 451.4 230.9 452.8 230.9 451.3 230.9 452 231 450.4 231 451.8 231.1 452 231.2 452.4 231.2 451.8 231.2 451.9 231.3 451.7 231.4 452.3 231.4 453 231.5 451.6 231.5 450.9 231.5 451.9 231.6 451.3 231.7 451.8 231.7 451.8 231.8 451.1 231.8 450.6 231.9 450.7 231.9 448.5 232 447.8 232 444.3 232.1 442.5 232.1 441.6 232.2 437.7 232.2 433.9 232.3 433.6 232.4 434.3 232.4 436.3 232.4 438.3 232.5 442.2 232.6 444 232.6 448.3 232.7 450.4 232.7 450.7 232.7 450.6 232.8 450.9 232.9 452.5 232.9 451.1 233 450.3 233 451.5 233.1 451.7 233.1 450.7 233.2 450.6 233.2 452.9 233.3 451.6 233.3 452.1 233.4 451.1 233.4 450.4 233.5 451.4 233.6 452.5 233.6 451 233.6 450.3 233.7 451.4 233.7 451.4 233.8 451.6 233.9 450.8 234.2 451.3 234.5 451.2 234.6 452.2 234.8 451.7 235.1 452.2 235.4 451.6 235.6 450 235.7 450.2 236 452 236.1 452.2 236.3 452.2 236.6 451.5 236.9 450.3 237.1 451.2 237.2 451.9 237.5 452.6 237.8 451.3 238.1 451.2 238.4 451 238.7 452.3 239 452.2 239.3 450.3 239.6 452.5 239.9 450.9 240.2 450.5 240.5 450.5 240.8 451.1 241.1 453.3 241.4 453.5 241.7 450.7 242 451.1 242.3 451.7 242.6 451.9 242.9 451.3 243.2 450.4 243.5 451.3 243.8 451.1 244.1 450.3 244.4 451.7 244.7 450.5 245 450.3 245.3 452.7 245.6 452.3 245.9 452.6 246.2 451.7 246.5 451.3 246.8 451.5 247.1 450.6 247.4 452.1 247.7 451.8 248 451.4 248.3 450.3 248.6 451.5 248.9 452.8 249.2 452.6 249.5 452.2 249.8 451.3 250.1 451.7 250.4 452 250.7 451.7 251 452.4 251.3 451.1 251.6 449.9 251.9 449.9 252.2 450.9 252.5 450.6 252.8 452.1 253.1 452.4 253.4 451.6 253.7 452 254 451.6 254.3 451.7 254.6 451.2 254.9 451.3 255.2 452.5 255.5 451.4 255.8 451.6 256.1 452.5 256.4 452.3 256.7 451.3 257 451.8 257.3 450.9 257.6 451.7 257.9 451.8 258.2 451.6 258.5 451.7 258.8 451.9 259.1 449.8 259.4 451 259.7 451.7 260 451.2 260.3 450.9 260.6 451.4 260.9 452.7 261.2 451.4 261.4 451.1 261.5 451.2 261.8 450.7 261.9 451.9 262.1 450.9 262.4 452.3 262.7 452.2 262.9 452 263 452.3 263.3 451.5 263.4 450.3 263.6 451.5 263.9 452 264.2 450.4 264.4 450.7 264.5 452.4 264.7 451.9 264.8 452.6 264.8 452.1 264.8 451.6 264.9 451.9 264.9 452.2 265 451.6 265.1 451.4 265.1 451.8 265.1 451.3 265.2 453.3 265.3 451 265.3 450.5 265.4 450.6 265.4 452.3 265.4 451.2 265.5 451.6 265.6 451.4 265.6 451.7 265.7 450.3 265.7 451.4 265.8 450.8 265.8 451.6 265.9 450.7 265.9 448.5 266 447.7 266 448.6 266.1 447.9 266.1 446.5 266.2 445.5 266.3 446.8 266.3 444.8 266.3 446.6 266.4 447.5 266.5 448.6 266.5 450.7 266.6 451.1 266.6 451.2 266.6 451.1 266.7 451.8 266.8 452 266.8 451.1 266.9 452.2 266.9 450.8 267 452.8 267 450.6 267.1 451.4 267.1 450.8 267.2 451.6 267.2 452.5 267.3 451 267.3 452.9 267.4 452.6 267.5 451.9 267.5 451.2 267.5 452.2 267.6 449.5 267.6 451 267.7 452.3 267.8 451.5 268.1 453.4 268.4 451.1 268.5 450.6 268.7 451.4 269 452 269.3 452.8 269.4 450.3 269.5 451.7 269.6 452.5 269.9 451.1 270 451.3 270.2 450.7 270.4 452.1 270.5 452.2 270.8 452 270.9 451.8 271 452.3 271.1 451.5 271.4 452.1 271.7 452.2 271.9 452.5 272 451.9 272.3 451.6 272.4 452.1 272.6 450.4 272.7 450.2 272.8 452.7 272.8 451.6 272.9 450.8 272.9 451.1 272.9 451.4 273 451.6 273.1 451 273.1 452.2 273.2 450.2 273.2 453.5 273.3 450.7 273.3 452.7 273.4 451.9 273.4 450.2 273.5 450.5 273.5 451.4 273.6 451.5 273.6 450.8 273.7 450.8 273.8 450.2 273.8 448.4 273.8 448.7 273.9 448 273.9 442.2 274 437.4 274.1 433.7 274.1 432.3 274.1 430 274.2 427.1 274.3 429.1 274.3 433.4 274.4 438 274.4 439.3 274.5 443.5 274.5 446.7 274.6 448.7 274.6 449.9 274.7 452.1 274.7 449.9 274.8 452.6 274.8 451.8 274.9 451.4 275 450.9 275 452.8 275 452.3 275.1 452.1 275.1 453 275.2 450.1 275.3 451.6 275.3 451.3 275.3 451 275.4 451.6 275.5 451.9 275.5 451.9 275.6 451.4 275.6 450.5 275.6 452 275.7 452 275.9 453.1 276.2 452.2 276.5 451.6 276.8 450.7 277 453.6 277.1 451.1 277.2 451.7 277.4 452.1 277.5 452 277.7 452.6 278 450.8 278.2 451.1 278.3 451.7 278.5 450.7 278.6 451.1 278.7 452.6 278.9 451.8 279 451.5 279.2 451.2 279.5 451.6 279.7 451.5 279.8 450.8 280.1 452.1 280.2 450.6 280.4 452.5 280.5 451.3 280.6 449.9 280.6 450.4 280.7 451.7 280.7 450.9 280.7 452.9 280.8 452.5 280.9 453.1 280.9 452.2 281 452.5 281 451 281.1 452.4 281.1 451.1 281.2 451.4 281.2 450.4 281.3 451.4 281.3 451.7 281.4 451.3 281.4 450.3 281.5 451.5 281.6 450.9 281.6 449.4 281.6 449.5 281.7 447.5 281.7 442.7 281.8 439.2 281.9 433.4 281.9 432.3 281.9 431.4 282 428.9 282.1 431.3 282.1 435 282.2 437.7 282.2 439.7 282.3 444.6 282.3 446.7 282.4 449 282.4 449.7 282.5 449.6 282.5 449.7 282.6 453.3 282.6 451.2 282.7 450.7 282.8 451.5 282.8 450 282.8 452.5 282.9 452.7 282.9 450.9 283 451.7 283.1 450.8 283.1 452.1 283.1 450.9 283.2 451.4 283.3 452.5 283.3 451.9 283.4 451.3 283.4 450.4 283.4 450.4 283.5 452.4 283.7 451.9 284 451.6 284.3 452.5 284.6 451.7 284.8 451 284.9 451.5 285.2 451.5 285.3 451.6 285.5 453.4 285.8 452 286.1 451.8 286.3 451.4 286.4 451.1 286.7 450.8 286.8 450.2 287 451.2 287.3 450.5 287.6 450.2 287.9 450.9 288.2 450.1 288.5 452.6 288.8 452.5 289.1 450.9 289.4 453.1 289.7 452.1 290 449.7 290.3 451.6 290.6 450.8 290.9 450.3 291.2 451.4 291.5 452.5 291.8 451.9 292.1 450.5 292.4 451.1 292.7 451 293 452.4 293.3 451.5 293.6 450.9 293.9 450.9 294.2 450.1 294.5 451 294.8 452.3 295.1 450.2 295.4 451.7 295.7 451.5 296 452.2 296.3 450.7 296.6 452.3 296.9 452.8 297.2 453.3 297.5 450.4 297.8 451.6 298.1 451.4 298.4 451.7 298.7 450.9 299 452.2 299.3 453.4 299.6 452.7 299.9 450.9 300.2 451.2 300.5 452.1 300.8 451.7 301.1 451 301.4 452.5 301.7 452 302 452.4 302.3 451.5 302.6 452.5 302.9 451.2 303.2 450.7 303.5 451.6 303.8 450.5 304.1 452.5 304.4 452.1 304.7 450.3 305 451.7 305.3 452.2 305.6 451.3 305.9 451.9 306.2 451.1 306.5 451.5 306.8 451.5 307.1 452 307.4 450.9 307.7 450.7 308 451.8 308.3 451.2 308.6 452 308.9 451.2 309.2 450.6 309.5 452.1 309.8 451.8 310.1 452.1 310.4 451.3 310.7 451.3 311 452.5 311.3 450.3 311.6 452.9 311.9 452 312.2 451.5 312.5 451.7 312.8 452 313.1 451 313.4 451.8 313.7 450.9 314 450.2 314.3 451.7 314.6 451.7 314.9 452.1 315.2 452 315.5 452.1 315.8 452.2 316.1 450.8 316.4 452.5 316.7 453.6 317 451.2 317.3 450.6 317.6 452.1 317.9 452.3 318.2 452.3 318.5 452.7 318.8 450.5 319.1 451.9 319.4 451.9 319.7 452.5 320 450.9 320.3 451.6 320.6 451.3 320.9 451.5 321.2 451.5 321.5 451.5 321.8 450.3 322.1 451.6 322.4 451.6 322.7 451.3 323 448.9 323.3 451.1 323.6 451.1 323.9 450.9 324.2 452.8 324.5 452.3 324.8 451.4 325.1 452 325.4 454.1 325.7 450.9 326 451.9 326.3 451.1 326.6 452.7 326.9 452.4 327.2 451.5 327.5 452.1 327.8 451 328.1 450.4 328.4 452.2 328.7 452.8 329 451.4 329.3 451.2 329.6 450.2 329.9 453.2 330.2 450.7 330.5 450.9 330.8 451.4 331.1 452.5 331.4 451.6 331.7 451.6 332 451.6 332.3 452.2 332.6 451.6 332.9 451.7 333.2 451.5 333.5 450.7 333.8 452.6 334.1 451.1 334.4 450.6 334.7 451.3 335 451.6 335.3 452.2 335.6 450.5 335.9 450.6 336.2 451.7 336.5 451.9 336.8 450.8 337.1 450.7 337.4 451.7 337.7 451.5 338 450.4 338.3 450.9 338.6 452.7 338.9 450.8 339.2 452.4 339.5 450.4 339.8 452.7 340.1 452.8 340.4 451.1 340.7 451.1 341 452.1 341.3 450.7 341.6 452 341.9 452.5 342.2 451.8 342.5 451.8 342.8 451.5 343.1 452.3 343.4 451 343.7 452.8 344 451.6 344.3 451.3 344.6 450.4 344.9 451.3 345.2 451.8 345.5 452.5 345.8 450.4 346.1 451.5 346.4 451.1 346.7 450.7 347 451.6 347.3 451 347.6 452.2 347.9 449.6 348.2 452.1 348.5 450.1 348.8 450.1 349.1 452 349.4 451.3 349.7 451.7 350 450.9 350.3 450.8 350.6 451 350.9 451.5 351.2 450.9 351.5 451.3 351.8 450.9 352.1 451.8 352.4 450.7 352.7 450 353 449.6 353.3 451.6 353.6 451.7 353.9 452.3 354.2 451 354.5 450.7 354.8 450.5 355.1 452.2 355.4 451.1 355.7 452.3 356 451.5 356.3 451.4 356.6 450.2 356.8 451.1 356.9 452.2 357.2 451.1 357.3 452.1 357.5 450.3 357.8 452.3 358.1 453.7 358.3 452.4 358.4 451.8 358.7 450.6 358.8 451.2 359 451.1 359.3 451.7 359.6 450 359.8 450.9 359.9 452.1 360.1 451.6 360.2 452.1 360.2 452.2 360.2 450.7 360.3 450.5 360.3 451.9 360.4 451.5 360.5 451.6 360.5 450.9 360.5 452.3 360.6 451.9 360.7 452.3 360.7 451.2 360.8 451.9 360.8 451.4 360.8 450.7 360.9 451.3 361 450 361 451 361.1 451 361.1 451.3 361.2 449.4 361.2 447.9 361.3 446.2 361.3 441.9 361.4 439.5 361.4 441.2 361.5 434.8 361.5 430.5 361.6 429.1 361.7 432.4 361.7 432.2 361.7 434.6 361.8 439.2 361.9 442.9 361.9 446.2 362 447.6 362 448.8 362 451.2 362.1 451.9 362.2 450.9 362.2 451.8 362.3 451.7 362.3 451.4 362.4 451.3 362.4 452.3 362.5 451.9 362.5 451.3 362.6 451.3 362.6 452.2 362.7 451 362.7 451 362.8 451.3 362.9 451.1 362.9 452.5 362.9 451.8 363 451.5 363 451.1 363.1 452.6 363.1 451.9 363.2 453.1 363.5 452.2 363.6 451.4 363.8 451.1 363.9 451.3 364.1 451.7 364.4 452.2 364.6 451.9 364.7 452.7 364.9 450.4 365 451.6 365.1 450.5 365.3 450.8 365.4 451.1 365.6 451.1 365.9 450.8 366.1 450.4 366.2 452.4 366.4 451.3 366.4 452.3 366.5 450.7 366.5 449.8 366.5 451.1 366.6 452.2 366.6 451.1 366.7 451.8 366.8 450.7 366.8 452.6 366.8 451.9 366.9 452.3 367 451.3 367 452.5 367.1 451.6 367.1 451.1 367.1 451 367.2 451.5 367.3 450.8 367.3 450.5 367.4 451.3 367.4 451.8 367.5 450.7 367.5 451 367.6 450.6 367.6 446.9 367.7 446.5 367.7 445.2 367.8 443.4 367.8 442.4 367.9 439.8 368 442.7 368 443.8 368 444.3 368.1 446.4 368.1 447.7 368.2 447.6 368.2 450.2 368.3 451.4 368.3 451 368.3 449.6 368.4 451.1 368.5 451.2 368.5 450.2 368.6 451.4 368.6 452 368.7 451.3 368.7 451.4 368.8 452.6 368.8 451.1 368.9 450.8 368.9 451.6 369 452.4 369 452 369.1 451.6 369.1 451.2 369.2 452.5 369.2 452.2 369.2 450.2 369.3 451.8 369.3 449.7 369.4 452.7 369.5 452 369.6 451.1 369.8 450.6 370.1 451.3 370.2 450.2 370.4 452 370.6 451.2 370.7 450.2 371 451.5 371.1 452.4 371.2 450.6 371.3 451.3 371.4 452.9 371.5 451.7 371.5 451.1 371.6 451.6 371.6 452.1 371.6 450.7 371.7 451.4 371.7 450.3 371.8 450.3 371.8 450.3 371.9 452.1 371.9 451.7 372 452 372 452.3 372.1 451.4 372.1 451.5 372.2 451.6 372.2 451.7 372.3 450.4 372.3 450.8 372.4 450.5 372.5 449.8 372.5 448.3 372.5 448.1 372.6 445.7 372.6 441.5 372.7 437.5 372.7 436.7 372.8 430.9 372.8 429 372.8 426.5 372.9 425 373 426.3 373 430 373.1 437.8 373.1 437.9 373.2 442.3 373.2 446 373.3 448.3 373.3 449 373.4 450.9 373.4 450.4 373.5 450.7 373.5 449.6 373.6 452.5 373.7 450.5 373.7 450.6 373.7 451.7 373.8 451.8 373.8 450.8 373.9 451.4 374 451.7 374 451.6 374 451.9 374.1 452.1 374.2 451.2 374.2 450.3 374.3 453.1 374.3 451.2 374.3 450.8 374.4 452.1 374.6 452 374.9 451.1 375.2 453.3 375.5 449.8 375.7 452.5 375.8 451.5 376.1 451.8 376.2 451.8 376.4 451.4 376.7 451.8 377 450.6 377.2 451.3 377.3 453 377.4 449.6 377.6 452.5 377.7 449.9 377.9 450.9 378.2 452.2 378.4 451.3 378.5 451.1 378.8 450.4 378.9 451.5 379.1 451.4 379.4 451.1 379.7 450.4 379.9 451.7 380 451.9 380.3 452.4 380.4 452 380.6 452.7 380.7 452.5 380.8 449.4 380.8 452.8 380.9 451.5 380.9 450.8 380.9 451.9 381 452.3 381.1 450.4 381.1 450.6 381.2 452 381.2 451.1 381.3 452.6 381.3 451.7 381.4 451.1 381.4 450.5 381.5 451.9 381.5 450.2 381.6 450.5 381.6 450.4 381.7 452.5 381.8 452.2 381.8 450.4 381.8 450.1 381.9 449.9 381.9 448.8 382 445.4 382.1 445.6 382.1 443 382.1 443.1 382.2 439.8 382.3 442.2 382.3 443.4 382.4 447.5 382.4 446.2 382.5 446.9 382.5 450.8 382.6 449.8 382.6 450.9 382.7 450.3 382.7 451.8 382.8 451.5 382.8 451.2 382.9 451.2 383 451.1 383 451 383 450.4 383.1 452.4 383.1 452.2 383.2 450.5 383.3 450.7 383.3 451.8 383.3 453.2 383.4 451.4 383.5 451.3 383.5 451.4 383.6 451.7 383.6 451.4 383.6 452.4 383.7 452.3 383.9 452 384.2 452.8 384.5 451.4 384.8 451.2 385 453.8 385.1 450.1 385.4 450.4 385.5 449.8 385.7 451.8 386 450.8 386.3 452.4 386.5 450 386.6 451.5 386.9 451.3 387 450.8 387.2 452.4 387.5 451.3 387.8 451.9 388.1 451.2 388.4 451.7 388.7 451.2 389 451.6 389.3 451.5 389.6 451.1 389.9 451.9 390.2 451.4 390.5 450.8 390.8 450.8 391.1 451.9 391.4 452.6 391.7 450.6 392 451.3 392.3 451.9 392.6 452.4 392.9 452.1 393.2 450.7 393.5 451.6 393.8 452.3 394.1 451.8 394.4 451.4 394.7 450.7 395 451.7 395.3 451.5 395.6 451.6 395.9 452.7 396.2 452.5 396.5 451 396.8 451.8 397.1 451.3 397.4 451.7 397.7 452.8 398 452.3 398.3 451.6 398.6 451.1 398.9 451.5 399.2 451.9 399.5 451.2 399.8 452.4 400.1 451.6 400.4 450.7 400.7 453.1 401 449.4 401.3 451.4 401.6 451.5 401.9 452.3 402.2 452.4 402.5 452.7 402.8 452.8 403.1 451.8 403.4 451.7 403.7 452.3 404 451.6 404.3 450.6 404.6 451.2 404.9 452.1 405.2 452 405.5 450.7 405.8 452.5 406.1 451.8 406.4 450.4 406.7 451.9 407 452.3 407.3 452 407.6 451.3 407.9 451 408.2 452.4 408.5 451.7 408.8 451.6 409.1 451.3 409.4 450.8 409.7 450.2 410 451.3 410.3 452.4 410.6 452.2 410.9 451.1 411.2 452.7 411.5 451.4 411.8 450.8 412.1 452.3 412.4 452.6 412.7 451.3 413 450.7 413.3 451.5 413.6 449.7 413.9 451.6 414.2 452.7 414.5 451.8 414.8 451 415.1 452.1 415.4 451.2 415.7 452.5 416 451.3 416.3 453.1 416.6 451.3 416.9 451.7 417.2 450.9 417.5 450.6 417.8 451.8 418.1 451.8 418.4 450.8 418.7 452 419 451.3 419.3 451.2 419.6 451.5 419.9 451.9 420.2 452.1 420.5 452.5 420.8 451.9 421.1 451 421.4 451.1 421.7 451.9 422 450.7 422.3 451.4 422.6 451.3 422.9 451.5 423.2 451.7 423.5 452.4 423.8 452.8 424.1 452.2 424.4 452.3 424.7 450.8 425 452.4 425.3 452.6 425.6 450.6 425.9 453.5 426.2 451.1 426.5 449.8 426.8 452.9 427.1 451.6 427.4 451 427.7 451.1 428 452.4 428.3 451.8 428.6 451.3 428.9 452.4 429.2 450.9 429.5 450.9 429.8 451.2 430.1 451 430.4 452.1 430.7 451.4 431 450.8 431.3 451.2 431.6 450.1 431.9 451.7 432.2 451.6 432.5 452 432.8 451.4 433.1 451.9 433.4 450.9 433.7 451.6 434 451.7 434.3 450.7 434.6 452 434.9 451.7 435.2 451.6 435.5 451.2 435.8 453.1 436.1 451.6 436.4 451 436.7 450.9 437 452 437.3 451.4 437.6 451 437.9 451 438.2 452.3 438.5 451.6 438.8 452.4 439.1 451.6 439.4 450.7 439.7 452.2 440 451.8 440.3 451.1 440.6 451.3 440.9 450.8 441.2 452.2 441.5 451.3 441.8 451.9 442.1 451.8 442.4 451.4 442.7 451.9 443 451.4 443.3 450.7 443.6 451.3 443.9 450.7 444.2 452.1 444.5 452.1 444.8 451.1 445.1 452 445.4 451.8 445.7 452.3 446 450.9 446.3 451.6 446.6 450.8 446.9 451.1 447.2 452.6 447.5 450.1 447.8 450.9 448.1 451.9 448.4 452.2 448.7 451 449 450 449.3 450.3 449.6 451.8 449.9 452.4 450.2 452.2 450.5 451 450.8 452.6 451.1 451.4 451.4 452 451.7 451.4 452 452.8 452.3 451.2 452.6 450 452.9 451.3 453.2 451.7 453.4 451.8 453.5 451 453.8 451.4 453.9 450.7 454.1 451.4 454.4 451.6 454.7 451.7 454.9 452.8 455 450.1 455.3 451.9 455.4 451.9 455.6 450.7 455.9 451.6 456.2 451.5 456.4 450.8 456.5 452.1 456.7 452.9 456.8 452 456.8 452.1 456.8 452.3 456.9 451.4 456.9 452.2 457 450.9 457.1 451.6 457.1 452 457.1 452.4 457.2 451.2 457.3 451.2 457.3 451.7 457.4 451.3 457.4 451.5 457.4 451.9 457.5 450.7 457.6 451.8 457.6 451.3 457.7 450.4 457.7 449.6 457.8 449.2 457.8 448 457.9 445.9 457.9 439.4 458 436.9 458 435.4 458.1 428.5 458.1 425.1 458.2 422.9 458.3 424.8 458.3 426.4 458.3 428.5 458.4 436 458.5 441.9 458.5 445.4 458.6 447.9 458.6 448.4 458.6 448.4 458.7 451.3 458.8 450.9 458.8 452.1 458.9 450.7 458.9 452.1 459 450.8 459 451.8 459.1 452.4 459.1 450.9 459.2 452.1 459.2 451.4 459.3 450.7 459.3 451.6 459.4 452 459.5 450.9 459.5 451.3 459.5 451.1 459.6 450.9 459.6 451.3 459.7 452.1 459.8 451.1 460.1 452.5 460.4 451.3 460.5 451 460.7 452.3 461 452.6 461.3 451.1 461.5 452 461.6 450.7 461.9 451.3 462 451.3 462.2 452.1 462.5 450.6 462.8 451.2 463 451 463.1 451.6 463.4 450.6 463.7 450.6 464 453.7 464.3 451.7 464.6 450.4 464.9 452.2 465.2 450.6 465.5 450.2 465.8 452.8 466.1 452.5 466.4 450.9 466.7 450.8 467 451.9 467.3 453.1 467.6 452 467.9 452.1 468.2 450.7 468.5 450.2 468.8 451.9 469.1 452.3 469.4 451.7 469.7 451.6 470 452.6 470.3 450.9 470.6 452.4 470.9 452.2 471.2 451.1 471.5 451.7 471.8 451.6 472.1 452 472.4 450.8 472.7 451.4 473 451.6 473.3 451.6 473.6 451.6 473.9 451.7 474.2 451.4 474.5 451.2 474.8 452.3 475.1 451.1 475.4 451.3 475.7 450.9 476 450.7 476.3 451.9 476.6 451.5 476.9 451.5 477.2 451.9 477.5 451.4 477.8 452.1 478.1 452.9 478.4 451.8 478.7 451.4 479 452.8 479.3 452.1 479.6 450.3 479.9 452.5 480.2 451.7 480.5 452.2 480.8 450.7 481.1 450.9 481.4 451.1 481.7 452 482 450.7 482.3 451 482.6 452.3 482.9 451.1 483.2 451.6 483.5 450.9 483.8 450.3 484.1 451.5 484.4 451.5 484.7 450.5 485 452.3 485.3 452.2 485.6 452.2 485.9 451.2 486.2 450.7 486.5 451.5 486.8 451.7 487.1 451.4 487.4 451.1 487.7 450.8 488 451 488.3 451.5 488.6 451.2 488.9 452.8 489.2 451.4 489.5 451.9 489.8 451.2 490.1 451.4 490.4 450.8 490.7 451.2 491 450.4 491.3 450 491.6 452.5 491.9 450.8 492.2 451.9 492.5 451.5 492.8 451.1 493.1 452.1 493.4 451.1 493.7 451.9 494 451.3 494.3 452.3 494.6 452.3 494.9 451.6 495.2 452.4 495.5 451.9 495.8 452.7 496.1 451.5 496.4 450.4 496.7 451.7 497 451.7 497.3 451.3 497.6 451.4 497.9 451.3 498.2 450.6 498.5 452.8 498.8 451 499.1 450.8 499.4 450.4 499.7 450.9 500 451.5 500.3 452.6 500.6 452 500.9 451 501.2 450.6 501.5 450.7 501.8 451.5 502.1 452.2 502.4 451.2 502.7 452.7 503 453 503.3 451.7 503.6 450 503.9 452.3 504.2 451.5 504.5 452 504.8 452.3 505.1 450.8 505.4 451.6 505.7 451.7 506 451 506.3 452 506.6 451.4 506.9 451.2 507.2 452.9 507.5 451.7 507.8 452.7 508.1 451.4 508.4 452.3 508.7 451 509 451.6 509.3 452.3 509.6 449.9 509.9 451.9 510.2 451.3 510.5 452.3 510.8 451.7 511.1 451.5 511.4 450.6 511.7 453.7 512 451 512.3 451.3 512.6 451 512.9 451.3 513.2 451.7 513.5 450.5 513.8 452.3 514.1 451.3 514.4 452 514.7 450 515 451.1 515.3 451.3 515.6 451.2 515.9 451 516.2 451.8 516.5 451.8 516.8 450.8 517.1 450.1 517.4 452.1 517.7 451.3 518 452.3 518.3 452.2 518.6 451.4 518.9 450.5 519.2 451.3 519.5 451 519.8 452.4 520.1 450.3 520.4 452.2 520.7 450.4 521 451.1 521.3 450.5 521.6 451 521.9 451.2 522.2 451.8 522.5 451.1 522.8 452 523.1 452.8 523.4 451.6 523.7 450.7 524 451.4 524.3 451.4 524.6 451.2 524.9 452.3 525.2 452.4 525.5 453 525.8 451.9 526.1 449.5 526.4 451.4 526.7 452 527 450.9 527.3 451.1 527.6 452.2 527.8 451.6 527.9 450.7 528.2 451.1 528.3 449.2 528.5 451.5 528.8 450.6 529.1 451.4 529.3 450.6 529.4 450.8 529.7 451.1 529.8 453.5 530 450.6 530.3 450.6 530.6 451.1 530.8 452.2 530.9 452 531.1 451.9 531.2 451.2 531.2 451.5 531.2 450.9 531.3 451.3 531.3 450.8 531.4 450.3 531.5 450.7 531.5 452.8 531.5 451.7 531.6 450.8 531.7 451.3 531.7 451 531.8 452.2 531.8 451.3 531.8 450.8 531.9 451.7 532 451.4 532 450.4 532.1 450 532.1 450.6 532.2 448.5 532.2 447.4 532.3 446 532.3 441.8 532.4 437.6 532.4 435.4 532.5 429.6 532.5 425.2 532.6 423.1 532.7 426.3 532.7 427.7 532.7 431 532.8 435.3 532.9 441.4 532.9 446.5 533 447.5 533 448.3 533 449.3 533.1 449.4 533.2 450.7 533.2 450.6 533.3 452.8 533.3 450.9 533.4 449.7 533.4 452 533.5 452 533.5 451.3 533.6 451.6 533.6 451.9 533.7 451 533.7 451.4 533.8 451.5 533.9 452.6 533.9 452.4 533.9 451.5 534 450.4 534 452.1 534.1 451.4 534.2 452.3 534.5 451.5 534.8 451.6 534.9 451.9 535.1 450.9 535.4 451 535.7 453.1 535.9 450.8 536 452.1 536.3 452 536.4 452.1 536.6 452.5 536.9 450.5 537.2 452.2 537.4 449.9 537.5 451.5 537.8 451.7 538.1 452.2 538.4 452.3 538.7 450.8 539 451.3 539.3 451.3 539.6 450.9 539.9 450.8 540.2 451 540.5 452.3 540.8 452.4 541.1 452 541.4 452.7 541.7 451.5 542 450.6 542.3 450.9 542.6 451.6 542.9 452.2 543.2 452.3 543.5 450.8 543.8 452.1 544.1 451 544.4 451.9 544.7 452.1 545 452.5 545.3 451 545.6 451.6 545.9 451.7 546.2 451.1 546.5 451.5 546.8 451.8 547.1 450.2 547.4 450.9 547.7 453.1 548 451.7 548.3 451 548.6 450 548.9 450.7 549.2 451.7 549.5 451.8 549.8 451.7 550.1 451.8 550.4 450.9 550.7 452.5 551 450.5 551.3 451.7 551.6 451.1 551.9 450 552.1 452 552.2 451.1 552.5 451.8 552.6 452.2 552.8 451.4 553.1 450.8 553.4 451.1 553.6 451.2 553.7 452.3 554 451.8 554.1 452.4 554.3 451.7 554.6 450.6 554.9 451.8 554.9 451.9 555 451 555 451.5 555.1 450.9 555.1 450.2 555.2 451 555.2 451.7 555.3 450.8 555.3 449.4 555.4 450.5 555.5 451.8 555.5 451.2 555.5 451.8 555.6 450.4 555.6 450.6 555.7 450.2 555.8 450.2 555.8 451.1 555.8 450.8 555.9 449.9 556 449.8 556 447.1 556.1 445.3 556.1 443.7 556.1 440.8 556.2 436.1 556.3 431.2 556.3 428.9 556.4 427.1 556.5 428.7 556.5 431.5 556.6 437.5 556.7 441 556.7 444.4 556.7 445.7 556.8 446.9 556.8 449.6 556.9 450.7 557 449.1 557 448.9 557 450.5 557.1 450.7 557.2 451 557.2 450 557.3 451.3 557.3 451 557.3 450.4 557.4 452.1 557.5 451.1 557.5 451.5 557.6 452.3 557.6 450.6 557.7 450.8 557.7 449.7 557.8 450.8 557.8 451.2 557.9 452.8 557.9 451.3 558.2 451.1 558.5 450 558.7 450.2 558.8 449.5 559.1 449.8 559.2 450.9 559.4 451 559.7 450 560 450.5 560.2 450 560.3 451.1 560.6 451 560.7 450.1 560.9 450.1 561.2 449.5 561.5 450 561.8 452 562.1 450.5 562.4 451.4 562.7 451.5 563 452.7 563.3 451.8 563.6 451.8 563.9 453.4 564.2 453.5 564.5 452.3 564.8 453.6 565.1 452.7 565.4 452.6 565.7 453.9 565.9 452.9 566 452.7 566.3 452.2 566.4 452.6 566.6 453.2 566.9 452.7 567.2 451.7 567.4 452.6 567.5 452.2 567.8 452.4 567.9 452.1 568.1 450.6 568.4 450.9 568.7 451.8 568.7 450.5 568.8 451 568.8 453.6 568.9 452.6 568.9 451.7 569 452.3 569 450.4 569.1 452.2 569.1 452.7 569.2 452.1 569.3 451 569.3 452.6 569.3 451.5 569.4 451.5 569.4 452 569.5 451.6 569.6 453.2 569.6 451.5 569.6 453.1 569.7 451.5 569.8 449.4 569.8 448.7 569.9 446 569.9 446.2 569.9 442.8 570 438.4 570.1 430.4 570.1 426 570.2 426.2 570.3 425.6 570.3 431.2 570.4 437.7 570.5 441.1 570.5 444.8 570.5 445.4 570.6 449 570.6 450.6 570.7 451 570.8 452 570.8 451 570.8 451.4 570.9 452.1 571 453.3 571 451.8 571.1 451.9 571.1 452.8 571.1 451.9 571.2 452.8 571.3 452.1 571.3 452.7 571.4 452 571.4 451.2 571.5 451.3 571.5 452.2 571.6 453.3 571.6 453.3 571.7 451.7 571.7 453.7 572 451.1 572.3 451.3 572.5 452.6 572.6 450.8 572.9 452.6 573 452.2 573.2 452.4 573.5 451 573.8 452.2 574 452.6 574.1 451.8 574.4 452.6 574.5 451.9 574.7 452.1 575 451.6 575.3 450.9 575.6 451.7 575.9 452.2 576.2 451.3 576.5 450.4 576.8 450.7 577.1 452.8 577.4 451.7 577.7 451.3 578 452.7 578.3 451.7 578.6 450.7 578.9 451.5 579.2 451.1 579.5 451.7 579.8 451.1 580.1 451.8 580.4 452.1 580.7 451.4 581 451.6 581.3 451.7 581.6 452.4 581.9 451.2 582.2 452.3 582.5 452.7 582.8 451.6 583.1 451 583.4 451.5 583.7 450.4 584 451.4 584.3 450.9 584.6 451.6 584.9 451.5 585.2 452.1 585.5 451.8 585.8 452.1 586.1 451.7 586.4 452 586.7 450.9 587 452.2 587.3 452.7 587.6 452.6 587.9 450.7 588.2 452 588.5 450.5 588.8 452.3 589.1 451.6 589.4 451.4 589.7 451.2 590 451.5 590.3 451.7 590.6 451 590.9 451.8 591.2 451.9 591.5 452.1 591.8 451.7 592.1 451.7 592.4 453.4 592.7 452.4 593 452 593.3 450.7 593.6 452.2 593.9 452.1 594.2 449.7 594.5 451.6 594.8 452 595.1 451.7 595.4 451.8 595.7 451.6 596 452.7 596.3 452 596.6 451.5 596.9 451.5 597.2 453.3 597.5 451 597.8 451.3 598.1 451.9 598.4 451.8 598.7 451.9 599 452.7 599.3 452.5 599.6 452 599.8 451.7 599.9 451.6 600.2 451.5 600.3 452.4 600.5 450.7 600.8 450.9 601.1 451.3 601.3 451 601.4 451.1 601.7 452.6 601.8 450 602 452.1 602.3 450.7 602.6 451.5 602.8 451.2 602.9 450.9 603.1 450.5 603.2 451.7 603.2 449.4 603.2 450 603.3 451.3 603.3 452.4 603.4 453 603.5 451.4 603.5 451 603.5 451.4 603.6 451.9 603.7 452.3 603.7 450.8 603.8 451.9 603.8 451.5 603.8 452.4 603.9 451.2 604 451.3 604 450.6 604.1 450 604.1 451.2 604.2 450.9 604.2 450.1 604.3 447.5 604.3 443.9 604.4 440.5 604.4 439.6 604.5 435.8 604.5 433.3 604.6 431.7 604.7 431.3 604.7 434.7 604.7 436.1 604.8 439.7 604.9 444.3 604.9 447.7 605 448.5 605 448.7 605 450.2 605.1 451.2 605.2 451.1 605.2 452.6 605.3 451.6 605.3 450.7 605.4 452.1 605.4 451.1 605.5 452.1 605.5 451.6 605.6 452.5 605.6 450.8 605.7 452.1 605.7 451.9 605.8 450.9 605.9 452.1 605.9 453.3 605.9 451.9 606 451.1 606 451.5 606.1 452.6 606.2 451.8 606.5 452.7 606.8 451.2 606.9 452.6 607.1 450.5 607.4 451.5 607.7 451.4 607.9 451.3 608 452.6 608.3 451.2 608.4 451.9 608.6 453 608.9 452.3 609.2 451.4 609.4 451.1 609.5 450.2 609.8 452 610.1 452.3 610.4 452.5 610.7 451.8 611 453.3 611.3 452.2 611.6 449.9 611.9 451 612.2 452.3 612.5 451.4 612.8 452.3 613.1 453.6 613.4 451.1 613.7 453.3 614 451.6 614.3 450.6 614.6 451.7 614.9 452.3 615.2 451.2 615.5 452.8 615.8 451 616.1 451.5 616.4 452.4 616.7 451.5 617 451.2 617.3 451.6 617.6 452.2 617.9 452.9 618.2 452.7 618.5 453 618.8 451.6 619.1 450.4 619.4 451.6 619.7 451.3 620 450.9 620.3 451.3 620.6 451.6 620.9 451.7 621.2 452.3 621.5 451 621.8 452.5 622.1 451.7 622.4 452.2 622.7 452.6 623 450.7 623.3 452.8 623.6 451.1 623.9 451.9 624.2 452.5 624.5 452.3 624.8 450.5 625.1 451.8 625.4 452.5 625.7 451.6 626 451.6 626.3 451.7 626.6 452.9 626.9 451.2 627.2 450.9 627.5 450.8 627.8 451.3 628.1 451.5 628.4 451.9 628.7 451.6 629 450.4 629.3 450.5 629.6 452.2 629.9 452.2 630.2 450.6 630.5 452.3 630.8 449.8 631.1 453.4 631.4 452.1 631.7 450.4 632 452 632.3 451.6 632.6 451.3 632.9 451.4 633.2 451.5 633.5 451.6 633.8 451 634.1 451.2 634.4 452.1 634.7 452 635 450.6 635.3 451.3 635.6 452.8 635.9 452.2 636.2 452.9 636.5 450.6 636.8 450.9 637.1 450 637.4 450.2 637.7 451.4 638 450.9 638.3 450.8 638.6 451.1 638.9 451.5 639.2 452.3 639.5 452.1 639.8 450.3 640.1 452.8 640.4 451.4 640.7 450.9 641 451.6 641.3 451.3 641.6 450.6 641.9 452.8 642.2 451.2 642.5 451.2 642.8 452 643.1 452.9 643.4 452 643.7 451 644 452 644.3 452.5 644.6 451.9 644.9 452.1 645.2 451.3 645.5 451.6 645.8 450.4 646.1 451.1 646.4 450.8 646.7 451.6 647 452.8 647.3 450 647.6 450.6 647.9 450.9 648.2 451.6 648.5 452.5 648.8 451.1 649.1 451 649.4 452.6 649.7 451.9 650 452 650.3 452.3 650.6 451.1 650.9 451.8 651.2 451.1 651.5 451.1 651.8 451.7 652.1 452 652.4 450.7 652.7 451.1 653 452.1 653.3 451.8 653.6 452.1 653.9 451.4 654.2 451 654.5 452.2 654.8 452.1 655.1 449.5 655.4 452.3 655.7 451.1 656 452.1 656.3 452.8 656.6 451.4 656.9 450.9 657.2 451.8 657.5 451.7 657.8 452.1 658.1 450.6 658.4 451.8 658.7 452.3 659 452.2 659.3 452.1 659.6 452.5 659.9 451 660.2 452.6 660.5 451.8 660.8 450.9 661.1 451.4 661.4 451.8 661.7 451.9 662 452.6 662.3 451.8 662.6 451.2 662.9 453.3 663.2 451.4 663.5 451 663.8 452.3 664.1 451.3 664.4 451 664.7 450.8 665 452.5 665.3 450.8 665.6 451.7 665.9 451.3 666.2 451.5 666.5 451 666.8 451.7 667.1 452.1 667.4 452.4 667.7 451.4 668 450.8 668.3 450.5 668.6 451.6 668.9 449.8 669.2 452.6 669.5 451.7 669.8 451.7 670.1 450.6 670.4 451.1 670.7 451.1 671 452.1 671.3 451.3 671.6 452.1 671.9 452 672.2 450.2 672.5 451.5 672.8 452.6 673.1 451.2 673.4 451.7 673.7 451.5 674 450.7 674.3 453.3 674.6 451.5 674.9 452.1 675.2 451.3 675.5 452.7 675.8 452.5 676.1 452.5 676.4 452.3 676.7 452.2 677 452.7 677.3 451.9 677.6 451.7 677.9 452.2 678.2 451 678.5 449.7 678.8 452.2 679.1 451.7 679.4 451.1 679.7 451.4 680 450.9 680.3 451 680.6 451.8 680.9 451.7 681.2 452.3 681.5 451.6 681.8 452.1 682.1 452.1 682.4 451.1 682.7 450.4 683 451.1 683.3 451.4 683.6 451.2 683.9 453.3"/>
<path stroke="#000000" d="M2 509.3 2.3 510.1 2.6 509.2 2.9 510.3 3.2 508.8 3.5 510.5 3.8 509.9 4.1 509.5 4.4 508.9 4.7 511 5 509.4 5.3 510.9 5.6 508 5.9 508.9 6.2 511.2 6.5 511.1 6.8 509.8 7.1 510.5 7.4 510.2 7.7 509.5 8 509.9 8.3 508.9 8.6 508.8 8.9 509.9 9.2 510.3 9.5 509.9 9.8 508.9 10.1 510.4 10.4 509.9 10.7 510.4 11 509.6 11.3 509.6 11.6 510.6 11.9 510.8 12.2 508.9 12.5 509 12.8 510.5 13.1 510.1 13.4 509.8 13.7 509 14 510.6 14.3 509.9 14.6 510 14.9 510.1 15.2 509.4 15.5 510.1 15.8 509.9 16.1 510.3 16.4 510.1 16.7 508.8 17 509.3 17.3 509.6 17.6 510.7 17.9 509.3 18.2 510.6 18.5 510.6 18.8 510.5 19.1 511.5 19.4 509.8 19.7 510 20 510.7 20.3 510.1 20.6 510.5 20.9 509.7 21.2 510.9 21.5 510.1 21.8 508.4 22.1 510.6 22.4 509.7 22.7 509.1 23 509.6 23.3 509.6 23.6 510.7 23.9 510 24.2 509.7 24.5 509.8 24.8 509.1 25.1 509.3 25.4 509.4 25.7 509.6 26 508.9 26.3 509.5 26.6 510.5 26.9 510.1 27.2 509.8 27.5 510 27.8 509.6 28.1 508.9 28.4 510.5 28.7 511.5 29 510.2 29.3 510.3 29.6 511.6 29.9 508.9 30.2 510.2 30.5 509.5 30.8 509.6 31.1 508.5 31.4 509.7 31.7 510.1 32 508.6 32.3 509.6 32.6 509.4 32.9 509 33.2 510.3 33.5 511 33.8 510.1 34.1 510.6 34.4 510.4 34.7 509.7 35 510.2 35.3 510.8 35.6 509.5 35.9 509.7 36.2 508.8 36.5 508.4 36.8 509.2 37.1 510.5 37.4 510.1 37.7 510 38 510.8 38.3 508.5 38.6 510.8 38.9 509.8 39.2 510.4 39.5 510.8 39.8 509.2 40.1 509.1 40.4 510.1 40.7 509.7 41 509.4 41.3 509.7 41.6 509.3 41.9 509.9 42.2 509.5 42.5 511.1 42.8 509 43.1 510.2 43.4 509.9 43.7 511 44 509.1 44.3 509.4 44.6 511.1 44.9 509.3 45.2 509.5 45.5 509.5 45.8 509.1 46.1 510.7 46.4 510.9 46.7 509.7 47 509.2 47.3 508.8 47.6 510.3 47.9 509.4 48.2 510.2 48.5 508 48.8 509.5 49.1 510.3 49.4 510.1 49.7 507.6 50 510 50.3 509.9 50.6 509.8 50.9 509.5 51.2 509.5 51.5 509.9 51.8 510.2 52.1 507.4 52.4 509.8 52.7 510.5 53 509.6 53.3 510.7 53.6 509.1 53.9 511.2 54.2 510.5 54.5 509.5 54.8 511.8 55.1 510.9 55.4 511 55.7 508.9 56 509.7 56.3 510.1 56.6 510.6 56.9 509.8 57.2 508.8 57.5 510.7 57.8 509.7 58.1 510.1 58.4 509.6 58.7 509.7 59 508.8 59.3 510.3 59.6 509.3 59.9 508.4 60.2 510.1 60.5 509.8 60.8 510.5 61.1 510.4 61.4 508.9 61.7 509.7 62 509.8 62.3 509.9 62.6 509 62.9 509.8 63.2 510.5 63.5 510.7 63.8 510.9 64.1 510.4 64.4 507.9 64.7 509.6 65 509.4 65.3 507.6 65.6 510.9 65.9 510.5 66.2 509.8 66.5 510.1 66.7 510.2 66.8 509.6 67.1 510.8 67.2 511.2 67.4 510.4 67.7 509.4 68 510 68.2 510.5 68.3 510.3 68.6 509.3 68.7 510.5 68.9 510.3 69.2 510.2 69.5 509.5 69.5 509.8 69.6 508.3 69.6 509.7 69.7 509.4 69.7 509.5 69.8 509.5 69.8 509.5 69.9 509.8 69.9 509.8 70 509.3 70.1 509.6 70.1 509.7 70.1 510.1 70.2 510.1 70.2 509.5 70.3 509.1 70.4 508.5 70.4 508.7 70.4 509.9 70.5 508.8 70.6 510.4 70.6 508.5 70.7 507.4 70.7 507.3 70.7 505.9 70.8 504 70.9 502.6 70.9 499.8 71 500.4 71.1 500.9 71.1 501.8 71.2 505.2 71.3 506.5 71.3 508.2 71.3 507.2 71.4 507.7 71.4 508.3 71.5 508.3 71.6 508.2 71.6 510.8 71.6 509.3 71.7 509.8 71.8 509.3 71.8 509.6 71.9 510.9 71.9 508.4 71.9 509 72 509.8 72.1 509.1 72.1 510.3 72.2 510.7 72.2 510.4 72.3 510.3 72.3 509.6 72.4 510.5 72.4 509.2 72.5 508.9 72.5 509.6 72.8 509.6 73.1 510.7 73.3 509.1 73.4 510.6 73.7 509.2 73.8 508.8 74 508.5 74.3 509.8 74.6 508.7 74.8 509.9 74.9 509.8 75.2 509.5 75.3 508.4 75.5 509.4 75.8 510.1 76.1 508.4 76.4 510.3 76.7 509.8 77 509.4 77.3 509.9 77.6 510.3 77.9 509.8 78.2 509.2 78.5 510.4 78.8 509.3 79.1 510.1 79.4 510.5 79.7 510.8 80 511 80.3 510.6 80.6 509.9 80.9 509.6 81.2 509.9 81.5 510.2 81.8 512 82.1 510.3 82.4 509.2 82.7 510.9 83 508.6 83.3 510.5 83.6 508.8 83.9 509 84.2 509.4 84.5 509.6 84.8 508.8 85.1 510.3 85.4 509.7 85.7 510.8 86 509 86.3 508.4 86.6 510.3 86.9 509.6 87.2 510.5 87.5 508 87.8 508.9 88.1 509.9 88.4 511.2 88.7 508.9 89 508.4 89.3 509.4 89.6 510.8 89.9 511 90.2 508.8 90.5 509.3 90.8 508.4 91.1 509.2 91.4 509.1 91.7 510.1 92 510.6 92.3 511.6 92.6 509.5 92.9 510.4 93.2 510 93.5 509.9 93.8 511.2 94.1 510.3 94.4 510.9 94.7 510 95 510.4 95.3 510.2 95.6 509.7 95.9 509.3 96.2 509.5 96.5 509.8 96.8 509.5 97.1 509.5 97.4 509.3 97.7 510.4 98 509.6 98.3 509.7 98.6 509.6 98.9 510.8 99.2 509.4 99.5 510.8 99.8 509.1 100.1 510.9 100.4 510.2 100.7 509.4 101 510.1 101.3 510.6 101.6 509.1 101.9 509.6 102.2 510 102.4 509.6 102.5 509.6 102.8 509.8 102.9 510 103.1 510.4 103.4 510.9 103.7 509.5 103.9 512 104 509.5 104.3 511.1 104.4 509.7 104.6 508.7 104.9 509.4 105.2 509.5 105.2 510.6 105.3 508.3 105.3 509.3 105.4 509.7 105.4 510.2 105.5 510 105.5 510.4 105.6 509.6 105.6 509.6 105.7 510.6 105.8 511 105.8 510 105.8 509.8 105.9 509.1 105.9 511.3 106 510 106.1 510.1 106.1 508.4 106.1 510 106.2 511.2 106.3 509 106.3 508.3 106.4 508.5 106.4 506.9 106.4 506.4 106.5 505.1 106.6 500.5 106.6 498.9 106.7 499.3 106.8 499.6 106.8 501.4 106.9 503.5 107 505.8 107 507.3 107 507 107.1 508.2 107.1 509.3 107.2 508.6 107.3 509.9 107.3 508 107.3 510.1 107.4 509.6 107.5 508.8 107.5 510.7 107.6 508.8 107.6 511.3 107.6 509.2 107.7 510.6 107.8 509.7 107.8 510.9 107.9 509.6 107.9 510.5 108 509.5 108 508.4 108.1 510.1 108.1 510.1 108.2 510.1 108.2 511 108.5 509.2 108.8 508.7 109 510 109.1 509.3 109.4 509.7 109.5 509.8 109.7 509.2 110 510.6 110.3 509.7 110.5 511.1 110.6 510 110.9 510.6 111 509.6 111.2 509.3 111.5 509.4 111.8 509.1 112.1 510.1 112.4 509.9 112.7 509 113 508.6 113.3 509.1 113.6 508.4 113.9 509.1 114.2 508.7 114.5 510.3 114.8 508.9 115.1 509.3 115.4 509.7 115.7 509.8 116 510.1 116.3 510.4 116.6 510.3 116.9 509.5 117.2 510.7 117.5 510.1 117.8 509.3 118.1 510.9 118.4 508.9 118.7 510.1 119 510.7 119.3 509.9 119.6 510 119.9 509.9 120.2 510.3 120.5 510 120.8 509.8 121.1 510.3 121.4 508.4 121.7 510 122 509.6 122.3 511.2 122.6 510 122.9 509.3 123.2 510.3 123.5 509.5 123.8 508.9 124.1 509.6 124.4 510.2 124.7 510.7 125 510.6 125.3 510 125.6 509.7 125.9 509.9 126.2 510.7 126.5 509.7 126.8 510.6 127.1 509.2 127.4 509.8 127.7 510.4 128 510.3 128.3 509.9 128.6 509.4 128.9 508.5 129.2 509.5 129.5 509.2 129.8 509.5 130.1 511 130.4 509.2 130.7 510.4 131 509.8 131.3 509 131.6 509.9 131.9 510.3 132.2 508.9 132.5 508.9 132.8 509.5 133.1 510.3 133.3 509.3 133.4 510.1 133.7 510.1 133.8 509.8 134 510.1 134.3 510.7 134.6 509.6 134.8 510 134.9 509 135.2 509.2 135.3 509.7 135.5 510.4 135.8 509.3 136.1 508.7 136.3 510.5 136.4 511.5 136.6 507.8 136.7 509 136.7 509.8 136.7 510.1 136.8 509 136.8 510 136.9 510.6 137 509.5 137 510.3 137 509.8 137.1 509 137.2 509.3 137.2 509.3 137.3 510.7 137.3 510.5 137.3 509.9 137.4 508.5 137.5 509.3 137.5 509.2 137.6 507.9 137.6 509.3 137.7 509.2 137.7 507.2 137.8 506.6 137.8 504.6 137.9 504.3 137.9 503 138 500.4 138 497.7 138.1 495.8 138.2 498.3 138.2 498.3 138.2 498.4 138.3 503 138.4 504.7 138.4 506.9 138.5 508.6 138.5 508.4 138.5 509.3 138.6 510.3 138.7 509.3 138.7 509.4 138.8 509.7 138.8 510.1 138.9 509.4 138.9 509.8 139 509.2 139 509.7 139.1 510.1 139.1 509.1 139.2 509.6 139.2 508.7 139.3 509.2 139.4 509.8 139.4 510.1 139.4 509 139.5 509.7 139.5 509.1 139.6 510 139.7 510 140 510.1 140.3 509.6 140.4 508.7 140.6 509.4 140.9 508.8 141.2 509.3 141.4 509.7 141.5 510.6 141.8 509.3 141.9 509.2 142.1 509.9 142.4 508.3 142.7 511.3 142.9 508.7 143 510.5 143.3 510.5 143.6 510.5 143.9 509.7 144.2 510.3 144.5 509.5 144.8 510.5 145.1 509.3 145.4 509.2 145.7 510.1 146 509.4 146.3 510.3 146.6 509.1 146.9 510 147.2 509.1 147.5 509.7 147.8 511.4 148.1 509 148.4 508.9 148.7 508.6 149 509.6 149.3 511 149.6 509.4 149.9 510.5 150.2 509.6 150.5 509.3 150.8 511.3 151.1 510.6 151.4 508.4 151.7 509.1 152 510.1 152.3 510.3 152.6 509.6 152.9 510 153.2 510.2 153.5 509.5 153.8 510.5 154.1 509.2 154.4 510.3 154.7 510.5 155 509.9 155.3 509.5 155.6 509.8 155.9 508.2 156.2 510 156.5 508.7 156.8 508.3 157.1 510.3 157.4 509.1 157.7 510 158 509.8 158.3 508.5 158.6 509.1 158.9 509.6 159.2 510.1 159.5 509.8 159.8 508.8 160.1 509.4 160.4 509.9 160.7 508.9 160.9 509.5 161 509.4 161.3 508.2 161.4 511 161.6 510.4 161.9 509.4 162.2 510.5 162.4 509 162.5 510.9 162.8 509.5 162.9 509.9 163.1 509.4 163.4 509.8 163.7 510 163.7 509.8 163.8 509.2 163.8 510.3 163.9 510.2 163.9 509.8 164 510.5 164 509.2 164.1 510.7 164.1 509.6 164.2 510.8 164.3 509.4 164.3 509.5 164.3 509.9 164.4 510.5 164.4 510.8 164.5 509.4 164.6 509.1 164.6 510.2 164.6 510.5 164.7 510 164.8 508.9 164.8 509.5 164.9 507.6 164.9 507.4 164.9 506.5 165 503.8 165.1 500.4 165.1 500.6 165.2 500.3 165.3 500.8 165.3 502.5 165.4 504.3 165.5 506.9 165.5 507.3 165.5 508.7 165.6 508.6 165.6 509.7 165.7 509 165.8 509.8 165.8 509.9 165.8 509.8 165.9 510.8 166 509.7 166 510.5 166.1 510 166.1 510.5 166.1 509.1 166.2 509.5 166.3 510.5 166.3 509.2 166.4 510 166.4 510.2 166.5 509.9 166.5 510.1 166.6 510.2 166.6 509.6 166.7 510.1 166.7 509.4 167 509.4 167.3 508.6 167.5 509.7 167.6 508.5 167.9 509.8 168 509.9 168.2 509 168.5 509.8 168.8 510 169 509.5 169.1 509.1 169.4 509.7 169.5 510.1 169.7 510.4 170 511.2 170.3 508.3 170.6 510 170.9 510.1 171 509.3 171.2 510 171.5 511.3 171.8 509.9 172 510.8 172.1 510.5 172.4 509.4 172.5 508.1 172.7 510.6 173 510.9 173.3 508.5 173.5 509.6 173.6 509.3 173.9 509.9 174 509.8 174.2 510.6 174.3 509.3 174.4 511.2 174.4 508.5 174.5 509.9 174.5 511.7 174.5 509.7 174.6 510.2 174.7 509.4 174.7 512.2 174.8 510.4 174.8 509.5 174.9 508.3 174.9 509.9 175 510.2 175 508.2 175.1 509.3 175.1 510.1 175.2 507.9 175.2 509.4 175.3 508.3 175.4 508.1 175.4 509 175.4 509.3 175.5 508.2 175.5 505.2 175.6 504 175.7 500 175.7 499.4 175.7 499.9 175.8 498.5 175.9 498.8 175.9 500 176 503.4 176 505.6 176.1 504.2 176.1 506.6 176.2 509.3 176.2 507.7 176.3 508.9 176.3 509.5 176.4 510.4 176.4 509.6 176.5 511 176.6 509.7 176.6 509.6 176.6 510 176.7 510 176.7 508.6 176.8 509 176.9 509.6 176.9 510 176.9 508.8 177 509.2 177.1 509.2 177.1 510 177.2 509.4 177.2 510.2 177.2 510 177.3 509.1 177.5 509.5 177.7 508.8 177.8 509.8 178.1 510.4 178.2 509 178.4 508.5 178.6 510.1 178.7 509.6 179 509.7 179.1 510.1 179.2 510 179.3 510.5 179.6 509.4 179.7 508.1 179.9 509.4 180.1 509.5 180.2 509.5 180.5 510 180.6 509.6 180.7 510.7 180.8 509.3 181 509.7 181.1 509.5 181.1 511.3 181.1 509 181.2 509 181.2 509.4 181.3 510.3 181.4 509.7 181.4 509.6 181.4 508.6 181.5 508.1 181.6 509.5 181.6 509.5 181.7 510.9 181.7 509.9 181.7 509.9 181.8 510.3 181.9 508.9 181.9 508.5 182 508.8 182 510.2 182.1 509.3 182.1 507 182.2 504.5 182.2 503.2 182.3 500.3 182.3 498 182.4 495.9 182.4 490.9 182.5 490.7 182.6 491.3 182.6 493 182.6 494.3 182.7 499.3 182.8 503 182.8 506 182.9 507.2 182.9 507.3 182.9 510.1 183 510.4 183.1 509.2 183.1 508.7 183.2 510.7 183.2 509.7 183.3 509.7 183.3 510.3 183.4 509.9 183.4 509.8 183.5 511.2 183.5 508.3 183.6 510.2 183.6 509 183.7 509.8 183.8 509.6 183.8 509.9 183.8 508 183.9 510.2 183.9 511.4 184 509.4 184.1 510.4 184.4 510.2 184.7 510 184.8 509.4 185 510.2 185.3 510 185.6 510.8 185.8 510.4 185.9 509.2 186.2 507.6 186.3 510.9 186.5 510.1 186.8 509.9 187.1 509.3 187.3 511.6 187.4 510.8 187.7 509.8 188 509.5 188.3 510.2 188.6 510.8 188.9 510.2 189.2 510.5 189.5 510 189.8 510 190.1 508.8 190.4 509.9 190.7 509.8 191 509.7 191.3 509.6 191.6 510 191.9 509.3 192.2 509.6 192.5 508.8 192.8 511.5 193.1 509.1 193.4 508.9 193.7 509.4 194 509.5 194.3 509 194.6 507.9 194.9 511 195.2 510.5 195.5 509.5 195.8 510.2 196.1 508.9 196.4 508.6 196.7 510 197 510.2 197.3 509.3 197.6 509.8 197.9 507.5 198.1 509.7 198.2 510.5 198.5 509.9 198.6 509.9 198.8 510.2 199.1 508.2 199.4 508.8 199.6 508.8 199.7 509.9 200 509.3 200.1 508.3 200.3 510.4 200.6 509.6 200.9 510.4 201.1 511.2 201.2 508.5 201.4 508.7 201.5 510.4 201.5 510.7 201.5 509.9 201.6 509.9 201.6 510.1 201.7 510.1 201.8 508.6 201.8 510.1 201.8 510.3 201.9 509.2 202 508.8 202 509.1 202.1 508.9 202.1 509.7 202.1 509.9 202.2 509.2 202.3 508.8 202.3 507.3 202.4 507.5 202.4 507 202.5 505.7 202.5 503 202.6 497.1 202.6 490.9 202.7 478.6 202.7 476.8 202.8 464.5 202.8 455.5 202.9 451.6 203 456.4 203 459.4 203 466 203.1 477.7 203.2 487.9 203.2 496.5 203.3 502.9 203.3 504.5 203.3 506 203.4 507.7 203.5 508.6 203.5 508.2 203.6 509.4 203.6 509.6 203.7 509.3 203.7 508.5 203.8 509.4 203.8 509.4 203.9 509.7 203.9 509.2 204 510.1 204 510.4 204.1 510.2 204.2 509.8 204.2 510.5 204.2 509.6 204.3 509.5 204.3 508.6 204.4 509.7 204.4 510.5 204.5 508.9 204.8 510.3 204.9 508.8 205.1 509.9 205.2 511.1 205.4 509.7 205.7 508.9 205.9 509.9 206 509.6 206.1 510.3 206.2 509.3 206.3 508.4 206.4 509.4 206.6 510.2 206.7 510.5 206.9 509.9 207.1 509.7 207.2 510.2 207.4 509.6 207.5 509.4 207.6 509.9 207.7 510.5 207.7 509.3 207.8 510 207.8 509.2 207.8 509.1 207.9 509.8 207.9 508.7 208 509 208.1 508.7 208.1 509.2 208.1 508.9 208.2 511.3 208.3 510 208.3 509.6 208.4 508.5 208.4 507.8 208.4 509.8 208.5 509 208.6 510.1 208.6 509 208.6 508.2 208.7 508.3 208.7 507.6 208.8 506.9 208.8 506.8 208.9 503.1 208.9 499.9 209 494.6 209 493.8 209.1 487.8 209.1 485.7 209.1 483.1 209.2 482.8 209.3 483.5 209.3 484.6 209.3 489.5 209.4 494.8 209.4 494.8 209.5 499.1 209.5 499.2 209.5 503 209.5 503.5 209.6 506.5 209.6 506.2 209.6 506.3 209.6 507.1 209.6 509.1 209.7 509.9 209.7 507.7 209.8 508.5 209.8 509 209.8 509.6 209.8 509.1 209.9 509.4 209.9 509.5 209.9 510.1 210 508.3 210 510.1 210 509.6 210 509.6 210.1 508.1 210.1 509.1 210.1 509 210.1 509.6 210.2 509.6 210.2 509.6 210.2 508.1 210.3 509.8 210.3 509 210.3 509.3 210.3 508.5 210.4 507.3 210.4 509.7 210.5 506.6 210.5 506.6 210.5 503.9 210.5 502.7 210.5 503.6 210.6 497.7 210.6 498.5 210.6 489.9 210.6 488.1 210.7 477.1 210.7 479 210.8 467.3 210.8 462.3 210.8 457.2 210.9 453.3 211 458.8 211 466.7 211.1 477.3 211.1 481 211.2 489 211.2 497.6 211.3 502.6 211.3 506.2 211.4 506.4 211.4 508.2 211.5 508.1 211.5 508.6 211.5 509.2 211.6 510.1 211.7 507.7 211.7 509.3 211.7 509.8 211.8 510.2 211.8 508.8 211.9 509.7 212 509.8 212 510.2 212 509.1 212.1 509.4 212.2 509.2 212.2 510.4 212.3 510.4 212.3 509.3 212.3 509.5 212.4 509.8 212.5 509 212.6 509.6 212.9 510.3 213 510.3 213.2 509.2 213.5 509.3 213.7 509.6 213.8 508.7 214 510 214.1 509.8 214.2 508.7 214.4 509.6 214.7 509.2 215 509.6 215.2 509.1 215.3 510.7 215.6 509 215.7 510.3 215.9 509.9 216.2 510.8 216.5 509.7 216.8 509.8 217.1 509.8 217.4 508.4 217.7 511.6 218 509.6 218.3 509.5 218.6 509 218.9 509.7 219.2 510.9 219.5 509.2 219.8 510.1 220.1 510.5 220.4 510.5 220.7 509.5 221 508.5 221.3 510.1 221.6 510.2 221.9 509.5 222.2 509.5 222.5 511.1 222.8 508.6 223.1 509.4 223.4 509.3 223.7 508.6 224 509.3 224.3 509.2 224.6 510.7 224.9 508.5 225.2 508.8 225.5 510 225.8 508.7 226.1 508.3 226.4 509.3 226.7 508.9 227 509.1 227.3 509.6 227.5 510.1 227.6 509.3 227.9 509.6 228 510.3 228.2 509.7 228.5 510.3 228.8 509.4 229 510.1 229.1 510.7 229.4 508.7 229.5 511.9 229.7 509.5 230 509.5 230.3 509.6 230.5 510.1 230.6 508.8 230.8 509.8 230.9 509.3 230.9 510.8 230.9 508.4 231 510.2 231 509.5 231.1 509.2 231.2 509.8 231.2 509.5 231.2 509.7 231.3 509.9 231.4 510.6 231.4 509.4 231.5 510.9 231.5 507.7 231.5 511 231.6 510.5 231.7 510.7 231.7 509.5 231.8 509.3 231.8 508.4 231.9 509.5 231.9 506.6 232 504.8 232 502.5 232.1 499.6 232.1 499 232.2 493.9 232.2 491.3 232.3 490.5 232.4 492.3 232.4 493.8 232.4 495.1 232.5 498.6 232.6 502.2 232.6 505.1 232.7 507.3 232.7 508.3 232.7 508.2 232.8 510.6 232.9 508.7 232.9 510.1 233 509.4 233 509.5 233.1 509.4 233.1 510.8 233.2 509.5 233.2 510.1 233.3 509.8 233.3 510.2 233.4 510.1 233.4 510.9 233.5 509.2 233.6 509.1 233.6 510.9 233.6 510.7 233.7 509.8 233.7 509.5 233.8 509.9 233.9 510.7 234.2 509.2 234.5 510.8 234.6 509.7 234.8 509.5 235.1 509.5 235.4 508.2 235.6 510 235.7 508.8 236 509.4 236.1 509.1 236.3 509.9 236.6 510.3 236.9 509.8 237.1 509.9 237.2 510.1 237.5 511 237.8 510.2 238.1 510.9 238.4 509.7 238.7 510 239 509.3 239.3 510.2 239.6 509.2 239.9 510.1 240.2 509.3 240.5 509.5 240.8 510.6 241.1 509.9 241.4 510.3 241.7 509.6 242 508.5 242.3 510.9 242.6 509.7 242.9 509.3 243.2 510.5 243.5 508.9 243.8 509.3 244.1 510.6 244.4 509.3 244.7 510.6 245 509.6 245.3 509.6 245.6 509.8 245.9 509.4 246.2 510.5 246.5 510.6 246.8 509.8 247.1 510.2 247.4 510.2 247.7 511 248 508.7 248.3 510.5 248.6 510.4 248.9 509.5 249.2 509.8 249.5 509.5 249.8 510.7 250.1 508.9 250.4 510.2 250.7 510.7 251 510.2 251.3 509.4 251.6 509.5 251.9 508.2 252.2 509.1 252.5 510.6 252.8 509.1 253.1 508.5 253.4 509.6 253.7 508.6 254 510.1 254.3 509.1 254.6 510.5 254.9 509.7 255.2 508.8 255.5 509.2 255.8 509.3 256.1 509.1 256.4 510.7 256.7 509 257 510 257.3 509.3 257.6 510.2 257.9 508.7 258.2 508.7 258.5 510.1 258.8 510.8 259.1 508.7 259.4 509.6 259.7 509.4 260 509.1 260.3 510.5 260.6 509.8 260.9 508.7 261.2 509.6 261.4 510.8 261.5 509.3 261.8 509.4 261.9 509.2 262.1 509.9 262.4 509.4 262.7 510.4 262.9 509.2 263 508.7 263.3 510.1 263.4 507.4 263.6 509.1 263.9 510 264.2 510 264.4 509.3 264.5 509.5 264.7 510.1 264.8 512.4 264.8 509.1 264.8 509.6 264.9 509.4 264.9 510.2 265 509.7 265.1 510.1 265.1 511 265.1 509.6 265.2 509.5 265.3 510 265.3 511.3 265.4 509.5 265.4 511 265.4 510.6 265.5 507.6 265.6 509 265.6 508.9 265.7 509.8 265.7 510.5 265.8 509.3 265.8 508.9 265.9 509.6 265.9 507.1 266 507.1 266 504.6 266.1 504.8 266.1 501.9 266.2 500.1 266.3 501.7 266.3 502.7 266.3 503.6 266.4 505.8 266.5 507.3 266.5 508.4 266.6 508.2 266.6 510.3 266.6 510.1 266.7 509.5 266.8 509.2 266.8 509.6 266.9 509.5 266.9 509.2 267 509.7 267 509.3 267.1 510.2 267.1 509.3 267.2 510.1 267.2 510 267.3 509.9 267.3 510.1 267.4 509 267.5 511.6 267.5 509.2 267.5 510.3 267.6 509.8 267.6 509.5 267.7 511 267.8 510.5 268.1 509.5 268.4 510.2 268.5 510.3 268.7 510.9 269 510.5 269.3 509.7 269.4 509.6 269.5 509 269.6 510 269.9 510.4 270 509.5 270.2 510.2 270.4 509.9 270.5 509.4 270.8 508.8 270.9 510.6 271 511.6 271.1 510.2 271.4 508.9 271.7 509 271.9 509.9 272 510.2 272.3 510.9 272.4 508 272.6 511.1 272.7 509.8 272.8 509.8 272.8 510 272.9 509.4 272.9 509.5 272.9 510.5 273 508.5 273.1 509.6 273.1 510.1 273.2 508.4 273.2 509.5 273.3 510.8 273.3 509.9 273.4 510.1 273.4 510 273.5 509.6 273.5 509.7 273.6 508.8 273.6 509 273.7 510.1 273.8 507 273.8 506.7 273.8 505.2 273.9 502.7 273.9 498.1 274 492 274.1 487 274.1 483.8 274.1 482.2 274.2 481.1 274.3 480 274.3 486.7 274.4 491.5 274.4 493.9 274.5 499 274.5 503.3 274.6 507 274.6 508 274.7 507.5 274.7 509.9 274.8 508.5 274.8 509.3 274.9 509.7 275 508.9 275 509.6 275 510.7 275.1 508.4 275.1 508.4 275.2 509.3 275.3 509.5 275.3 508.8 275.3 507.9 275.4 510.3 275.5 510 275.5 508.8 275.6 510.1 275.6 509.7 275.6 509.8 275.7 508.8 275.9 509.6 276.2 510.1 276.5 508.4 276.8 509 277 510.5 277.1 511.2 277.2 510.2 277.4 509.7 277.5 508.9 277.7 509.5 278 509.6 278.2 510.1 278.3 509.6 278.5 511.5 278.6 510.7 278.7 508.2 278.9 508.9 279 509.8 279.2 510.5 279.5 510 279.7 507.7 279.8 508.6 280.1 510.7 280.2 510.2 280.4 511.6 280.5 510.3 280.6 510.1 280.6 510.8 280.7 509.4 280.7 509.3 280.7 508.9 280.8 509.9 280.9 510 280.9 510.3 281 510.7 281 510.1 281.1 510.6 281.1 509.5 281.2 508.9 281.2 510.1 281.3 510.3 281.3 510.5 281.4 509.3 281.4 509 281.5 508.7 281.6 508.5 281.6 507.3 281.6 506.7 281.7 504.5 281.7 500.5 281.8 496.2 281.9 490.5 281.9 487.9 281.9 486.6 282 486.6 282.1 486.2 282.1 491.6 282.2 496.9 282.2 496.4 282.3 500.9 282.3 502.6 282.4 507.2 282.4 509.4 282.5 509 282.5 507.4 282.6 508.9 282.6 508.9 282.7 509.6 282.8 509.8 282.8 509.3 282.8 509.4 282.9 509 282.9 510.1 283 509.8 283.1 509.9 283.1 509.3 283.1 510.1 283.2 509.5 283.3 509.9 283.3 509.6 283.4 509.2 283.4 508.9 283.4 508.3 283.5 508.7 283.7 510.1 284 512.1 284.3 508.5 284.6 509.2 284.8 509.7 284.9 512.3 285.2 509.6 285.3 508.9 285.5 510.1 285.8 511.3 286.1 507.7 286.3 508.9 286.4 510.7 286.7 508.9 286.8 509.7 287 509.3 287.3 510.3 287.6 508.7 287.9 510 288.2 509.9 288.5 510.2 288.8 510.1 289.1 509.9 289.4 508.5 289.7 509.5 290 509.1 290.3 510.2 290.6 509.6 290.9 509.9 291.2 510.6 291.5 509.7 291.8 511 292.1 510.4 292.4 508.7 292.7 509.3 293 510.7 293.3 509.4 293.6 510.6 293.9 509.3 294.2 509.7 294.5 510.5 294.8 508.6 295.1 509.8 295.4 509.4 295.7 509.9 296 511 296.3 510.1 296.6 508.8 296.9 510.5 297.2 509.4 297.5 509.9 297.8 510.6 298.1 509.5 298.4 510.5 298.7 509.9 299 509.1 299.3 509.5 299.6 508.8 299.9 510.7 300.2 509.9 300.5 510.5 300.8 509 301.1 510.4 301.4 508.9 301.7 510 302 509.8 302.3 509.3 302.6 510 302.9 509.8 303.2 509.1 303.5 509.2 303.8 508.8 304.1 510.8 304.4 509.9 304.7 509.5 305 510.3 305.3 509.1 305.6 508.9 305.9 510 306.2 510.9 306.5 510 306.8 509.9 307.1 511.1 307.4 508.7 307.7 512.1 308 509 308.3 509.7 308.6 508.8 308.9 508.9 309.2 509.6 309.5 511.6 309.8 509.1 310.1 509.3 310.4 510 310.7 509 311 509.6 311.3 510.4 311.6 508.2 311.9 509.5 312.2 509.6 312.5 509.4 312.8 509.7 313.1 508.4 313.4 509.5 313.7 509.4 314 509 314.3 510.7 314.6 511.2 314.9 510.4 315.2 509.1 315.5 510.8 315.8 510.1 316.1 509.2 316.4 510.2 316.7 509.3 317 510.2 317.3 510.5 317.6 510.6 317.9 509 318.2 509.7 318.5 509.8 318.8 508.9 319.1 510.1 319.4 510.3 319.7 508.7 320 509.4 320.3 508.9 320.6 508.8 320.9 509 321.2 510.8 321.5 509.3 321.8 509.5 322.1 510.5 322.4 510.5 322.7 510.8 323 508.3 323.3 510.3 323.6 508.5 323.9 509.3 324.2 509.5 324.5 509.3 324.8 511.2 325.1 509.6 325.4 510.6 325.7 509.6 326 509.7 326.3 510.2 326.6 510.1 326.9 510.1 327.2 508.5 327.5 510.1 327.8 510 328.1 510.2 328.4 509.7 328.7 510.1 329 508.8 329.3 510.6 329.6 508.9 329.9 510.8 330.2 510.5 330.5 509.7 330.8 509.6 331.1 510.4 331.4 509.5 331.7 508.9 332 510 332.3 508.9 332.6 509.4 332.9 511.1 333.2 510.4 333.5 509.4 333.8 509.7 334.1 509.3 334.4 509.8 334.7 508.7 335 510.3 335.3 509.8 335.6 509.3 335.9 509.3 336.2 511.7 336.5 509.4 336.8 509.4 337.1 509.3 337.4 509.4 337.7 510.7 338 510.3 338.3 510.1 338.6 510 338.9 508.9 339.2 508 339.5 510.9 339.8 510.3 340.1 509.9 340.4 510 340.7 509.9 341 509.8 341.3 509.6 341.6 508.1 341.9 510.2 342.2 509.8 342.5 510.5 342.8 510 343.1 509.6 343.4 510.2 343.7 509.9 344 509.4 344.3 509.5 344.6 509.5 344.9 509.5 345.2 509.4 345.5 510.5 345.8 511.9 346.1 509.7 346.4 510.6 346.7 508.3 347 507.4 347.3 509.4 347.6 509.7 347.9 509.2 348.2 508.8 348.5 509.1 348.8 509.4 349.1 509.9 349.4 509.5 349.7 508.9 350 509.5 350.3 510.9 350.6 509.1 350.9 509.8 351.2 510.5 351.5 509.2 351.8 509.3 352.1 511.9 352.4 510.7 352.7 509.4 353 509.9 353.3 509.8 353.6 509.9 353.9 510.1 354.2 509.5 354.5 508.1 354.8 509.1 355.1 509.9 355.4 508.8 355.7 509.5 356 510.9 356.3 509.9 356.6 509.3 356.8 509.9 356.9 510.5 357.2 508.5 357.3 508.8 357.5 509.3 357.8 509.4 358.1 509.7 358.3 509.3 358.4 509.8 358.7 509.8 358.8 508.9 359 509.3 359.3 508.8 359.6 509.9 359.8 509.9 359.9 510.2 360.1 509 360.2 509.3 360.2 508 360.2 509.7 360.3 508.5 360.3 509.9 360.4 510.5 360.5 510 360.5 510.1 360.5 509.8 360.6 509.9 360.7 510.3 360.7 510.5 360.8 511 360.8 509.4 360.8 510.1 360.9 510.1 361 509.7 361 509.4 361.1 507.9 361.1 509.6 361.2 507.4 361.2 506 361.3 503.2 361.3 500.2 361.4 494.9 361.4 495 361.5 489.5 361.5 484.6 361.6 482.5 361.7 485 361.7 488 361.7 488.7 361.8 493.8 361.9 499.3 361.9 503.2 362 506.3 362 507 362 506.3 362.1 509.9 362.2 508.6 362.2 509.1 362.3 508 362.3 508.1 362.4 508.8 362.4 509.7 362.5 510.2 362.5 508.3 362.6 509.8 362.6 510.7 362.7 509.4 362.7 510.3 362.8 509.9 362.9 509 362.9 510.4 362.9 509.2 363 510 363 509.4 363.1 509.5 363.1 509.8 363.2 510.7 363.5 508.5 363.6 508.9 363.8 509.8 363.9 510.5 364.1 509.6 364.4 509.6 364.6 510.1 364.7 510.9 364.9 509.1 365 508.5 365.1 509.5 365.3 510.3 365.4 508.8 365.6 510.6 365.9 510.4 366.1 510.3 366.2 509.1 366.4 508.8 366.4 510.2 366.5 509.9 366.5 510.2 366.5 508.7 366.6 507.6 366.6 510.5 366.7 510.4 366.8 509.5 366.8 509.7 366.8 510 366.9 510.2 367 509.5 367 509.3 367.1 508.9 367.1 510.4 367.1 509.7 367.2 507.1 367.3 509.8 367.3 509.1 367.4 508.3 367.4 508.9 367.5 507.9 367.5 507.7 367.6 506.1 367.6 504.7 367.7 501.3 367.7 500.2 367.8 498.1 367.8 495.1 367.9 495.7 368 496 368 496.2 368 497.9 368.1 501.5 368.1 502 368.2 503 368.2 506.4 368.3 508.2 368.3 509 368.3 509.6 368.4 509.2 368.5 508.5 368.5 509.3 368.6 510.1 368.6 508.9 368.7 510.6 368.7 509 368.8 508.8 368.8 510.3 368.9 509.6 368.9 509.9 369 509.5 369 509.7 369.1 509.3 369.1 511.1 369.2 510.2 369.2 509.6 369.2 510.1 369.3 510.3 369.3 509.3 369.4 509.8 369.5 509.9 369.6 509.3 369.8 509.1 370.1 509.6 370.2 509.5 370.4 509.4 370.6 508.3 370.7 509.8 371 510.2 371.1 509.8 371.2 511 371.3 510.3 371.4 509.4 371.5 509.2 371.5 510.1 371.6 509.4 371.6 508.5 371.6 509.7 371.7 509.4 371.7 509.5 371.8 510.1 371.8 509.8 371.9 511.1 371.9 509.1 372 509.5 372 509.8 372.1 509.2 372.1 509.1 372.2 510.8 372.2 508.4 372.3 509.6 372.3 507.9 372.4 509 372.5 506.4 372.5 505.9 372.5 506.8 372.6 504.1 372.6 498.4 372.7 491.4 372.7 493.1 372.8 486.2 372.8 482.8 372.8 480.6 372.9 477.8 373 480.8 373 485.9 373.1 492.5 373.1 494 373.2 497.8 373.2 501.3 373.3 505.1 373.3 506.9 373.4 508.4 373.4 508.4 373.5 509.1 373.5 510.3 373.6 509.5 373.7 508.7 373.7 509.3 373.7 508.9 373.8 509.4 373.8 510 373.9 508.8 374 510.1 374 511 374 510.7 374.1 510.9 374.2 509.7 374.2 508.7 374.3 511.1 374.3 509.6 374.3 509.9 374.4 509.4 374.6 509 374.9 510.2 375.2 508.7 375.5 508.7 375.7 510.1 375.8 509.5 376.1 509.1 376.2 510.1 376.4 510.8 376.7 509.5 377 509.6 377.2 510.2 377.3 510.4 377.4 510.5 377.6 510.2 377.7 509.3 377.9 510.1 378.2 509.8 378.4 508.5 378.5 510.7 378.8 510.2 378.9 510.8 379.1 509.7 379.4 510.3 379.7 509.7 379.9 509.9 380 510.4 380.3 509.8 380.4 510.2 380.6 509.7 380.7 510.6 380.8 510.2 380.8 508.5 380.9 511 380.9 510 380.9 509.3 381 509.3 381.1 511.2 381.1 509.8 381.2 510.1 381.2 510.1 381.3 509.2 381.3 510.9 381.4 511.2 381.4 509.1 381.5 510.5 381.5 508.4 381.6 509.3 381.6 509.5 381.7 509.3 381.8 509.3 381.8 508.7 381.8 508.3 381.9 506.6 381.9 504.8 382 501.5 382.1 500.4 382.1 498 382.1 497.6 382.2 495.8 382.3 496.6 382.3 498.9 382.4 501 382.4 503.9 382.5 504.9 382.5 506.8 382.6 507.7 382.6 509.8 382.7 509 382.7 508.9 382.8 509.1 382.8 510.7 382.9 509.8 383 509.5 383 509.2 383 510.6 383.1 509.9 383.1 509.4 383.2 510.3 383.3 510.4 383.3 509 383.3 510.6 383.4 510.5 383.5 509.5 383.5 508.8 383.6 510.5 383.6 509.5 383.6 509.6 383.7 509.5 383.9 509.5 384.2 510.3 384.5 508.9 384.8 510.1 385 510.6 385.1 510.5 385.4 510.3 385.5 509.9 385.7 509.6 386 509.7 386.3 509.1 386.5 511 386.6 509.7 386.9 509 387 510.4 387.2 510.8 387.5 510 387.8 509.5 388.1 508.9 388.4 510.2 388.7 509.6 389 509.3 389.3 510.2 389.6 508.8 389.9 510.3 390.2 508 390.5 509.3 390.8 508.7 391.1 509.6 391.4 510.3 391.7 508.8 392 510.7 392.3 509.3 392.6 509.4 392.9 510.5 393.2 509.2 393.5 510.8 393.8 509.6 394.1 509.7 394.4 509.1 394.7 510.6 395 509.7 395.3 509.4 395.6 509.1 395.9 509.3 396.2 509.7 396.5 509.2 396.8 510.3 397.1 509.7 397.4 509.3 397.7 510.1 398 510.8 398.3 508.2 398.6 510 398.9 510.6 399.2 509.9 399.5 510.4 399.8 508.7 400.1 509.2 400.4 510.5 400.7 509.7 401 509.8 401.3 510.2 401.6 510 401.9 510.1 402.2 509.4 402.5 509.5 402.8 510.7 403.1 509.4 403.4 508.7 403.7 509.5 404 510.4 404.3 511.1 404.6 509.9 404.9 509.3 405.2 510.2 405.5 510 405.8 510.6 406.1 510.1 406.4 510.3 406.7 510.1 407 510.1 407.3 509.1 407.6 509.6 407.9 510.9 408.2 510.7 408.5 510.5 408.8 510 409.1 509.7 409.4 510 409.7 509.5 410 510.5 410.3 509.5 410.6 509.2 410.9 508.6 411.2 510.9 411.5 509.2 411.8 509.1 412.1 510.1 412.4 511 412.7 510.3 413 509.5 413.3 510.2 413.6 509.2 413.9 509.6 414.2 509.8 414.5 509.8 414.8 510.3 415.1 510.2 415.4 511.1 415.7 510.4 416 509.6 416.3 510 416.6 509.1 416.9 509.3 417.2 509.5 417.5 510.5 417.8 509.3 418.1 508.6 418.4 509 418.7 508.9 419 509.6 419.3 509.5 419.6 508.9 419.9 509.2 420.2 509.5 420.5 510.1 420.8 510.2 421.1 510.7 421.4 509.6 421.7 510.2 422 509.8 422.3 509 422.6 509.3 422.9 511.4 423.2 509.6 423.5 511 423.8 510.3 424.1 511 424.4 509.6 424.7 510.5 425 509.5 425.3 509 425.6 508.9 425.9 510.1 426.2 508.6 426.5 510 426.8 509.1 427.1 510 427.4 508.8 427.7 510.4 428 509.6 428.3 508.7 428.6 508.7 428.9 509.8 429.2 508.6 429.5 510 429.8 510.1 430.1 509.3 430.4 510.7 430.7 510.8 431 510 431.3 510.1 431.6 510.1 431.9 509.6 432.2 510.7 432.5 509.4 432.8 508 433.1 509.8 433.4 510.1 433.7 510.4 434 509 434.3 510.8 434.6 509.2 434.9 510.2 435.2 510.3 435.5 509.9 435.8 510.5 436.1 509.4 436.4 511.2 436.7 510.1 437 509.4 437.3 511.7 437.6 509.7 437.9 508.6 438.2 510.7 438.5 510.9 438.8 509.3 439.1 509.1 439.4 510.5 439.7 509.8 440 509.1 440.3 509.4 440.6 509.8 440.9 510.5 441.2 510.9 441.5 509.3 441.8 510.8 442.1 508.7 442.4 510.2 442.7 509.7 443 510.1 443.3 509.5 443.6 509.2 443.9 510 444.2 510.5 444.5 508.2 444.8 509.8 445.1 509.5 445.4 509 445.7 508.8 446 510.1 446.3 510.2 446.6 510.2 446.9 508.3 447.2 508.7 447.5 509.3 447.8 509.4 448.1 511 448.4 509.5 448.7 509.9 449 510.4 449.3 511 449.6 510 449.9 510 450.2 511.1 450.5 509.5 450.8 508.5 451.1 509.2 451.4 509.5 451.7 510.7 452 510 452.3 510.6 452.6 509.8 452.9 509.8 453.2 509.3 453.4 508.9 453.5 510.1 453.8 510 453.9 510.1 454.1 509.4 454.4 509.4 454.7 510 454.9 510.2 455 511.2 455.3 509.1 455.4 510.5 455.6 510.3 455.9 509.5 456.2 509.8 456.4 509.7 456.5 510.8 456.7 511.5 456.8 509.9 456.8 509.5 456.8 510.3 456.9 510 456.9 509.5 457 510.2 457.1 510.2 457.1 509.4 457.1 510.2 457.2 508 457.3 508.7 457.3 509.4 457.4 509.6 457.4 508.5 457.4 510.5 457.5 509.2 457.6 509.4 457.6 509.1 457.7 509.3 457.7 508.3 457.8 508.3 457.8 505.5 457.9 502.1 457.9 499 458 494.1 458 493.6 458.1 485.4 458.1 481.8 458.2 479.3 458.3 481.6 458.3 484.2 458.3 486.5 458.4 492.4 458.5 499.4 458.5 501.9 458.6 504.9 458.6 507.1 458.6 509.3 458.7 508.2 458.8 508.5 458.8 508.5 458.9 508.7 458.9 510.3 459 510 459 510.2 459.1 509.8 459.1 509.7 459.2 509.2 459.2 508.9 459.3 510.1 459.3 511.4 459.4 509.4 459.5 510.5 459.5 509.2 459.5 509.7 459.6 510.9 459.6 509.6 459.7 510.2 459.8 509.3 460.1 511.1 460.4 508.8 460.5 510.1 460.7 509.5 461 509.9 461.3 510 461.5 510.7 461.6 510.3 461.9 510.5 462 510 462.2 509 462.5 510.7 462.8 510.9 463 510.1 463.1 510.3 463.4 509.6 463.7 508.7 464 510.4 464.3 509.2 464.6 511.1 464.9 510.3 465.2 509.7 465.5 509.3 465.8 509.8 466.1 509 466.4 509.5 466.7 510.9 467 509.5 467.3 511.1 467.6 509.7 467.9 510.1 468.2 509.1 468.5 509.5 468.8 509.4 469.1 508.7 469.4 511.1 469.7 510.2 470 509.7 470.3 509 470.6 509.7 470.9 509 471.2 509 471.5 509.6 471.8 511.3 472.1 508.5 472.4 510.1 472.7 509.4 473 507.6 473.3 508.7 473.6 509.6 473.9 509.8 474.2 509.2 474.5 511 474.8 510.1 475.1 509.3 475.4 508.5 475.7 509.9 476 509.2 476.3 510.5 476.6 509 476.9 510.6 477.2 509.4 477.5 509.9 477.8 509.5 478.1 510.2 478.4 510.5 478.7 509.3 479 509.1 479.3 511.1 479.6 510.4 479.9 511.1 480.2 510.4 480.5 509.8 480.8 510.9 481.1 509.3 481.4 509.4 481.7 509.4 482 510.2 482.3 509.1 482.6 509.6 482.9 509.1 483.2 509.5 483.5 510.6 483.8 510.5 484.1 509.6 484.4 511.5 484.7 509.2 485 510 485.3 509.4 485.6 508.1 485.9 508.9 486.2 510.6 486.5 508.5 486.8 511.8 487.1 509.6 487.4 509.9 487.7 510.6 488 509.7 488.3 509.3 488.6 509.3 488.9 509 489.2 510.1 489.5 509.4 489.8 510.1 490.1 508.6 490.4 509.4 490.7 511.2 491 510 491.3 509.6 491.6 510.5 491.9 509.9 492.2 510.8 492.5 508.9 492.8 510.2 493.1 508.9 493.4 510.2 493.7 511.5 494 510.8 494.3 509.1 494.6 510 494.9 510.1 495.2 509.2 495.5 509.9 495.8 508.9 496.1 510.4 496.4 510.3 496.7 509.6 497 510.2 497.3 511.4 497.6 509.6 497.9 508.3 498.2 509.9 498.5 509.4 498.8 509.1 499.1 510.4 499.4 510.4 499.7 510.1 500 510.9 500.3 509.2 500.6 509.4 500.9 510 501.2 507.7 501.5 507.7 501.8 509.9 502.1 509.5 502.4 509.7 502.7 509 503 509.8 503.3 510.5 503.6 509.2 503.9 510.1 504.2 509.6 504.5 509.6 504.8 509.8 505.1 510.8 505.4 510 505.7 510.2 506 509.8 506.3 508.1 506.6 510.3 506.9 509.7 507.2 509.7 507.5 509.3 507.8 508.6 508.1 510.8 508.4 511 508.7 510.8 509 508.3 509.3 510.1 509.6 508.8 509.9 509.5 510.2 509.3 510.5 509.2 510.8 509.1 511.1 509.3 511.4 510.2 511.7 510.9 512 510.3 512.3 509.7 512.6 509.6 512.9 509.5 513.2 509.6 513.5 509.2 513.8 509.5 514.1 510.3 514.4 509.5 514.7 509.1 515 509.6 515.3 509.7 515.6 509.6 515.9 509.5 516.2 510.2 516.5 509.6 516.8 508.9 517.1 510.1 517.4 509.1 517.7 510.2 518 510.2 518.3 510 518.6 509.9 518.9 508.7 519.2 509.5 519.5 509.7 519.8 510.1 520.1 508.8 520.4 509.5 520.7 508.5 521 509.8 521.3 509.7 521.6 509.7 521.9 510.8 522.2 510.1 522.5 509.5 522.8 509.2 523.1 509.3 523.4 510.2 523.7 510.3 524 509.3 524.3 509.5 524.6 509.3 524.9 510.1 525.2 509.7 525.5 509.1 525.8 509 526.1 510.6 526.4 508.6 526.7 508.3 527 507.4 527.3 511.1 527.6 509.2 527.8 510.2 527.9 510 528.2 510.2 528.3 510.4 528.5 509.2 528.8 509.6 529.1 510.3 529.3 510 529.4 509 529.7 509 529.8 508.5 530 509.7 530.3 509.2 530.6 508.4 530.8 509.1 530.9 509.8 531.1 509.7 531.2 509.3 531.2 509.6 531.2 510 531.3 508.6 531.3 508.9 531.4 510.2 531.5 510 531.5 508.4 531.5 508.9 531.6 510.5 531.7 509.9 531.7 509.3 531.8 510.1 531.8 510.3 531.8 510.3 531.9 508.2 532 508.2 532 508.6 532.1 508.4 532.1 508.2 532.2 507.6 532.2 506.7 532.3 503.1 532.3 498.1 532.4 492.2 532.4 492.3 532.5 484.6 532.5 479 532.6 476.5 532.7 477.4 532.7 483.3 532.7 484.3 532.8 491.7 532.9 499 532.9 502.1 533 504.7 533 507.1 533 507.6 533.1 507.8 533.2 509.6 533.2 509.1 533.3 508.5 533.3 507.4 533.4 508.6 533.4 509.6 533.5 508.6 533.5 510.1 533.6 511 533.6 509.6 533.7 509.6 533.7 509.4 533.8 510.1 533.9 509.5 533.9 510.2 533.9 510.5 534 510.1 534 508.8 534.1 510 534.2 509.3 534.5 509.7 534.8 510.2 534.9 509 535.1 509.7 535.4 510.6 535.7 508.9 535.9 509.4 536 510 536.3 509.4 536.4 510.3 536.6 508.8 536.9 508.4 537.2 509.8 537.4 509.4 537.5 509.8 537.8 510.2 538.1 510.3 538.4 509.3 538.7 509.2 539 508.1 539.3 508.8 539.6 509.7 539.9 509.7 540.2 508.4 540.5 510.1 540.8 509.4 541.1 510.3 541.4 509.2 541.7 510.2 542 508.7 542.3 508.1 542.6 508.9 542.9 510 543.2 509.7 543.5 508 543.8 509.5 544.1 509.9 544.4 510.6 544.7 510 545 509.8 545.3 508.2 545.6 509.7 545.9 507.9 546.2 509.2 546.5 509.1 546.8 508.7 547.1 508.6 547.4 509.2 547.7 509.8 548 508.9 548.3 509.5 548.6 509.8 548.9 509.3 549.2 510.6 549.5 509 549.8 508.7 550.1 507.8 550.4 510 550.7 509.7 551 509.1 551.3 509.4 551.6 509.1 551.9 509.8 552.1 509.1 552.2 509.3 552.5 509.1 552.6 508.5 552.8 507.5 553.1 509.5 553.4 508.2 553.6 509.3 553.7 509.5 554 510.4 554.1 508.4 554.3 509.1 554.6 509.6 554.9 508.4 554.9 508.5 555 509.2 555 510.3 555.1 509.6 555.1 509.5 555.2 508.1 555.2 509.3 555.3 509.6 555.3 507.9 555.4 508.8 555.5 508.6 555.5 509.2 555.5 507.5 555.6 509.2 555.6 508.6 555.7 508.4 555.8 507 555.8 506.9 555.8 507.9 555.9 508.4 556 507.3 556 506 556.1 501.4 556.1 501.9 556.1 499.4 556.2 491.9 556.3 487.8 556.3 482.1 556.4 481.1 556.5 482.7 556.5 486.1 556.6 492.2 556.7 499.3 556.7 501.6 556.7 503.4 556.8 505.5 556.8 507.5 556.9 507.4 557 508.3 557 507.9 557 508.9 557.1 507.9 557.2 509.2 557.2 509.6 557.3 507.6 557.3 508.3 557.3 508.8 557.4 509.8 557.5 509.3 557.5 508.5 557.6 507.2 557.6 509.1 557.7 508 557.7 508.6 557.8 508.7 557.8 507.4 557.9 509.2 557.9 509.1 558.2 508.8 558.5 508.8 558.7 508.5 558.8 507.2 559.1 507.8 559.2 508.7 559.4 507.8 559.7 508 560 508.1 560.2 507.8 560.3 507.9 560.6 507.9 560.7 507.5 560.9 506.6 561.2 507.1 561.5 508 561.8 506.8 562.1 507.9 562.4 508.2 562.7 508.2 563 507.9 563.3 511 563.6 511.3 563.9 511.8 564.2 513.2 564.5 512 564.8 512.7 565.1 512.5 565.4 512.4 565.7 513.6 565.9 510.6 566 512.7 566.3 511.7 566.4 511.6 566.6 511.3 566.9 511.7 567.2 511.6 567.4 510.8 567.5 512.6 567.8 510.8 567.9 511.2 568.1 510.4 568.4 511.3 568.7 511.4 568.7 511.9 568.8 511.9 568.8 510.7 568.9 512.3 568.9 511 569 512.2 569 512.3 569.1 510.7 569.1 510.2 569.2 511.4 569.3 512 569.3 511.2 569.3 511.7 569.4 511.3 569.4 511.4 569.5 511.7 569.6 510.4 569.6 509.5 569.6 510.3 569.7 509.4 569.8 508.1 569.8 506.9 569.9 504.3 569.9 501.5 569.9 497.9 570 493.3 570.1 485.4 570.1 480.3 570.2 479.3 570.3 481.4 570.3 486.2 570.4 493.1 570.5 497 570.5 503.2 570.5 504 570.6 505.9 570.6 509 570.7 510.2 570.8 510.2 570.8 511 570.8 511.1 570.9 510.6 571 510.4 571 509.8 571.1 511.5 571.1 510.3 571.1 510.9 571.2 511.9 571.3 511.3 571.3 509.8 571.4 510.7 571.4 510.2 571.5 509.6 571.5 510.2 571.6 511.2 571.6 511 571.7 510.6 571.7 510.9 572 509.9 572.3 510.2 572.5 510.6 572.6 511.3 572.9 510.5 573 510.6 573.2 510.9 573.5 511.8 573.8 509.8 574 511 574.1 510.8 574.4 510.6 574.5 510.8 574.7 509.1 575 510.6 575.3 510.4 575.6 509.7 575.9 511.2 576.2 510.5 576.5 510.3 576.8 511.1 577.1 509.8 577.4 510 577.7 511.1 578 511.1 578.3 512 578.6 510.1 578.9 509.4 579.2 509.4 579.5 509.6 579.8 510.5 580.1 510.3 580.4 509.9 580.7 509.7 581 509.9 581.3 510.1 581.6 511.2 581.9 510.9 582.2 511.3 582.5 511 582.8 510.9 583.1 511.2 583.4 510.7 583.7 511.5 584 511.1 584.3 511.7 584.6 510.5 584.9 509.8 585.2 512.1 585.5 510.1 585.8 510.7 586.1 510 586.4 509.8 586.7 510.6 587 509.5 587.3 510.2 587.6 511.3 587.9 510.4 588.2 510.9 588.5 510.8 588.8 510.6 589.1 510.4 589.4 510.7 589.7 509.6 590 510.7 590.3 509.5 590.6 509.7 590.9 509.8 591.2 509.3 591.5 508.8 591.8 510.5 592.1 510.6 592.4 510.7 592.7 511.9 593 510.4 593.3 510.8 593.6 509.7 593.9 510.8 594.2 509.4 594.5 511.7 594.8 509.5 595.1 509.9 595.4 510.8 595.7 508.6 596 511.2 596.3 509.5 596.6 510.4 596.9 510.9 597.2 510.3 597.5 510.9 597.8 509.9 598.1 510.6 598.4 508.7 598.7 511.3 599 509.7 599.3 509.6 599.6 510.2 599.8 511.5 599.9 509.7 600.2 510.2 600.3 509.9 600.5 509.5 600.8 509.3 601.1 510.6 601.3 510.7 601.4 509.6 601.7 510.3 601.8 510.5 602 510.4 602.3 510 602.6 510.2 602.8 510.4 602.9 509.4 603.1 510 603.2 510.7 603.2 509.7 603.2 511 603.3 509.9 603.3 509.3 603.4 509.9 603.5 509.1 603.5 510.5 603.5 509 603.6 510.1 603.7 509.9 603.7 509.8 603.8 510.3 603.8 510.2 603.8 509.6 603.9 510.5 604 509.5 604 510.4 604.1 510.3 604.1 509.6 604.2 509.3 604.2 506.2 604.3 505.1 604.3 500 604.4 497.1 604.4 496.9 604.5 489.4 604.5 486.6 604.6 485 604.7 486.5 604.7 489.5 604.7 491.8 604.8 495.6 604.9 500.6 604.9 503.4 605 506.7 605 506.3 605 507.5 605.1 509.7 605.2 510.3 605.2 509.3 605.3 510.2 605.3 509.4 605.4 510.8 605.4 511.2 605.5 508.2 605.5 509.4 605.6 509.6 605.6 509.7 605.7 511.2 605.7 511.2 605.8 510.1 605.9 510.5 605.9 508.9 605.9 509.9 606 509.9 606 510 606.1 510.3 606.2 509 606.5 509.4 606.8 511.7 606.9 508.9 607.1 510.2 607.4 510.7 607.7 510.5 607.9 510.2 608 509 608.3 509.8 608.4 509.1 608.6 511.6 608.9 510.4 609.2 510.7 609.4 510.3 609.5 509.9 609.8 511 610.1 510.8 610.4 510.6 610.7 510.6 611 510.7 611.3 509.9 611.6 510.5 611.9 510.2 612.2 510 612.5 510.6 612.8 511.7 613.1 508.6 613.4 511.2 613.7 509.8 614 511 614.3 509.4 614.6 510 614.9 510.9 615.2 510.1 615.5 510.4 615.8 509.3 616.1 509.3 616.4 511.3 616.7 510.3 617 510.1 617.3 509.1 617.6 509.4 617.9 509.4 618.2 510.1 618.5 510 618.8 509.7 619.1 509.6 619.4 510.2 619.7 511 620 509.1 620.3 509.1 620.6 510.9 620.9 509.1 621.2 509.8 621.5 510.2 621.8 511.4 622.1 508.6 622.4 508.1 622.7 510.1 623 510.9 623.3 510.2 623.6 509.5 623.9 510.3 624.2 508.7 624.5 510.7 624.8 511.2 625.1 510 625.4 510.7 625.7 509.3 626 511.2 626.3 509.6 626.6 509.6 626.9 509.6 627.2 508.9 627.5 510.6 627.8 511.5 628.1 509.1 628.4 510 628.7 510.4 629 509.7 629.3 509 629.6 510.3 629.9 510.9 630.2 510.2 630.5 509.3 630.8 509.9 631.1 508.7 631.4 510.1 631.7 511 632 510.9 632.3 510 632.6 510.4 632.9 509.7 633.2 510.2 633.5 509.7 633.8 510.2 634.1 509.7 634.4 510.2 634.7 510.6 635 510.1 635.3 509.1 635.6 510.5 635.9 509.9 636.2 509.7 636.5 510.5 636.8 509.5 637.1 510.8 637.4 510.5 637.7 509.6 638 509.6 638.3 510 638.6 509.5 638.9 510.8 639.2 508.5 639.5 510.2 639.8 509.8 640.1 509.3 640.4 510.5 640.7 509.7 641 510.4 641.3 509.8 641.6 509.9 641.9 510.5 642.2 510.8 642.5 510.8 642.8 510.1 643.1 511.2 643.4 509.9 643.7 509.1 644 508.8 644.3 509 644.6 509.5 644.9 508.8 645.2 510.3 645.5 510.1 645.8 510.1 646.1 510.3 646.4 510 646.7 509.9 647 509.9 647.3 510.1 647.6 509.3 647.9 511 648.2 511.2 648.5 510.1 648.8 511.7 649.1 509.4 649.4 510.7 649.7 508.9 650 510.5 650.3 509.5 650.6 510.8 650.9 510.2 651.2 510.8 651.5 510.5 651.8 510.5 652.1 509.9 652.4 511.2 652.7 510.3 653 510.4 653.3 511.1 653.6 509.9 653.9 511.4 654.2 510.8 654.5 510.1 654.8 509.1 655.1 511 655.4 509.9 655.7 510.2 656 510.2 656.3 510.8 656.6 510.5 656.9 508.7 657.2 509.6 657.5 510.3 657.8 510.2 658.1 510.7 658.4 510.5 658.7 511.3 659 509.6 659.3 511 659.6 510.3 659.9 510.3 660.2 510.6 660.5 509.8 660.8 510.6 661.1 509.9 661.4 510.6 661.7 509.5 662 510.9 662.3 509 662.6 509.6 662.9 510 663.2 510.2 663.5 509.5 663.8 509.8 664.1 510.3 664.4 510.8 664.7 511 665 509.7 665.3 510 665.6 509.9 665.9 509 666.2 509.8 666.5 510.9 666.8 509.1 667.1 512.2 667.4 510.8 667.7 511.3 668 510.2 668.3 508.4 668.6 510.4 668.9 511.2 669.2 509.7 669.5 511 669.8 510.6 670.1 510.6 670.4 510.6 670.7 510.5 671 510.5 671.3 511 671.6 510.4 671.9 510.5 672.2 510.4 672.5 510.2 672.8 509.5 673.1 508.7 673.4 509.3 673.7 509.2 674 509 674.3 510.6 674.6 509.8 674.9 511 675.2 512.3 675.5 510.6 675.8 509.7 676.1 510.3 676.4 509.9 676.7 510.3 677 511.5 677.3 511.2 677.6 511 677.9 510.3 678.2 511.3 678.5 510.7 678.8 510.7 679.1 509.2 679.4 509.6 679.7 510.2 680 509.9 680.3 509.7 680.6 508.6 680.9 509.5 681.2 510 681.5 510.3 681.8 509.3 682.1 510 682.4 511.3 682.7 510.2 683 508.7 683.3 509.9 683.6 510.1 683.9 511"/>
<path d="M563.0 269.4 V336" stroke="#ff00ff" stroke-width="5.4"/>
<path d="M564.4 269.4 V306" stroke="#d0003a" stroke-width="1.6"/>
<path d="M562.4 338 V393" stroke="#ff0000" stroke-width="3.6"/>
<path d="M562.4 401 V452" stroke="#0000ff" stroke-width="3.6"/>
<path d="M563.0 269.4 V338" stroke="#000" stroke-width="2.6"/>
<path d="M563.1 337 V510.5" stroke="#000" stroke-width="3.5"/>
</g>
<polygon points="227.40,29.00 228.99,32.72 233.01,33.08 229.97,35.73 230.87,39.67 227.40,37.60 223.93,39.67 224.83,35.73 221.79,33.08 225.81,32.72" fill="#fff" stroke="#3a3a3a" stroke-width="0.95" stroke-linejoin="miter"/>
<polygon points="264.70,29.00 266.29,32.72 270.31,33.08 267.27,35.73 268.17,39.67 264.70,37.60 261.23,39.67 262.13,35.73 259.09,33.08 263.11,32.72" fill="#fff" stroke="#3a3a3a" stroke-width="0.95" stroke-linejoin="miter"/>
<polygon points="345.00,29.00 346.59,32.72 350.61,33.08 347.57,35.73 348.47,39.67 345.00,37.60 341.53,39.67 342.43,35.73 339.39,33.08 343.41,32.72" fill="#fff" stroke="#3a3a3a" stroke-width="0.95" stroke-linejoin="miter"/>
<polygon points="549.40,29.00 550.99,32.72 555.01,33.08 551.97,35.73 552.87,39.67 549.40,37.60 545.93,39.67 546.83,35.73 543.79,33.08 547.81,32.72" fill="#fff" stroke="#3a3a3a" stroke-width="0.95" stroke-linejoin="miter"/>
<polygon points="376.6,28.2 388.7,28.2 382.6,39.9" fill="#000"/>
<path d="M227.5 41 L227.5 62" stroke="#333" stroke-width="1.1" stroke-dasharray="2.6,1.9" fill="none"/>
<path d="M227.8 67 L227.8 97" stroke="#333" stroke-width="1.1" stroke-dasharray="2.6,1.9" fill="none"/>
<path d="M231.3 116 L231.3 221" stroke="#333" stroke-width="1.1" stroke-dasharray="2.6,1.9" fill="none"/>
<path d="M262.3 41 L262.3 62" stroke="#333" stroke-width="1.1" stroke-dasharray="2.6,1.9" fill="none"/>
<path d="M262 67 L262 98.5" stroke="#333" stroke-width="1.1" stroke-dasharray="2.6,1.9" fill="none"/>
<path d="M265.6 117 L265.6 221" stroke="#333" stroke-width="1.1" stroke-dasharray="2.6,1.9" fill="none"/>
<path d="M345 41 L345 112" stroke="#333" stroke-width="1.1" stroke-dasharray="2.6,1.9" fill="none"/>
<path d="M348.9 116 L348.9 202" stroke="#333" stroke-width="1.1" stroke-dasharray="2.6,1.9" fill="none"/>
<path d="M385.4 44.2 L385.4 106" stroke="#333" stroke-width="1.1" stroke-dasharray="2.6,1.9" fill="none"/>
<path d="M386.4 109 L386.4 218" stroke="#333" stroke-width="1.1" stroke-dasharray="2.6,1.9" fill="none"/>
<path d="M548.1 40 L548.1 62" stroke="#333" stroke-width="1.1" stroke-dasharray="2.6,1.9" fill="none"/>
<path d="M548.3 75 L548.3 107" stroke="#333" stroke-width="1.1" stroke-dasharray="2.6,1.9" fill="none"/>
<path d="M555.2 122 L555.2 200" stroke="#333" stroke-width="1.1" stroke-dasharray="2.6,1.9" fill="none"/>
<polygon points="140.4,286.2 144.2,290.6 140.4,295.0 136.6,290.6" fill="#000"/>
<polygon points="207.4,286.2 211.2,290.6 207.4,295.0 203.6,290.6" fill="#000"/>
<polygon points="271.2,286.2 275.0,290.6 271.2,295.0 267.4,290.6" fill="#000"/>
<polygon points="369.1,286.2 372.9,290.6 369.1,295.0 365.3,290.6" fill="#000"/>
<polygon points="600.4,286.2 604.2,290.6 600.4,295.0 596.6,290.6" fill="#000"/>
<path d="M180.30 286.20 L180.30 292.60 M177.53 287.80 L183.07 291.00 M177.53 291.00 L183.07 287.80" stroke="#222" stroke-width="1.15" stroke-linecap="round"/>
<path d="M529.80 286.20 L529.80 292.60 M527.03 287.80 L532.57 291.00 M527.03 291.00 L532.57 287.80" stroke="#222" stroke-width="1.15" stroke-linecap="round"/>
<path d="M139.6 304.6 L139.6 389" stroke="#333" stroke-width="1.15" stroke-dasharray="4,3" fill="none"/>
<path d="M137.6 401 L137.6 505" stroke="#333" stroke-width="1.15" stroke-dasharray="4,3" fill="none"/>
<path d="M179.6 297 L179.6 390" stroke="#333" stroke-width="1.15" stroke-dasharray="4,3" fill="none"/>
<path d="M181.5 401 L181.5 500" stroke="#333" stroke-width="1.15" stroke-dasharray="4,3" fill="none"/>
<path d="M209.3 297 L209.6 506" stroke="#333" stroke-width="1.15" stroke-dasharray="4,3" fill="none"/>
<path d="M272.4 297 L273.7 477" stroke="#333" stroke-width="1.15" stroke-dasharray="4,3" fill="none"/>
<path d="M368.6 303 L367.3 495" stroke="#333" stroke-width="1.15" stroke-dasharray="4,3" fill="none"/>
<path d="M529.3 293 L529.3 392" stroke="#333" stroke-width="1.15" stroke-dasharray="4,3" fill="none"/>
<path d="M532.4 398 L532.4 505" stroke="#333" stroke-width="1.15" stroke-dasharray="4,3" fill="none"/>
<path d="M603.3 292 L603.3 393" stroke="#333" stroke-width="1.15" stroke-dasharray="4,3" fill="none"/>
<path d="M604.5 398 L604.5 500" stroke="#333" stroke-width="1.15" stroke-dasharray="4,3" fill="none"/>
<text transform="translate(10.2 55.1) scale(1.02 1)" font-size="10.5" font-weight="bold" fill="#ff00ff" stroke="#ff00ff" stroke-width="0.2">Cpd. 27</text>
<text transform="translate(10.1 106.3) scale(1.02 1)" font-size="10.5" font-weight="bold" fill="#ff0000" stroke="#ff0000" stroke-width="0.2">Cpd. 25</text>
<text transform="translate(10.0 156.9) scale(1.02 1)" font-size="10.5" font-weight="bold" fill="#1a1aff" stroke="#1a1aff" stroke-width="0.2">Cpd. 26</text>
<g transform="translate(10.0 207.5) scale(1.02 1)"><text x="0" y="0" font-size="10.5" font-weight="bold" fill="#111" stroke="#111" stroke-width="0.2">Cpd.</text><path transform="translate(26.3 0)" d="M5.05 0 V-7.4 H3.25 Q2.75 -6.0 0.75 -5.2 V-3.6 Q2.05 -4.0 2.95 -4.9 V0 Z" fill="#111" stroke="#111" stroke-width="0.2"/></g>
<text transform="translate(22.1 325.6) scale(1.025 1)" font-size="10.5" font-weight="bold" fill="#ff00ff" stroke="#ff00ff" stroke-width="0.2">Cpd. 27</text>
<text transform="translate(22.1 374.7) scale(1.025 1)" font-size="10.5" font-weight="bold" fill="#ff0000" stroke="#ff0000" stroke-width="0.2">Cpd. 25</text>
<text transform="translate(22.5 423.8) scale(1.025 1)" font-size="10.5" font-weight="bold" fill="#1a1aff" stroke="#1a1aff" stroke-width="0.2">Cpd. 26</text>
<g transform="translate(22.3 472.5) scale(1.0 1)"><text x="0" y="0" font-size="10.5" font-weight="bold" fill="#111" stroke="#111" stroke-width="0.2">Cpd.</text><path transform="translate(26.3 0)" d="M5.05 0 V-7.4 H3.25 Q2.75 -6.0 0.75 -5.2 V-3.6 Q2.05 -4.0 2.95 -4.9 V0 Z" fill="#111" stroke="#111" stroke-width="0.2"/></g>
<path d="M0.9 243.3 H684" stroke="#555" stroke-width="1"/>
<path d="M677.9 243.8 v2.2 M671.4 243.8 v4.2 M664.9 243.8 v2.2 M658.5 243.8 v4.2 M652 243.8 v2.2 M645.5 243.8 v4.2 M639.1 243.8 v2.2 M632.6 243.8 v4.2 M626.2 243.8 v2.2 M619.7 243.8 v4.2 M613.2 243.8 v2.2 M606.8 243.8 v4.2 M600.3 243.8 v2.2 M593.8 243.8 v4.2 M587.4 243.8 v2.2 M580.9 243.8 v4.2 M574.4 243.8 v2.2 M568 243.8 v4.2 M561.5 243.8 v2.2 M555 243.8 v4.2 M548.6 243.8 v2.2 M542.1 243.8 v4.2 M535.7 243.8 v2.2 M529.2 243.8 v4.2 M522.7 243.8 v2.2 M516.3 243.8 v4.2 M509.8 243.8 v2.2 M503.3 243.8 v4.2 M496.9 243.8 v2.2 M490.4 243.8 v4.2 M483.9 243.8 v2.2 M477.5 243.8 v4.2 M471 243.8 v2.2 M464.6 243.8 v4.2 M458.1 243.8 v2.2 M451.6 243.8 v4.2 M445.2 243.8 v2.2 M438.7 243.8 v4.2 M432.2 243.8 v2.2 M425.8 243.8 v4.2 M419.3 243.8 v2.2 M412.8 243.8 v4.2 M406.4 243.8 v2.2 M399.9 243.8 v4.2 M393.4 243.8 v2.2 M387 243.8 v4.2 M380.5 243.8 v2.2 M374.1 243.8 v4.2 M367.6 243.8 v2.2 M361.1 243.8 v4.2 M354.7 243.8 v2.2 M348.2 243.8 v4.2 M341.7 243.8 v2.2 M335.3 243.8 v4.2 M328.8 243.8 v2.2 M322.3 243.8 v4.2 M315.9 243.8 v2.2 M309.4 243.8 v4.2 M303 243.8 v2.2 M296.5 243.8 v4.2 M290 243.8 v2.2 M283.6 243.8 v4.2 M277.1 243.8 v2.2 M270.6 243.8 v4.2 M264.2 243.8 v2.2 M257.7 243.8 v4.2 M251.2 243.8 v2.2 M244.8 243.8 v4.2 M238.3 243.8 v2.2 M231.8 243.8 v4.2 M225.4 243.8 v2.2 M218.9 243.8 v4.2 M212.5 243.8 v2.2 M206 243.8 v4.2 M199.5 243.8 v2.2 M193.1 243.8 v4.2 M186.6 243.8 v2.2 M180.1 243.8 v4.2 M173.7 243.8 v2.2 M167.2 243.8 v4.2 M160.7 243.8 v2.2 M154.3 243.8 v4.2 M147.8 243.8 v2.2 M141.4 243.8 v4.2 M134.9 243.8 v2.2 M128.4 243.8 v4.2 M122 243.8 v2.2 M115.5 243.8 v4.2 M109 243.8 v2.2 M102.6 243.8 v4.2 M96.1 243.8 v2.2 M89.6 243.8 v4.2 M83.2 243.8 v2.2 M76.7 243.8 v4.2 M70.2 243.8 v2.2 M63.8 243.8 v4.2 M57.3 243.8 v2.2 M50.9 243.8 v4.2 M44.4 243.8 v2.2 M37.9 243.8 v4.2 M31.5 243.8 v2.2 M25 243.8 v4.2 M18.5 243.8 v2.2 M12.1 243.8 v4.2 M5.6 243.8 v2.2" stroke="#666" stroke-width="0.9"/>
<text transform="translate(26.6 259.6) scale(1.0 1)" font-size="10" text-anchor="middle" fill="#222" stroke="#222" stroke-width="0.3">10.0</text>
<text transform="translate(52.5 259.6) scale(1.0 1)" font-size="10" text-anchor="middle" fill="#222" stroke="#222" stroke-width="0.3">9.6</text>
<text transform="translate(78.3 259.6) scale(1.0 1)" font-size="10" text-anchor="middle" fill="#222" stroke="#222" stroke-width="0.3">9.2</text>
<text transform="translate(104.2 259.6) scale(1.0 1)" font-size="10" text-anchor="middle" fill="#222" stroke="#222" stroke-width="0.3">8.8</text>
<text transform="translate(130 259.6) scale(1.0 1)" font-size="10" text-anchor="middle" fill="#222" stroke="#222" stroke-width="0.3">8.4</text>
<text transform="translate(155.9 259.6) scale(1.0 1)" font-size="10" text-anchor="middle" fill="#222" stroke="#222" stroke-width="0.3">8.0</text>
<text transform="translate(181.7 259.6) scale(1.0 1)" font-size="10" text-anchor="middle" fill="#222" stroke="#222" stroke-width="0.3">7.6</text>
<text transform="translate(207.6 259.6) scale(1.0 1)" font-size="10" text-anchor="middle" fill="#222" stroke="#222" stroke-width="0.3">7.2</text>
<text transform="translate(233.4 259.6) scale(1.0 1)" font-size="10" text-anchor="middle" fill="#222" stroke="#222" stroke-width="0.3">6.8</text>
<text transform="translate(259.3 259.6) scale(1.0 1)" font-size="10" text-anchor="middle" fill="#222" stroke="#222" stroke-width="0.3">6.4</text>
<text transform="translate(285.2 259.6) scale(1.0 1)" font-size="10" text-anchor="middle" fill="#222" stroke="#222" stroke-width="0.3">6.0</text>
<text transform="translate(311 259.6) scale(1.0 1)" font-size="10" text-anchor="middle" fill="#222" stroke="#222" stroke-width="0.3">5.6</text>
<text transform="translate(336.9 259.6) scale(1.0 1)" font-size="10" text-anchor="middle" fill="#222" stroke="#222" stroke-width="0.3">5.2</text>
<text transform="translate(362.7 259.6) scale(1.0 1)" font-size="10" text-anchor="middle" fill="#222" stroke="#222" stroke-width="0.3">4.8</text>
<text transform="translate(388.6 259.6) scale(1.0 1)" font-size="10" text-anchor="middle" fill="#222" stroke="#222" stroke-width="0.3">4.4</text>
<text transform="translate(414.4 259.6) scale(1.0 1)" font-size="10" text-anchor="middle" fill="#222" stroke="#222" stroke-width="0.3">4.0</text>
<text transform="translate(440.3 259.6) scale(1.0 1)" font-size="10" text-anchor="middle" fill="#222" stroke="#222" stroke-width="0.3">3.6</text>
<text transform="translate(466.2 259.6) scale(1.0 1)" font-size="10" text-anchor="middle" fill="#222" stroke="#222" stroke-width="0.3">3.2</text>
<text transform="translate(492 259.6) scale(1.0 1)" font-size="10" text-anchor="middle" fill="#222" stroke="#222" stroke-width="0.3">2.8</text>
<text transform="translate(517.9 259.6) scale(1.0 1)" font-size="10" text-anchor="middle" fill="#222" stroke="#222" stroke-width="0.3">2.4</text>
<text transform="translate(543.7 259.6) scale(1.0 1)" font-size="10" text-anchor="middle" fill="#222" stroke="#222" stroke-width="0.3">2.0</text>
<text transform="translate(569.6 259.6) scale(1.0 1)" font-size="10" text-anchor="middle" fill="#222" stroke="#222" stroke-width="0.3">1.6</text>
<text transform="translate(595.4 259.6) scale(1.0 1)" font-size="10" text-anchor="middle" fill="#222" stroke="#222" stroke-width="0.3">1.2</text>
<text transform="translate(621.3 259.6) scale(1.0 1)" font-size="10" text-anchor="middle" fill="#222" stroke="#222" stroke-width="0.3">0.8</text>
<text transform="translate(647.1 259.6) scale(1.0 1)" font-size="10" text-anchor="middle" fill="#222" stroke="#222" stroke-width="0.3">0.4</text>
<text transform="translate(673 259.6) scale(1.0 1)" font-size="10" text-anchor="middle" fill="#222" stroke="#222" stroke-width="0.3">0.0</text>
<text transform="translate(344.7 271.3) scale(1.05 1)" font-size="10.5" text-anchor="middle" fill="#222" stroke="#222" stroke-width="0.3">f1 (ppm)</text>
<path d="M1.9 531.1 H682.7" stroke="#555" stroke-width="1"/>
<path d="M679.5 531.6 v1.9 M670.5 531.6 v3.6 M661.5 531.6 v1.9 M652.5 531.6 v3.6 M643.5 531.6 v1.9 M634.4 531.6 v3.6 M625.4 531.6 v1.9 M616.4 531.6 v3.6 M607.4 531.6 v1.9 M598.4 531.6 v3.6 M589.4 531.6 v1.9 M580.3 531.6 v3.6 M571.3 531.6 v1.9 M562.3 531.6 v3.6 M553.3 531.6 v1.9 M544.3 531.6 v3.6 M535.3 531.6 v1.9 M526.2 531.6 v3.6 M517.2 531.6 v1.9 M508.2 531.6 v3.6 M499.2 531.6 v1.9 M490.2 531.6 v3.6 M481.2 531.6 v1.9 M472.1 531.6 v3.6 M463.1 531.6 v1.9 M454.1 531.6 v3.6 M445.1 531.6 v1.9 M436.1 531.6 v3.6 M427.1 531.6 v1.9 M418 531.6 v3.6 M409 531.6 v1.9 M400 531.6 v3.6 M391 531.6 v1.9 M382 531.6 v3.6 M373 531.6 v1.9 M363.9 531.6 v3.6 M354.9 531.6 v1.9 M345.9 531.6 v3.6 M336.9 531.6 v1.9 M327.9 531.6 v3.6 M318.9 531.6 v1.9 M309.9 531.6 v3.6 M300.8 531.6 v1.9 M291.8 531.6 v3.6 M282.8 531.6 v1.9 M273.8 531.6 v3.6 M264.8 531.6 v1.9 M255.8 531.6 v3.6 M246.7 531.6 v1.9 M237.7 531.6 v3.6 M228.7 531.6 v1.9 M219.7 531.6 v3.6 M210.7 531.6 v1.9 M201.7 531.6 v3.6 M192.6 531.6 v1.9 M183.6 531.6 v3.6 M174.6 531.6 v1.9 M165.6 531.6 v3.6 M156.6 531.6 v1.9 M147.6 531.6 v3.6 M138.5 531.6 v1.9 M129.5 531.6 v3.6 M120.5 531.6 v1.9 M111.5 531.6 v3.6 M102.5 531.6 v1.9 M93.5 531.6 v3.6 M84.4 531.6 v1.9 M75.4 531.6 v3.6 M66.4 531.6 v1.9 M57.4 531.6 v3.6 M48.4 531.6 v1.9 M39.4 531.6 v3.6 M30.3 531.6 v1.9 M21.3 531.6 v3.6 M12.3 531.6 v1.9 M3.3 531.6 v3.6" stroke="#666" stroke-width="0.9"/>
<text transform="translate(23.3 547.3) scale(1.14 1)" font-size="10.5" text-anchor="middle" fill="#222" stroke="#222" stroke-width="0.3">180</text>
<text transform="translate(59.4 547.3) scale(1.14 1)" font-size="10.5" text-anchor="middle" fill="#222" stroke="#222" stroke-width="0.3">170</text>
<text transform="translate(95.5 547.3) scale(1.14 1)" font-size="10.5" text-anchor="middle" fill="#222" stroke="#222" stroke-width="0.3">160</text>
<text transform="translate(131.5 547.3) scale(1.14 1)" font-size="10.5" text-anchor="middle" fill="#222" stroke="#222" stroke-width="0.3">150</text>
<text transform="translate(167.6 547.3) scale(1.14 1)" font-size="10.5" text-anchor="middle" fill="#222" stroke="#222" stroke-width="0.3">140</text>
<text transform="translate(203.7 547.3) scale(1.14 1)" font-size="10.5" text-anchor="middle" fill="#222" stroke="#222" stroke-width="0.3">130</text>
<text transform="translate(239.7 547.3) scale(1.14 1)" font-size="10.5" text-anchor="middle" fill="#222" stroke="#222" stroke-width="0.3">120</text>
<text transform="translate(275.8 547.3) scale(1.14 1)" font-size="10.5" text-anchor="middle" fill="#222" stroke="#222" stroke-width="0.3">110</text>
<text transform="translate(311.9 547.3) scale(1.14 1)" font-size="10.5" text-anchor="middle" fill="#222" stroke="#222" stroke-width="0.3">100</text>
<text transform="translate(347.9 547.3) scale(1.14 1)" font-size="10.5" text-anchor="middle" fill="#222" stroke="#222" stroke-width="0.3">90</text>
<text transform="translate(384 547.3) scale(1.14 1)" font-size="10.5" text-anchor="middle" fill="#222" stroke="#222" stroke-width="0.3">80</text>
<text transform="translate(420 547.3) scale(1.14 1)" font-size="10.5" text-anchor="middle" fill="#222" stroke="#222" stroke-width="0.3">70</text>
<text transform="translate(456.1 547.3) scale(1.14 1)" font-size="10.5" text-anchor="middle" fill="#222" stroke="#222" stroke-width="0.3">60</text>
<text transform="translate(492.2 547.3) scale(1.14 1)" font-size="10.5" text-anchor="middle" fill="#222" stroke="#222" stroke-width="0.3">50</text>
<text transform="translate(528.2 547.3) scale(1.14 1)" font-size="10.5" text-anchor="middle" fill="#222" stroke="#222" stroke-width="0.3">40</text>
<text transform="translate(564.3 547.3) scale(1.14 1)" font-size="10.5" text-anchor="middle" fill="#222" stroke="#222" stroke-width="0.3">30</text>
<text transform="translate(600.4 547.3) scale(1.14 1)" font-size="10.5" text-anchor="middle" fill="#222" stroke="#222" stroke-width="0.3">20</text>
<text transform="translate(636.4 547.3) scale(1.14 1)" font-size="10.5" text-anchor="middle" fill="#222" stroke="#222" stroke-width="0.3">10</text>
<text transform="translate(672.5 547.3) scale(1.14 1)" font-size="10.5" text-anchor="middle" fill="#222" stroke="#222" stroke-width="0.3">0</text>
<text transform="translate(344.8 558.2) scale(1.15 1)" font-size="11" text-anchor="middle" fill="#222" stroke="#222" stroke-width="0.3">f1 (ppm)</text>
</svg></body></html>
